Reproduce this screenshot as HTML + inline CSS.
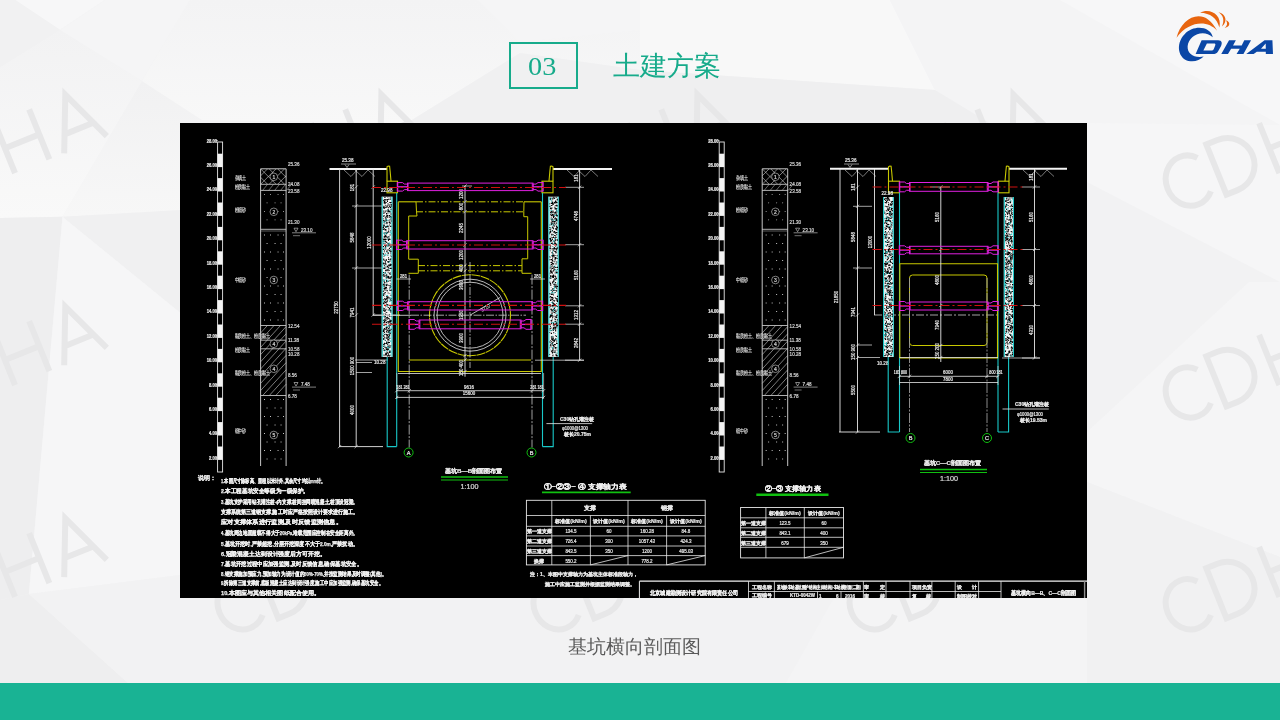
<!DOCTYPE html>
<html><head><meta charset="utf-8">
<style>
html,body{margin:0;padding:0;}
body{width:1280px;height:720px;position:relative;overflow:hidden;background:#f3f3f4;font-family:"Liberation Sans",sans-serif;}
#bg{position:absolute;left:0;top:0;}
.box{position:absolute;left:509px;top:42px;width:65px;height:43px;border:2px solid #17ab8b;}
.num{position:absolute;left:528px;top:54px;font-family:"Liberation Serif",serif;font-size:25px;line-height:25px;color:#17ab8b;transform-origin:0 0;transform:scaleX(1.13);white-space:nowrap;}
.title{position:absolute;left:613px;top:48px;font-size:27px;font-weight:300;color:#17ab8b;white-space:nowrap;}
.cap{position:absolute;left:568px;top:634px;font-size:19px;color:#5a5a5a;white-space:nowrap;}
.bar{position:absolute;left:0;top:683px;width:1280px;height:37px;background:#19b394;}
#cad{position:absolute;left:180px;top:123px;will-change:transform;}
.cap,.title,.num{will-change:transform;}
</style></head>
<body>
<svg id="bg" width="1280" height="720" viewBox="0 0 1280 720">
<defs><linearGradient id="g1" x1="0" y1="0" x2="0" y2="1"><stop offset="0" stop-color="#f2f2f3"/><stop offset="1" stop-color="#f9f9f9"/></linearGradient><linearGradient id="g2" x1="0" y1="0" x2="0" y2="1"><stop offset="0" stop-color="#f3f3f4"/><stop offset="1" stop-color="#f8f8f8"/></linearGradient><linearGradient id="g3" x1="0" y1="0" x2="0" y2="1"><stop offset="0" stop-color="#f1f1f2"/><stop offset="1" stop-color="#f7f7f7"/></linearGradient></defs>
<polygon points="0,0 1280,0 1280,720 0,720" fill="#f3f3f4"/>
<polygon points="15,0 105,0 60,30" fill="#f7f7f8"/>
<polygon points="0,0 15,0 60,30 0,67.5" fill="#f1f1f2"/>
<polygon points="105,0 190,0 142,81 60,30" fill="#f5f5f6"/>
<polygon points="0,67.5 60,30 142,81 62.5,216.7 0,218" fill="url(#g1)"/>
<polygon points="142,81 202,120 180,123 180,211 62.5,216.7" fill="url(#g3)"/>
<polygon points="190,0 478,0 520,42 640,30 640,70 520,53 407,123 202,120 142,81" fill="url(#g2)"/>
<polygon points="478,0 640,0 640,30 520,42" fill="#f5f5f6"/>
<polygon points="520,53 640,70 640,123 407,123" fill="#f0f0f1"/>
<polygon points="640,0 890,0 935,90 640,70" fill="#f8f8f8"/>
<polygon points="640,70 935,90 1087,123 640,123" fill="#efeff0"/>
<polygon points="890,0 1060,0 1280,125 1280,182 1087,182 935,90" fill="#f4f4f5"/>
<polygon points="1060,0 1280,0 1280,125" fill="#f7f7f8"/>
<polygon points="1087,182 1280,282 1249,282 1087,432" fill="#f2f2f3"/>
<polygon points="1087,123 1280,125 1280,282 1087,182" fill="#f6f6f7"/>
<polygon points="1280,282 1249,282 1087,432 1087,482 1280,557" fill="#f5f5f6"/>
<polygon points="1087,482 1280,557 1280,683 1087,683" fill="#f1f1f2"/>
<polygon points="0,218 62.5,216.7 28.9,594 0,600" fill="#eeeeef"/>
<polygon points="62.5,216.7 180,210 180,312.5" fill="#f0f0f1"/>
<polygon points="62.5,216.7 180,312.5 180,575 28.9,594" fill="#f6f6f7"/>
<polygon points="0,600 28.9,594 128,683 0,683" fill="#eeeeef"/>
<polygon points="28.9,594 180,575 180,598 834,598 786,683 128,683" fill="#f2f2f3"/>
<polygon points="834,598 1087,598 1087,683 786,683" fill="#f4f4f5"/>
<g id="wmg" fill="none" stroke="#e7e7e8" stroke-width="6" stroke-linecap="butt">
<path transform="translate(-353.9 194.6) rotate(-22)" d="M-13.2,-9 A23,25.5 0 1 1 -13.2,-45 M0,0 V-54 H12 A27,27 0 0 1 12,0 Z M57,0 V-54 M94,0 V-54 M57,-27 H94 M110,0 L133,-54 L156,0 M117.5,-17.5 H148.5"/>
<path transform="translate(-37.8 194.6) rotate(-22)" d="M-13.2,-9 A23,25.5 0 1 1 -13.2,-45 M0,0 V-54 H12 A27,27 0 0 1 12,0 Z M57,0 V-54 M94,0 V-54 M57,-27 H94 M110,0 L133,-54 L156,0 M117.5,-17.5 H148.5"/>
<path transform="translate(278.3 194.6) rotate(-22)" d="M-13.2,-9 A23,25.5 0 1 1 -13.2,-45 M0,0 V-54 H12 A27,27 0 0 1 12,0 Z M57,0 V-54 M94,0 V-54 M57,-27 H94 M110,0 L133,-54 L156,0 M117.5,-17.5 H148.5"/>
<path transform="translate(594.3 194.6) rotate(-22)" d="M-13.2,-9 A23,25.5 0 1 1 -13.2,-45 M0,0 V-54 H12 A27,27 0 0 1 12,0 Z M57,0 V-54 M94,0 V-54 M57,-27 H94 M110,0 L133,-54 L156,0 M117.5,-17.5 H148.5"/>
<path transform="translate(910.4 194.6) rotate(-22)" d="M-13.2,-9 A23,25.5 0 1 1 -13.2,-45 M0,0 V-54 H12 A27,27 0 0 1 12,0 Z M57,0 V-54 M94,0 V-54 M57,-27 H94 M110,0 L133,-54 L156,0 M117.5,-17.5 H148.5"/>
<path transform="translate(1226.5 194.6) rotate(-22)" d="M-13.2,-9 A23,25.5 0 1 1 -13.2,-45 M0,0 V-54 H12 A27,27 0 0 1 12,0 Z M57,0 V-54 M94,0 V-54 M57,-27 H94 M110,0 L133,-54 L156,0 M117.5,-17.5 H148.5"/>
<path transform="translate(-353.9 406.4) rotate(-22)" d="M-13.2,-9 A23,25.5 0 1 1 -13.2,-45 M0,0 V-54 H12 A27,27 0 0 1 12,0 Z M57,0 V-54 M94,0 V-54 M57,-27 H94 M110,0 L133,-54 L156,0 M117.5,-17.5 H148.5"/>
<path transform="translate(-37.8 406.4) rotate(-22)" d="M-13.2,-9 A23,25.5 0 1 1 -13.2,-45 M0,0 V-54 H12 A27,27 0 0 1 12,0 Z M57,0 V-54 M94,0 V-54 M57,-27 H94 M110,0 L133,-54 L156,0 M117.5,-17.5 H148.5"/>
<path transform="translate(278.3 406.4) rotate(-22)" d="M-13.2,-9 A23,25.5 0 1 1 -13.2,-45 M0,0 V-54 H12 A27,27 0 0 1 12,0 Z M57,0 V-54 M94,0 V-54 M57,-27 H94 M110,0 L133,-54 L156,0 M117.5,-17.5 H148.5"/>
<path transform="translate(594.3 406.4) rotate(-22)" d="M-13.2,-9 A23,25.5 0 1 1 -13.2,-45 M0,0 V-54 H12 A27,27 0 0 1 12,0 Z M57,0 V-54 M94,0 V-54 M57,-27 H94 M110,0 L133,-54 L156,0 M117.5,-17.5 H148.5"/>
<path transform="translate(910.4 406.4) rotate(-22)" d="M-13.2,-9 A23,25.5 0 1 1 -13.2,-45 M0,0 V-54 H12 A27,27 0 0 1 12,0 Z M57,0 V-54 M94,0 V-54 M57,-27 H94 M110,0 L133,-54 L156,0 M117.5,-17.5 H148.5"/>
<path transform="translate(1226.5 406.4) rotate(-22)" d="M-13.2,-9 A23,25.5 0 1 1 -13.2,-45 M0,0 V-54 H12 A27,27 0 0 1 12,0 Z M57,0 V-54 M94,0 V-54 M57,-27 H94 M110,0 L133,-54 L156,0 M117.5,-17.5 H148.5"/>
<path transform="translate(-353.9 618.3) rotate(-22)" d="M-13.2,-9 A23,25.5 0 1 1 -13.2,-45 M0,0 V-54 H12 A27,27 0 0 1 12,0 Z M57,0 V-54 M94,0 V-54 M57,-27 H94 M110,0 L133,-54 L156,0 M117.5,-17.5 H148.5"/>
<path transform="translate(-37.8 618.3) rotate(-22)" d="M-13.2,-9 A23,25.5 0 1 1 -13.2,-45 M0,0 V-54 H12 A27,27 0 0 1 12,0 Z M57,0 V-54 M94,0 V-54 M57,-27 H94 M110,0 L133,-54 L156,0 M117.5,-17.5 H148.5"/>
<path transform="translate(278.3 618.3) rotate(-22)" d="M-13.2,-9 A23,25.5 0 1 1 -13.2,-45 M0,0 V-54 H12 A27,27 0 0 1 12,0 Z M57,0 V-54 M94,0 V-54 M57,-27 H94 M110,0 L133,-54 L156,0 M117.5,-17.5 H148.5"/>
<path transform="translate(594.3 618.3) rotate(-22)" d="M-13.2,-9 A23,25.5 0 1 1 -13.2,-45 M0,0 V-54 H12 A27,27 0 0 1 12,0 Z M57,0 V-54 M94,0 V-54 M57,-27 H94 M110,0 L133,-54 L156,0 M117.5,-17.5 H148.5"/>
<path transform="translate(910.4 618.3) rotate(-22)" d="M-13.2,-9 A23,25.5 0 1 1 -13.2,-45 M0,0 V-54 H12 A27,27 0 0 1 12,0 Z M57,0 V-54 M94,0 V-54 M57,-27 H94 M110,0 L133,-54 L156,0 M117.5,-17.5 H148.5"/>
<path transform="translate(1226.5 618.3) rotate(-22)" d="M-13.2,-9 A23,25.5 0 1 1 -13.2,-45 M0,0 V-54 H12 A27,27 0 0 1 12,0 Z M57,0 V-54 M94,0 V-54 M57,-27 H94 M110,0 L133,-54 L156,0 M117.5,-17.5 H148.5"/>
</g>
</svg>
<div class="box"></div>
<div class="num">03</div>
<div class="title">土建方案</div>
<svg id="cad" width="907" height="475" viewBox="0 0 907 475">
<rect width="907" height="475" fill="#000"/>
<g transform="translate(-180,-123)" font-family="Liberation Sans, sans-serif">
<rect x="217.6" y="142.0" width="5.0" height="330.0" stroke="#e8e8e8" stroke-width="0.9" fill="none"/>
<rect x="217.6" y="153.7" width="5.0" height="13.4" fill="#f4f4f4"/>
<rect x="217.6" y="178.1" width="5.0" height="13.4" fill="#f4f4f4"/>
<rect x="217.6" y="202.5" width="5.0" height="13.4" fill="#f4f4f4"/>
<rect x="217.6" y="226.9" width="5.0" height="13.4" fill="#f4f4f4"/>
<rect x="217.6" y="251.3" width="5.0" height="13.4" fill="#f4f4f4"/>
<rect x="217.6" y="275.7" width="5.0" height="13.4" fill="#f4f4f4"/>
<rect x="217.6" y="300.1" width="5.0" height="13.4" fill="#f4f4f4"/>
<rect x="217.6" y="324.5" width="5.0" height="13.4" fill="#f4f4f4"/>
<rect x="217.6" y="348.9" width="5.0" height="13.4" fill="#f4f4f4"/>
<rect x="217.6" y="373.3" width="5.0" height="13.4" fill="#f4f4f4"/>
<rect x="217.6" y="397.7" width="5.0" height="13.4" fill="#f4f4f4"/>
<rect x="217.6" y="422.1" width="5.0" height="13.4" fill="#f4f4f4"/>
<rect x="217.6" y="446.5" width="5.0" height="13.4" fill="#f4f4f4"/>
<text transform="translate(217.0 142.5) scale(0.8 1)" x="0" y="0" font-size="5.2" fill="#e8e8e8" text-anchor="end" font-weight="bold" stroke="#e8e8e8" stroke-width="0.22">28.00</text>
<line x1="216.0" y1="140.5" x2="218.0" y2="140.5" stroke="#e8e8e8" stroke-width="0.6"/>
<text transform="translate(217.0 166.9) scale(0.8 1)" x="0" y="0" font-size="5.2" fill="#e8e8e8" text-anchor="end" font-weight="bold" stroke="#e8e8e8" stroke-width="0.22">26.00</text>
<line x1="216.0" y1="164.9" x2="218.0" y2="164.9" stroke="#e8e8e8" stroke-width="0.6"/>
<text transform="translate(217.0 191.3) scale(0.8 1)" x="0" y="0" font-size="5.2" fill="#e8e8e8" text-anchor="end" font-weight="bold" stroke="#e8e8e8" stroke-width="0.22">24.00</text>
<line x1="216.0" y1="189.3" x2="218.0" y2="189.3" stroke="#e8e8e8" stroke-width="0.6"/>
<text transform="translate(217.0 215.7) scale(0.8 1)" x="0" y="0" font-size="5.2" fill="#e8e8e8" text-anchor="end" font-weight="bold" stroke="#e8e8e8" stroke-width="0.22">22.00</text>
<line x1="216.0" y1="213.7" x2="218.0" y2="213.7" stroke="#e8e8e8" stroke-width="0.6"/>
<text transform="translate(217.0 240.1) scale(0.8 1)" x="0" y="0" font-size="5.2" fill="#e8e8e8" text-anchor="end" font-weight="bold" stroke="#e8e8e8" stroke-width="0.22">20.00</text>
<line x1="216.0" y1="238.1" x2="218.0" y2="238.1" stroke="#e8e8e8" stroke-width="0.6"/>
<text transform="translate(217.0 264.5) scale(0.8 1)" x="0" y="0" font-size="5.2" fill="#e8e8e8" text-anchor="end" font-weight="bold" stroke="#e8e8e8" stroke-width="0.22">18.00</text>
<line x1="216.0" y1="262.5" x2="218.0" y2="262.5" stroke="#e8e8e8" stroke-width="0.6"/>
<text transform="translate(217.0 288.9) scale(0.8 1)" x="0" y="0" font-size="5.2" fill="#e8e8e8" text-anchor="end" font-weight="bold" stroke="#e8e8e8" stroke-width="0.22">16.00</text>
<line x1="216.0" y1="286.9" x2="218.0" y2="286.9" stroke="#e8e8e8" stroke-width="0.6"/>
<text transform="translate(217.0 313.3) scale(0.8 1)" x="0" y="0" font-size="5.2" fill="#e8e8e8" text-anchor="end" font-weight="bold" stroke="#e8e8e8" stroke-width="0.22">14.00</text>
<line x1="216.0" y1="311.3" x2="218.0" y2="311.3" stroke="#e8e8e8" stroke-width="0.6"/>
<text transform="translate(217.0 337.7) scale(0.8 1)" x="0" y="0" font-size="5.2" fill="#e8e8e8" text-anchor="end" font-weight="bold" stroke="#e8e8e8" stroke-width="0.22">12.00</text>
<line x1="216.0" y1="335.7" x2="218.0" y2="335.7" stroke="#e8e8e8" stroke-width="0.6"/>
<text transform="translate(217.0 362.1) scale(0.8 1)" x="0" y="0" font-size="5.2" fill="#e8e8e8" text-anchor="end" font-weight="bold" stroke="#e8e8e8" stroke-width="0.22">10.00</text>
<line x1="216.0" y1="360.1" x2="218.0" y2="360.1" stroke="#e8e8e8" stroke-width="0.6"/>
<text transform="translate(217.0 386.5) scale(0.8 1)" x="0" y="0" font-size="5.2" fill="#e8e8e8" text-anchor="end" font-weight="bold" stroke="#e8e8e8" stroke-width="0.22">8.00</text>
<line x1="216.0" y1="384.5" x2="218.0" y2="384.5" stroke="#e8e8e8" stroke-width="0.6"/>
<text transform="translate(217.0 410.9) scale(0.8 1)" x="0" y="0" font-size="5.2" fill="#e8e8e8" text-anchor="end" font-weight="bold" stroke="#e8e8e8" stroke-width="0.22">6.00</text>
<line x1="216.0" y1="408.9" x2="218.0" y2="408.9" stroke="#e8e8e8" stroke-width="0.6"/>
<text transform="translate(217.0 435.3) scale(0.8 1)" x="0" y="0" font-size="5.2" fill="#e8e8e8" text-anchor="end" font-weight="bold" stroke="#e8e8e8" stroke-width="0.22">4.00</text>
<line x1="216.0" y1="433.3" x2="218.0" y2="433.3" stroke="#e8e8e8" stroke-width="0.6"/>
<text transform="translate(217.0 459.7) scale(0.8 1)" x="0" y="0" font-size="5.2" fill="#e8e8e8" text-anchor="end" font-weight="bold" stroke="#e8e8e8" stroke-width="0.22">2.00</text>
<line x1="216.0" y1="457.7" x2="218.0" y2="457.7" stroke="#e8e8e8" stroke-width="0.6"/>
<polyline points="260.6,466.0 260.6,168.8 286.1,168.8 286.1,466.0" stroke="#dcdcdc" stroke-width="0.9" fill="none"/>
<line x1="260.6" y1="184.3" x2="286.1" y2="184.3" stroke="#dcdcdc" stroke-width="0.8"/>
<line x1="260.6" y1="190.4" x2="286.1" y2="190.4" stroke="#dcdcdc" stroke-width="0.8"/>
<line x1="260.6" y1="229.3" x2="286.1" y2="229.3" stroke="#dcdcdc" stroke-width="0.8"/>
<line x1="260.6" y1="325.5" x2="286.1" y2="325.5" stroke="#dcdcdc" stroke-width="0.8"/>
<line x1="260.6" y1="340.2" x2="286.1" y2="340.2" stroke="#dcdcdc" stroke-width="0.8"/>
<line x1="260.6" y1="348.8" x2="286.1" y2="348.8" stroke="#dcdcdc" stroke-width="0.8"/>
<line x1="260.6" y1="395.5" x2="286.1" y2="395.5" stroke="#dcdcdc" stroke-width="0.8"/>
<line x1="260.6" y1="231.0" x2="286.1" y2="231.0" stroke="#bbbbbb" stroke-width="0.5"/>
<clipPath id="cl0"><rect x="260.6" y="168.8" width="25.5" height="15.5"/></clipPath>
<g stroke="#cfcfcf" stroke-width="0.6" clip-path="url(#cl0)">
<line x1="243.6" y1="168.8" x2="259.1" y2="184.3"/>
<line x1="259.1" y1="168.8" x2="243.6" y2="184.3"/>
<line x1="252.1" y1="168.8" x2="267.6" y2="184.3"/>
<line x1="267.6" y1="168.8" x2="252.1" y2="184.3"/>
<line x1="260.6" y1="168.8" x2="276.1" y2="184.3"/>
<line x1="276.1" y1="168.8" x2="260.6" y2="184.3"/>
<line x1="269.1" y1="168.8" x2="284.6" y2="184.3"/>
<line x1="284.6" y1="168.8" x2="269.1" y2="184.3"/>
<line x1="277.6" y1="168.8" x2="293.1" y2="184.3"/>
<line x1="293.1" y1="168.8" x2="277.6" y2="184.3"/>
<line x1="286.1" y1="168.8" x2="301.6" y2="184.3"/>
<line x1="301.6" y1="168.8" x2="286.1" y2="184.3"/>
<line x1="294.6" y1="168.8" x2="310.1" y2="184.3"/>
<line x1="310.1" y1="168.8" x2="294.6" y2="184.3"/>
<line x1="303.1" y1="168.8" x2="318.6" y2="184.3"/>
<line x1="318.6" y1="168.8" x2="303.1" y2="184.3"/>
</g>
<g stroke="#cfcfcf" stroke-width="0.5">
<line x1="262.6" y1="190.4" x2="267.6" y2="184.3"/>
<line x1="268.6" y1="190.4" x2="273.6" y2="184.3"/>
<line x1="274.6" y1="190.4" x2="279.6" y2="184.3"/>
<line x1="280.6" y1="190.4" x2="285.6" y2="184.3"/>
<line x1="286.6" y1="190.4" x2="291.6" y2="184.3"/>
</g>
<g stroke="#cfcfcf" stroke-width="0.6">
<line x1="260.6" y1="333.0" x2="267.4" y2="325.5"/>
<line x1="260.6" y1="340.2" x2="274.0" y2="325.5"/>
<line x1="260.6" y1="347.4" x2="280.5" y2="325.5"/>
<line x1="260.6" y1="354.6" x2="286.1" y2="326.6"/>
<line x1="260.6" y1="361.8" x2="286.1" y2="333.8"/>
<line x1="260.6" y1="369.0" x2="286.1" y2="341.0"/>
<line x1="260.6" y1="376.2" x2="286.1" y2="348.2"/>
<line x1="260.6" y1="383.4" x2="286.1" y2="355.4"/>
<line x1="260.6" y1="390.6" x2="286.1" y2="362.6"/>
<line x1="262.7" y1="395.5" x2="286.1" y2="369.8"/>
<line x1="269.3" y1="395.5" x2="286.1" y2="377.0"/>
<line x1="275.8" y1="395.5" x2="286.1" y2="384.2"/>
</g>
<path fill="#d8d8d8" d="M264.1 193.9h0.9v0.9h-0.9zM270.1 193.9h0.9v0.9h-0.9zM277.6 193.9h0.9v0.9h-0.9zM283.1 193.9h0.9v0.9h-0.9zM266.6 202.4h0.9v0.9h-0.9zM274.6 202.4h0.9v0.9h-0.9zM280.6 202.4h0.9v0.9h-0.9zM264.1 210.9h0.9v0.9h-0.9zM270.1 210.9h0.9v0.9h-0.9zM277.6 210.9h0.9v0.9h-0.9zM283.1 210.9h0.9v0.9h-0.9zM266.6 219.4h0.9v0.9h-0.9zM274.6 219.4h0.9v0.9h-0.9zM280.6 219.4h0.9v0.9h-0.9zM264.1 234.5h0.9v0.9h-0.9zM270.1 234.5h0.9v0.9h-0.9zM277.6 234.5h0.9v0.9h-0.9zM283.1 234.5h0.9v0.9h-0.9zM266.6 243.0h0.9v0.9h-0.9zM274.6 243.0h0.9v0.9h-0.9zM280.6 243.0h0.9v0.9h-0.9zM264.1 251.5h0.9v0.9h-0.9zM270.1 251.5h0.9v0.9h-0.9zM277.6 251.5h0.9v0.9h-0.9zM283.1 251.5h0.9v0.9h-0.9zM266.6 260.0h0.9v0.9h-0.9zM274.6 260.0h0.9v0.9h-0.9zM280.6 260.0h0.9v0.9h-0.9zM264.1 268.5h0.9v0.9h-0.9zM270.1 268.5h0.9v0.9h-0.9zM277.6 268.5h0.9v0.9h-0.9zM283.1 268.5h0.9v0.9h-0.9zM266.6 277.0h0.9v0.9h-0.9zM274.6 277.0h0.9v0.9h-0.9zM280.6 277.0h0.9v0.9h-0.9zM264.1 285.5h0.9v0.9h-0.9zM270.1 285.5h0.9v0.9h-0.9zM277.6 285.5h0.9v0.9h-0.9zM283.1 285.5h0.9v0.9h-0.9zM266.6 294.0h0.9v0.9h-0.9zM274.6 294.0h0.9v0.9h-0.9zM280.6 294.0h0.9v0.9h-0.9zM264.1 302.5h0.9v0.9h-0.9zM270.1 302.5h0.9v0.9h-0.9zM277.6 302.5h0.9v0.9h-0.9zM283.1 302.5h0.9v0.9h-0.9zM266.6 311.0h0.9v0.9h-0.9zM274.6 311.0h0.9v0.9h-0.9zM280.6 311.0h0.9v0.9h-0.9zM264.1 319.5h0.9v0.9h-0.9zM270.1 319.5h0.9v0.9h-0.9zM277.6 319.5h0.9v0.9h-0.9zM283.1 319.5h0.9v0.9h-0.9zM264.1 399.0h0.9v0.9h-0.9zM270.1 399.0h0.9v0.9h-0.9zM277.6 399.0h0.9v0.9h-0.9zM283.1 399.0h0.9v0.9h-0.9zM266.6 407.5h0.9v0.9h-0.9zM274.6 407.5h0.9v0.9h-0.9zM280.6 407.5h0.9v0.9h-0.9zM264.1 416.0h0.9v0.9h-0.9zM270.1 416.0h0.9v0.9h-0.9zM277.6 416.0h0.9v0.9h-0.9zM283.1 416.0h0.9v0.9h-0.9zM266.6 424.5h0.9v0.9h-0.9zM274.6 424.5h0.9v0.9h-0.9zM280.6 424.5h0.9v0.9h-0.9zM264.1 433.0h0.9v0.9h-0.9zM270.1 433.0h0.9v0.9h-0.9zM277.6 433.0h0.9v0.9h-0.9zM283.1 433.0h0.9v0.9h-0.9zM266.6 441.5h0.9v0.9h-0.9zM274.6 441.5h0.9v0.9h-0.9zM280.6 441.5h0.9v0.9h-0.9zM264.1 450.0h0.9v0.9h-0.9zM270.1 450.0h0.9v0.9h-0.9zM277.6 450.0h0.9v0.9h-0.9zM283.1 450.0h0.9v0.9h-0.9zM266.6 458.5h0.9v0.9h-0.9zM274.6 458.5h0.9v0.9h-0.9zM280.6 458.5h0.9v0.9h-0.9z"/>
<circle cx="273.8" cy="176.8" r="3.8" stroke="#d0d0d0" stroke-width="0.6" fill="#000"/>
<text x="273.8" y="178.6" font-size="5" fill="#d0d0d0" text-anchor="middle" stroke="#d0d0d0" stroke-width="0.22">1</text>
<circle cx="273.8" cy="211.8" r="3.8" stroke="#d0d0d0" stroke-width="0.6" fill="#000"/>
<text x="273.8" y="213.6" font-size="5" fill="#d0d0d0" text-anchor="middle" stroke="#d0d0d0" stroke-width="0.22">2</text>
<circle cx="273.8" cy="280.0" r="3.8" stroke="#d0d0d0" stroke-width="0.6" fill="#000"/>
<text x="273.8" y="281.8" font-size="5" fill="#d0d0d0" text-anchor="middle" stroke="#d0d0d0" stroke-width="0.22">3</text>
<circle cx="273.8" cy="343.8" r="3.8" stroke="#d0d0d0" stroke-width="0.6" fill="#000"/>
<text x="273.8" y="345.6" font-size="5" fill="#d0d0d0" text-anchor="middle" stroke="#d0d0d0" stroke-width="0.22">4</text>
<circle cx="273.8" cy="368.8" r="3.8" stroke="#d0d0d0" stroke-width="0.6" fill="#000"/>
<text x="273.8" y="370.6" font-size="5" fill="#d0d0d0" text-anchor="middle" stroke="#d0d0d0" stroke-width="0.22">4</text>
<circle cx="273.8" cy="435.0" r="3.8" stroke="#d0d0d0" stroke-width="0.6" fill="#000"/>
<text x="273.8" y="436.8" font-size="5" fill="#d0d0d0" text-anchor="middle" stroke="#d0d0d0" stroke-width="0.22">5</text>
<text transform="translate(234.5 179.7) scale(0.68 1)" x="0" y="0" font-size="6" fill="#c8c8c8" text-anchor="start" stroke="#c8c8c8" stroke-width="0.22">杂填土</text>
<text transform="translate(234.5 189.2) scale(0.68 1)" x="0" y="0" font-size="6" fill="#c8c8c8" text-anchor="start" stroke="#c8c8c8" stroke-width="0.22">粉质黏土</text>
<text transform="translate(234.5 212.2) scale(0.68 1)" x="0" y="0" font-size="6" fill="#c8c8c8" text-anchor="start" stroke="#c8c8c8" stroke-width="0.22">粉细砂</text>
<text transform="translate(234.5 282.2) scale(0.68 1)" x="0" y="0" font-size="6" fill="#c8c8c8" text-anchor="start" stroke="#c8c8c8" stroke-width="0.22">中细砂</text>
<text transform="translate(234.5 338.2) scale(0.68 1)" x="0" y="0" font-size="6" fill="#c8c8c8" text-anchor="start" stroke="#c8c8c8" stroke-width="0.22">黏质粉土、粉质黏土</text>
<text transform="translate(234.5 352.2) scale(0.68 1)" x="0" y="0" font-size="6" fill="#c8c8c8" text-anchor="start" stroke="#c8c8c8" stroke-width="0.22">粉质黏土</text>
<text transform="translate(234.5 374.7) scale(0.68 1)" x="0" y="0" font-size="6" fill="#c8c8c8" text-anchor="start" stroke="#c8c8c8" stroke-width="0.22">黏质粉土、粉质黏土</text>
<text transform="translate(234.5 433.2) scale(0.68 1)" x="0" y="0" font-size="6" fill="#c8c8c8" text-anchor="start" stroke="#c8c8c8" stroke-width="0.22">细中砂</text>
<text transform="translate(288.0 166.4) scale(0.85 1)" x="0" y="0" font-size="5.4" fill="#d8d8d8" text-anchor="start" stroke="#d8d8d8" stroke-width="0.22">25.36</text>
<text transform="translate(288.0 186.4) scale(0.85 1)" x="0" y="0" font-size="5.4" fill="#d8d8d8" text-anchor="start" stroke="#d8d8d8" stroke-width="0.22">24.08</text>
<text transform="translate(288.0 192.6) scale(0.85 1)" x="0" y="0" font-size="5.4" fill="#d8d8d8" text-anchor="start" stroke="#d8d8d8" stroke-width="0.22">23.58</text>
<text transform="translate(288.0 224.2) scale(0.85 1)" x="0" y="0" font-size="5.4" fill="#d8d8d8" text-anchor="start" stroke="#d8d8d8" stroke-width="0.22">21.30</text>
<text transform="translate(288.0 327.5) scale(0.85 1)" x="0" y="0" font-size="5.4" fill="#d8d8d8" text-anchor="start" stroke="#d8d8d8" stroke-width="0.22">12.54</text>
<text transform="translate(288.0 342.0) scale(0.85 1)" x="0" y="0" font-size="5.4" fill="#d8d8d8" text-anchor="start" stroke="#d8d8d8" stroke-width="0.22">11.38</text>
<text transform="translate(288.0 350.8) scale(0.85 1)" x="0" y="0" font-size="5.4" fill="#d8d8d8" text-anchor="start" stroke="#d8d8d8" stroke-width="0.22">10.58</text>
<text transform="translate(288.0 355.8) scale(0.85 1)" x="0" y="0" font-size="5.4" fill="#d8d8d8" text-anchor="start" stroke="#d8d8d8" stroke-width="0.22">10.28</text>
<text transform="translate(288.0 376.5) scale(0.85 1)" x="0" y="0" font-size="5.4" fill="#d8d8d8" text-anchor="start" stroke="#d8d8d8" stroke-width="0.22">8.56</text>
<text transform="translate(288.0 397.5) scale(0.85 1)" x="0" y="0" font-size="5.4" fill="#d8d8d8" text-anchor="start" stroke="#d8d8d8" stroke-width="0.22">6.78</text>
<path d="M294.0 228.2h4l-2 3.5z" fill="none" stroke="#d8d8d8" stroke-width="0.6"/>
<text transform="translate(301.0 232.0) scale(0.85 1)" x="0" y="0" font-size="5.4" fill="#d8d8d8" text-anchor="start" stroke="#d8d8d8" stroke-width="0.22">23.10</text>
<line x1="292.0" y1="232.8" x2="316.0" y2="232.8" stroke="#d8d8d8" stroke-width="0.6"/>
<line x1="293.0" y1="235.7" x2="300.0" y2="235.7" stroke="#bbbbbb" stroke-width="0.6"/>
<path d="M294.0 382.5h4l-2 3.5z" fill="none" stroke="#d8d8d8" stroke-width="0.6"/>
<text transform="translate(301.0 386.3) scale(0.85 1)" x="0" y="0" font-size="5.4" fill="#d8d8d8" text-anchor="start" stroke="#d8d8d8" stroke-width="0.22">7.48</text>
<line x1="292.0" y1="387.1" x2="316.0" y2="387.1" stroke="#d8d8d8" stroke-width="0.6"/>
<line x1="293.0" y1="390.0" x2="300.0" y2="390.0" stroke="#bbbbbb" stroke-width="0.6"/>
<line x1="329.5" y1="169.0" x2="387.0" y2="169.0" stroke="#f4f4f4" stroke-width="2.0"/>
<line x1="553.0" y1="169.0" x2="612.0" y2="169.0" stroke="#f4f4f4" stroke-width="2.0"/>
<polyline points="344.0,170.0 351.0,176.5 357.0,170.0" stroke="#c8c8c8" stroke-width="0.6" fill="none"/>
<polyline points="355.0,170.0 362.0,176.5 368.0,170.0 375.0,176.5" stroke="#c8c8c8" stroke-width="0.6" fill="none"/>
<polyline points="567.0,170.0 574.0,176.5 580.0,170.0" stroke="#c8c8c8" stroke-width="0.6" fill="none"/>
<polyline points="578.0,170.0 585.0,176.5 591.0,170.0 598.0,176.5" stroke="#c8c8c8" stroke-width="0.6" fill="none"/>
<text transform="translate(342.0 162.0) scale(0.85 1)" x="0" y="0" font-size="5.4" fill="#e8e8e8" text-anchor="start" stroke="#e8e8e8" stroke-width="0.22">25.38</text>
<line x1="341.0" y1="164.0" x2="356.0" y2="164.0" stroke="#e8e8e8" stroke-width="0.6"/>
<path d="M345 164.5l2 3l2 -3" stroke="#e8e8e8" stroke-width="0.6" fill="none"/>
<line x1="339.6" y1="169.0" x2="339.6" y2="446.6" stroke="#e8e8e8" stroke-width="0.9"/>
<line x1="356.2" y1="169.0" x2="356.2" y2="446.6" stroke="#e8e8e8" stroke-width="0.9"/>
<line x1="373.2" y1="169.0" x2="373.2" y2="315.0" stroke="#e8e8e8" stroke-width="0.9"/>
<line x1="339.0" y1="446.6" x2="383.0" y2="446.6" stroke="#e8e8e8" stroke-width="0.9"/>
<line x1="354.6" y1="188.6" x2="357.8" y2="185.4" stroke="#e8e8e8" stroke-width="0.7"/>
<line x1="352.0" y1="206.0" x2="383.0" y2="206.0" stroke="#e8e8e8" stroke-width="0.7"/>
<line x1="354.6" y1="207.6" x2="357.8" y2="204.4" stroke="#e8e8e8" stroke-width="0.7"/>
<line x1="352.0" y1="268.0" x2="383.0" y2="268.0" stroke="#e8e8e8" stroke-width="0.7"/>
<line x1="354.6" y1="269.6" x2="357.8" y2="266.4" stroke="#e8e8e8" stroke-width="0.7"/>
<line x1="354.6" y1="316.6" x2="357.8" y2="313.4" stroke="#e8e8e8" stroke-width="0.7"/>
<line x1="371.6" y1="188.6" x2="374.8" y2="185.4" stroke="#e8e8e8" stroke-width="0.7"/>
<line x1="371.6" y1="316.6" x2="374.8" y2="313.4" stroke="#e8e8e8" stroke-width="0.7"/>
<line x1="373.0" y1="315.0" x2="400.0" y2="315.0" stroke="#e8e8e8" stroke-width="0.7"/>
<line x1="356.0" y1="362.5" x2="372.0" y2="362.5" stroke="#e8e8e8" stroke-width="0.7"/>
<line x1="356.0" y1="372.5" x2="372.0" y2="372.5" stroke="#e8e8e8" stroke-width="0.7"/>
<line x1="338.0" y1="448.2" x2="341.2" y2="445.0" stroke="#e8e8e8" stroke-width="0.7"/>
<line x1="354.6" y1="448.2" x2="357.8" y2="445.0" stroke="#e8e8e8" stroke-width="0.7"/>
<text transform="translate(354.0 187.5) rotate(-90) scale(0.85 1)" x="0" y="0" font-size="5.2" fill="#e8e8e8" stroke="#e8e8e8" stroke-width="0.2" text-anchor="middle">181</text>
<text transform="translate(354.0 237.5) rotate(-90) scale(0.85 1)" x="0" y="0" font-size="5.2" fill="#e8e8e8" stroke="#e8e8e8" stroke-width="0.2" text-anchor="middle">5848</text>
<text transform="translate(371.0 242.5) rotate(-90) scale(0.85 1)" x="0" y="0" font-size="5.2" fill="#e8e8e8" stroke="#e8e8e8" stroke-width="0.2" text-anchor="middle">12000</text>
<text transform="translate(337.5 307.5) rotate(-90) scale(0.85 1)" x="0" y="0" font-size="5.2" fill="#e8e8e8" stroke="#e8e8e8" stroke-width="0.2" text-anchor="middle">22750</text>
<text transform="translate(354.0 312.5) rotate(-90) scale(0.85 1)" x="0" y="0" font-size="5.2" fill="#e8e8e8" stroke="#e8e8e8" stroke-width="0.2" text-anchor="middle">7941</text>
<text transform="translate(354.0 410.0) rotate(-90) scale(0.85 1)" x="0" y="0" font-size="5.2" fill="#e8e8e8" stroke="#e8e8e8" stroke-width="0.2" text-anchor="middle">4000</text>
<text transform="translate(354.0 366.0) rotate(-90) scale(0.85 1)" x="0" y="0" font-size="5.2" fill="#e8e8e8" stroke="#e8e8e8" stroke-width="0.2" text-anchor="middle">1500 900</text>
<rect x="387.0" y="181.2" width="10.5" height="11.6" stroke="#c8c800" stroke-width="1.1" fill="none"/>
<polyline points="387.0,181.2 387.0,166.8 388.2,166.0 389.6,166.3 390.2,172.0 391.0,181.2" stroke="#c8c800" stroke-width="1.1" fill="none"/>
<rect x="542.0" y="181.2" width="11.0" height="11.6" stroke="#c8c800" stroke-width="1.1" fill="none"/>
<polyline points="553.0,181.2 553.0,166.8 551.8,166.0 550.4,166.3 549.8,172.0 549.0,181.2" stroke="#c8c800" stroke-width="1.1" fill="none"/>
<text transform="translate(381.0 192.0) scale(0.85 1)" x="0" y="0" font-size="5.4" fill="#e8e8e8" text-anchor="start" stroke="#e8e8e8" stroke-width="0.22">22.98</text>
<text transform="translate(374.0 364.0) scale(0.85 1)" x="0" y="0" font-size="5.4" fill="#e8e8e8" text-anchor="start" stroke="#e8e8e8" stroke-width="0.22">10.28</text>
<line x1="355.0" y1="360.0" x2="388.0" y2="360.0" stroke="#e8e8e8" stroke-width="0.7"/>
<line x1="396.7" y1="193.0" x2="396.7" y2="446.6" stroke="#19c8c8" stroke-width="1.1"/>
<line x1="542.5" y1="193.0" x2="542.5" y2="446.6" stroke="#19c8c8" stroke-width="1.1"/>
<polyline points="387.2,357.0 387.2,446.6 396.7,446.6" stroke="#19c8c8" stroke-width="1.1" fill="none"/>
<polyline points="553.2,357.0 553.2,446.6 542.5,446.6" stroke="#19c8c8" stroke-width="1.1" fill="none"/>
<rect x="381.7" y="196.7" width="10.8" height="160.2" fill="#f4f4f4"/>
<rect x="381.7" y="196.7" width="1.1" height="160.2" fill="#20c8c8"/>
<rect x="391.4" y="196.7" width="1.1" height="160.2" fill="#20c8c8"/>
<path fill="#000" d="M387.0 254.8h0.7v0.7h-0.7zM386.1 328.2h0.8v0.8h-0.8zM387.7 347.4h1.0v1.0h-1.0zM390.5 204.1h1.2v1.2h-1.2zM383.9 215.4h0.9v0.9h-0.9zM384.1 289.2h1.1v1.1h-1.1zM387.1 206.7h0.7v0.7h-0.7zM388.1 264.7h0.9v0.9h-0.9zM386.3 244.4h1.2v1.2h-1.2zM384.7 288.0h1.0v1.0h-1.0zM386.0 317.1h0.8v0.8h-0.8zM383.0 302.9h1.2v1.2h-1.2zM389.7 246.6h1.1v1.1h-1.1zM387.3 269.2h1.2v1.2h-1.2zM386.5 302.3h0.7v0.7h-0.7zM387.9 354.6h1.2v1.2h-1.2zM385.8 303.0h0.7v0.7h-0.7zM384.0 215.3h0.7v0.7h-0.7zM383.7 236.1h0.9v0.9h-0.9zM383.3 268.1h1.0v1.0h-1.0zM389.3 334.1h0.9v0.9h-0.9zM385.6 337.3h1.3v1.3h-1.3zM384.1 233.6h0.8v0.8h-0.8zM387.4 238.5h0.7v0.7h-0.7zM385.7 286.7h1.3v1.3h-1.3zM389.9 320.7h1.2v1.2h-1.2zM385.8 260.1h0.8v0.8h-0.8zM383.2 207.4h0.8v0.8h-0.8zM385.4 205.1h0.7v0.7h-0.7zM383.5 254.5h0.7v0.7h-0.7zM387.6 220.3h0.9v0.9h-0.9zM385.6 216.2h1.2v1.2h-1.2zM385.4 238.8h1.2v1.2h-1.2zM382.9 347.9h1.0v1.0h-1.0zM387.0 201.0h1.0v1.0h-1.0zM389.6 307.4h0.9v0.9h-0.9zM384.0 319.4h1.0v1.0h-1.0zM385.3 232.2h1.2v1.2h-1.2zM389.5 324.9h1.2v1.2h-1.2zM382.9 241.1h0.9v0.9h-0.9zM390.4 267.8h1.3v1.3h-1.3zM390.3 254.7h0.8v0.8h-0.8zM384.3 229.2h1.1v1.1h-1.1zM389.4 272.9h1.1v1.1h-1.1zM383.4 301.7h1.2v1.2h-1.2zM388.7 272.7h0.8v0.8h-0.8zM385.4 324.0h1.3v1.3h-1.3zM385.9 347.2h1.1v1.1h-1.1zM383.7 220.7h1.2v1.2h-1.2zM383.9 328.1h1.3v1.3h-1.3zM390.5 300.0h1.0v1.0h-1.0zM386.2 335.3h1.2v1.2h-1.2zM384.7 243.3h0.8v0.8h-0.8zM384.8 263.3h0.8v0.8h-0.8zM385.5 269.5h1.1v1.1h-1.1zM386.1 342.6h1.0v1.0h-1.0zM386.9 199.7h1.0v1.0h-1.0zM382.7 323.8h0.8v0.8h-0.8zM388.5 285.2h0.9v0.9h-0.9zM387.1 321.4h0.8v0.8h-0.8zM384.7 240.7h1.2v1.2h-1.2zM387.2 317.5h1.2v1.2h-1.2zM387.6 277.1h1.0v1.0h-1.0zM386.3 281.5h1.0v1.0h-1.0zM388.3 336.1h1.3v1.3h-1.3zM383.7 267.0h0.7v0.7h-0.7zM383.3 303.1h1.2v1.2h-1.2zM383.9 310.6h1.1v1.1h-1.1zM389.8 350.5h0.8v0.8h-0.8zM385.9 274.2h1.3v1.3h-1.3zM384.0 265.3h1.0v1.0h-1.0zM387.1 266.7h0.7v0.7h-0.7zM387.7 278.1h0.7v0.7h-0.7zM389.0 351.2h0.8v0.8h-0.8zM386.1 341.6h1.2v1.2h-1.2zM383.9 342.8h1.0v1.0h-1.0zM383.4 205.8h1.1v1.1h-1.1zM383.3 345.9h1.1v1.1h-1.1zM383.4 332.8h0.7v0.7h-0.7zM386.3 250.6h1.0v1.0h-1.0zM384.8 217.2h1.0v1.0h-1.0zM383.6 222.4h0.7v0.7h-0.7zM385.2 245.2h1.2v1.2h-1.2zM384.7 199.1h1.1v1.1h-1.1zM389.3 265.4h1.0v1.0h-1.0zM385.8 277.3h1.1v1.1h-1.1zM385.4 329.0h1.1v1.1h-1.1zM383.3 314.5h0.9v0.9h-0.9zM383.4 330.5h1.2v1.2h-1.2zM385.0 235.2h0.9v0.9h-0.9zM384.0 267.6h0.9v0.9h-0.9zM390.5 283.7h0.8v0.8h-0.8zM385.2 253.4h0.7v0.7h-0.7zM386.5 276.6h0.8v0.8h-0.8zM382.7 238.7h0.8v0.8h-0.8zM383.0 200.3h0.9v0.9h-0.9zM387.4 280.8h1.2v1.2h-1.2zM388.4 336.5h0.9v0.9h-0.9zM390.6 220.5h1.1v1.1h-1.1zM383.1 329.5h1.2v1.2h-1.2zM388.6 325.8h0.8v0.8h-0.8zM386.7 329.5h1.2v1.2h-1.2zM387.4 338.7h1.1v1.1h-1.1zM384.5 201.7h0.8v0.8h-0.8zM383.5 329.6h1.0v1.0h-1.0zM389.1 315.7h1.0v1.0h-1.0zM388.0 207.2h1.1v1.1h-1.1zM383.3 238.9h1.1v1.1h-1.1zM388.6 351.8h1.0v1.0h-1.0zM386.5 305.4h1.2v1.2h-1.2zM387.8 209.0h0.8v0.8h-0.8zM383.2 239.4h1.1v1.1h-1.1zM388.1 242.9h1.0v1.0h-1.0zM386.4 215.5h1.2v1.2h-1.2zM390.5 345.6h0.7v0.7h-0.7zM389.3 350.6h1.0v1.0h-1.0zM384.4 347.0h0.8v0.8h-0.8zM389.3 277.6h1.2v1.2h-1.2zM382.7 274.9h1.0v1.0h-1.0zM383.8 251.4h0.9v0.9h-0.9zM390.1 310.1h1.2v1.2h-1.2zM385.7 259.2h1.3v1.3h-1.3zM383.5 329.4h0.9v0.9h-0.9zM384.7 239.0h1.0v1.0h-1.0zM385.7 348.7h1.2v1.2h-1.2zM387.7 341.9h1.3v1.3h-1.3zM388.5 204.6h1.1v1.1h-1.1zM390.1 216.9h1.0v1.0h-1.0zM385.1 314.2h1.3v1.3h-1.3zM387.9 244.5h1.0v1.0h-1.0zM384.0 222.4h0.8v0.8h-0.8zM386.7 231.7h1.2v1.2h-1.2zM385.4 211.2h0.8v0.8h-0.8zM387.3 337.8h1.1v1.1h-1.1zM386.0 280.0h0.9v0.9h-0.9zM386.7 296.8h1.2v1.2h-1.2zM384.9 236.2h0.9v0.9h-0.9zM383.0 309.5h1.2v1.2h-1.2zM387.4 196.7h0.9v0.9h-0.9zM389.3 332.7h1.3v1.3h-1.3zM383.6 221.2h1.0v1.0h-1.0zM390.2 311.5h1.1v1.1h-1.1zM386.4 284.4h0.7v0.7h-0.7zM384.6 343.0h1.1v1.1h-1.1zM383.7 236.7h1.1v1.1h-1.1zM383.6 207.9h1.0v1.0h-1.0zM385.1 269.9h1.3v1.3h-1.3zM389.8 272.3h0.8v0.8h-0.8zM386.7 303.9h1.0v1.0h-1.0zM385.4 263.6h1.1v1.1h-1.1zM389.1 314.2h1.0v1.0h-1.0zM390.5 246.3h1.2v1.2h-1.2zM384.5 317.6h0.9v0.9h-0.9zM386.7 226.5h0.8v0.8h-0.8zM388.0 347.6h0.8v0.8h-0.8zM383.2 259.2h1.2v1.2h-1.2zM388.6 355.3h1.3v1.3h-1.3zM388.0 256.9h0.9v0.9h-0.9zM384.1 197.2h0.9v0.9h-0.9zM390.3 216.4h1.3v1.3h-1.3zM385.6 327.3h1.2v1.2h-1.2zM383.1 272.0h0.9v0.9h-0.9zM383.0 206.7h1.3v1.3h-1.3zM388.7 339.6h0.9v0.9h-0.9zM390.4 294.8h0.9v0.9h-0.9zM385.2 240.5h0.7v0.7h-0.7zM384.6 272.3h1.3v1.3h-1.3zM385.8 236.6h1.0v1.0h-1.0zM390.1 225.8h1.2v1.2h-1.2zM389.3 319.6h1.1v1.1h-1.1zM383.0 284.6h0.9v0.9h-0.9zM383.5 276.0h1.1v1.1h-1.1zM384.6 263.0h1.1v1.1h-1.1zM389.4 243.4h1.0v1.0h-1.0zM388.6 228.4h0.8v0.8h-0.8zM383.9 337.3h1.0v1.0h-1.0zM385.9 354.5h1.0v1.0h-1.0zM386.5 326.9h1.2v1.2h-1.2zM383.0 243.4h0.8v0.8h-0.8zM390.5 289.4h1.3v1.3h-1.3zM389.6 268.1h0.9v0.9h-0.9zM390.3 213.5h1.1v1.1h-1.1zM384.4 255.3h0.8v0.8h-0.8zM384.7 292.0h1.1v1.1h-1.1zM382.8 248.7h1.1v1.1h-1.1zM385.2 229.0h1.2v1.2h-1.2zM383.2 212.8h0.9v0.9h-0.9zM387.8 211.2h0.8v0.8h-0.8zM386.0 241.7h0.9v0.9h-0.9zM385.2 286.8h0.9v0.9h-0.9zM389.6 355.2h0.9v0.9h-0.9zM388.5 229.1h0.7v0.7h-0.7zM386.1 327.1h0.9v0.9h-0.9zM386.4 222.5h0.7v0.7h-0.7zM387.8 341.4h0.8v0.8h-0.8zM385.7 276.9h0.8v0.8h-0.8zM386.9 343.9h0.8v0.8h-0.8zM390.1 258.4h1.2v1.2h-1.2zM389.3 222.2h1.2v1.2h-1.2zM385.9 331.3h1.2v1.2h-1.2zM384.4 260.3h1.0v1.0h-1.0zM383.7 236.0h1.1v1.1h-1.1zM389.4 215.4h1.1v1.1h-1.1zM387.7 245.4h1.0v1.0h-1.0zM386.1 301.5h1.0v1.0h-1.0zM382.9 295.1h1.0v1.0h-1.0zM388.8 320.7h1.0v1.0h-1.0zM386.5 213.7h0.8v0.8h-0.8zM387.8 209.8h1.1v1.1h-1.1zM386.8 205.3h1.0v1.0h-1.0zM390.3 218.4h1.2v1.2h-1.2zM388.6 326.3h0.8v0.8h-0.8zM386.6 348.8h1.2v1.2h-1.2zM389.0 344.7h0.7v0.7h-0.7zM388.7 221.9h1.2v1.2h-1.2zM389.2 219.5h1.0v1.0h-1.0zM384.4 238.5h1.0v1.0h-1.0zM383.0 225.7h0.8v0.8h-0.8zM388.1 339.1h0.8v0.8h-0.8zM383.6 281.1h1.1v1.1h-1.1zM389.7 285.0h1.0v1.0h-1.0zM383.5 354.6h1.1v1.1h-1.1zM389.1 238.8h1.3v1.3h-1.3zM385.6 318.3h1.0v1.0h-1.0zM388.6 204.4h1.2v1.2h-1.2zM387.8 353.2h1.1v1.1h-1.1zM385.2 197.0h0.7v0.7h-0.7zM387.6 265.4h1.0v1.0h-1.0zM382.7 253.1h0.8v0.8h-0.8zM384.5 289.5h1.1v1.1h-1.1zM387.7 272.2h0.8v0.8h-0.8zM384.6 220.4h0.8v0.8h-0.8zM389.7 321.1h0.9v0.9h-0.9zM382.8 299.2h1.0v1.0h-1.0zM387.9 267.3h1.3v1.3h-1.3zM384.7 340.4h0.7v0.7h-0.7zM385.9 234.5h0.7v0.7h-0.7zM382.8 284.3h1.3v1.3h-1.3zM384.3 293.4h1.0v1.0h-1.0zM389.2 224.5h0.9v0.9h-0.9zM383.1 338.1h1.2v1.2h-1.2zM382.8 331.0h1.1v1.1h-1.1zM384.6 202.9h0.9v0.9h-0.9zM388.3 331.1h1.1v1.1h-1.1zM387.1 266.0h1.2v1.2h-1.2zM384.8 298.8h1.3v1.3h-1.3zM389.7 199.1h0.9v0.9h-0.9zM388.7 346.9h1.1v1.1h-1.1zM389.7 248.9h0.8v0.8h-0.8zM387.7 306.9h1.1v1.1h-1.1zM386.5 330.2h1.1v1.1h-1.1zM386.2 311.9h1.0v1.0h-1.0zM384.4 295.7h0.7v0.7h-0.7zM383.9 201.0h0.8v0.8h-0.8zM388.2 297.5h1.1v1.1h-1.1zM383.2 290.6h0.9v0.9h-0.9zM389.3 338.4h0.7v0.7h-0.7zM390.0 346.8h0.8v0.8h-0.8zM383.6 202.2h1.2v1.2h-1.2zM387.8 327.9h1.1v1.1h-1.1zM383.5 212.3h1.2v1.2h-1.2zM385.3 264.1h0.7v0.7h-0.7zM385.0 310.5h0.9v0.9h-0.9zM390.4 276.8h1.2v1.2h-1.2zM382.9 262.4h1.0v1.0h-1.0zM385.5 308.7h1.0v1.0h-1.0zM389.6 211.2h1.2v1.2h-1.2zM382.7 228.8h1.2v1.2h-1.2zM382.7 274.7h1.0v1.0h-1.0zM384.2 275.3h0.9v0.9h-0.9zM384.8 346.8h0.9v0.9h-0.9zM388.3 275.9h0.8v0.8h-0.8zM383.3 322.0h1.1v1.1h-1.1zM387.7 253.2h0.9v0.9h-0.9zM384.3 238.5h1.2v1.2h-1.2zM385.7 337.3h0.8v0.8h-0.8zM387.0 316.7h1.2v1.2h-1.2zM385.5 248.6h0.8v0.8h-0.8zM388.0 314.7h0.8v0.8h-0.8zM388.9 288.8h0.8v0.8h-0.8zM389.8 234.5h0.8v0.8h-0.8zM388.3 330.8h0.8v0.8h-0.8zM384.7 248.6h1.0v1.0h-1.0zM385.3 226.8h1.3v1.3h-1.3zM383.5 349.7h0.8v0.8h-0.8zM390.6 323.1h1.1v1.1h-1.1zM384.3 298.1h0.8v0.8h-0.8zM385.8 202.1h0.9v0.9h-0.9zM388.2 276.3h1.1v1.1h-1.1zM383.8 292.7h0.9v0.9h-0.9zM390.0 265.1h1.0v1.0h-1.0zM386.1 233.0h1.1v1.1h-1.1zM388.9 308.0h1.2v1.2h-1.2zM387.8 268.9h0.9v0.9h-0.9zM383.5 263.4h1.2v1.2h-1.2zM387.7 236.5h1.0v1.0h-1.0zM387.7 261.8h1.1v1.1h-1.1zM384.2 300.8h1.2v1.2h-1.2zM386.6 351.7h0.7v0.7h-0.7zM384.0 321.0h1.3v1.3h-1.3zM383.5 288.1h1.0v1.0h-1.0zM386.8 298.3h1.2v1.2h-1.2zM386.0 347.4h0.8v0.8h-0.8zM385.8 318.0h0.8v0.8h-0.8zM385.5 205.7h0.9v0.9h-0.9zM382.8 263.3h1.0v1.0h-1.0zM385.5 238.9h0.8v0.8h-0.8zM390.2 280.5h0.8v0.8h-0.8zM385.8 230.4h0.8v0.8h-0.8zM389.2 297.6h1.0v1.0h-1.0zM384.5 350.0h0.9v0.9h-0.9zM389.2 326.5h1.0v1.0h-1.0zM387.1 216.6h1.2v1.2h-1.2zM389.5 239.2h0.9v0.9h-0.9zM386.1 226.3h0.7v0.7h-0.7zM384.9 235.6h0.9v0.9h-0.9zM386.1 298.0h1.1v1.1h-1.1zM390.1 332.6h0.7v0.7h-0.7zM389.9 321.4h0.8v0.8h-0.8zM387.8 199.1h0.7v0.7h-0.7zM387.9 236.5h0.8v0.8h-0.8zM384.6 320.1h0.9v0.9h-0.9zM389.9 322.6h0.8v0.8h-0.8zM387.6 320.9h1.1v1.1h-1.1zM389.0 330.1h0.8v0.8h-0.8zM386.9 314.7h1.0v1.0h-1.0zM386.6 206.0h1.0v1.0h-1.0zM386.6 275.9h1.0v1.0h-1.0zM382.8 330.4h1.0v1.0h-1.0zM388.0 330.3h0.9v0.9h-0.9zM390.4 208.7h1.1v1.1h-1.1zM382.9 293.6h1.1v1.1h-1.1zM385.3 352.8h1.0v1.0h-1.0zM389.9 202.1h1.1v1.1h-1.1zM385.4 333.7h0.9v0.9h-0.9zM386.9 319.2h0.8v0.8h-0.8zM386.1 284.8h1.2v1.2h-1.2zM389.3 260.9h1.0v1.0h-1.0zM386.8 351.7h1.1v1.1h-1.1zM385.3 247.1h0.9v0.9h-0.9zM387.8 321.4h0.7v0.7h-0.7zM389.8 283.4h0.7v0.7h-0.7zM382.7 226.9h1.3v1.3h-1.3zM388.0 322.2h1.2v1.2h-1.2zM387.6 296.4h1.1v1.1h-1.1zM388.1 230.5h1.1v1.1h-1.1zM388.9 342.0h1.1v1.1h-1.1zM389.3 321.8h1.0v1.0h-1.0zM385.1 263.8h0.9v0.9h-0.9zM387.8 345.2h0.7v0.7h-0.7zM383.0 215.6h1.2v1.2h-1.2zM390.0 267.7h0.7v0.7h-0.7zM387.4 345.8h1.3v1.3h-1.3zM386.0 212.9h1.1v1.1h-1.1zM383.9 199.2h0.7v0.7h-0.7zM383.7 350.3h0.8v0.8h-0.8zM383.7 199.5h1.1v1.1h-1.1zM388.6 226.5h0.7v0.7h-0.7zM387.7 309.5h1.0v1.0h-1.0zM385.2 312.7h0.8v0.8h-0.8zM386.6 206.2h0.9v0.9h-0.9zM386.2 304.3h0.8v0.8h-0.8zM385.6 299.2h1.1v1.1h-1.1zM385.8 321.7h1.3v1.3h-1.3zM387.2 243.2h0.7v0.7h-0.7zM388.3 328.3h0.9v0.9h-0.9zM390.5 328.9h1.1v1.1h-1.1zM386.1 337.9h0.9v0.9h-0.9zM387.5 339.2h1.2v1.2h-1.2zM382.7 238.5h1.0v1.0h-1.0zM389.2 337.8h0.7v0.7h-0.7zM389.2 334.6h1.0v1.0h-1.0zM389.5 325.0h1.1v1.1h-1.1zM385.5 210.2h1.0v1.0h-1.0zM384.3 316.0h1.3v1.3h-1.3zM387.6 304.4h1.0v1.0h-1.0zM384.7 316.1h1.2v1.2h-1.2zM383.4 324.9h1.2v1.2h-1.2zM387.3 339.3h1.2v1.2h-1.2zM386.5 290.4h0.8v0.8h-0.8zM384.1 308.2h0.9v0.9h-0.9zM390.7 256.2h0.8v0.8h-0.8zM389.0 221.5h1.1v1.1h-1.1zM386.9 200.0h0.7v0.7h-0.7zM389.6 274.0h1.0v1.0h-1.0zM388.9 264.4h1.3v1.3h-1.3zM387.2 335.1h1.0v1.0h-1.0zM390.0 206.9h1.1v1.1h-1.1zM383.7 349.2h0.9v0.9h-0.9zM387.8 348.8h1.1v1.1h-1.1zM386.3 222.1h1.3v1.3h-1.3zM384.5 202.8h0.9v0.9h-0.9zM389.0 309.5h1.1v1.1h-1.1zM383.1 219.7h1.2v1.2h-1.2zM388.1 244.2h1.1v1.1h-1.1zM386.6 223.5h0.8v0.8h-0.8zM388.1 198.7h1.1v1.1h-1.1zM383.0 344.2h0.8v0.8h-0.8zM389.6 338.0h0.8v0.8h-0.8zM383.5 344.4h1.2v1.2h-1.2zM386.3 250.7h1.2v1.2h-1.2zM388.4 284.7h0.8v0.8h-0.8zM384.8 262.2h0.8v0.8h-0.8zM389.4 249.9h0.8v0.8h-0.8zM385.2 340.3h0.8v0.8h-0.8zM383.2 339.0h1.1v1.1h-1.1zM386.5 242.2h0.9v0.9h-0.9zM385.6 354.3h1.3v1.3h-1.3zM389.4 280.4h0.8v0.8h-0.8zM384.1 319.2h1.1v1.1h-1.1zM383.3 210.6h1.1v1.1h-1.1zM384.9 229.5h1.1v1.1h-1.1zM389.2 250.0h1.2v1.2h-1.2zM386.6 199.2h1.2v1.2h-1.2zM389.7 239.0h0.8v0.8h-0.8zM385.6 222.7h0.9v0.9h-0.9zM382.7 279.4h1.0v1.0h-1.0zM383.7 310.3h1.2v1.2h-1.2zM385.3 309.8h0.9v0.9h-0.9zM383.2 335.5h1.3v1.3h-1.3zM388.3 227.7h0.7v0.7h-0.7zM385.9 218.5h1.1v1.1h-1.1zM383.9 287.8h1.1v1.1h-1.1zM389.3 345.8h0.9v0.9h-0.9zM389.4 280.3h0.9v0.9h-0.9zM388.9 250.5h0.8v0.8h-0.8zM386.2 352.7h1.2v1.2h-1.2zM389.2 331.5h0.7v0.7h-0.7zM390.4 345.3h0.8v0.8h-0.8zM390.5 320.2h1.3v1.3h-1.3zM387.8 239.0h1.1v1.1h-1.1zM387.0 343.7h1.1v1.1h-1.1zM386.9 265.7h1.3v1.3h-1.3zM385.1 299.7h0.8v0.8h-0.8zM390.3 278.4h0.9v0.9h-0.9zM385.0 261.3h0.9v0.9h-0.9zM383.4 283.6h1.2v1.2h-1.2zM387.3 300.1h0.8v0.8h-0.8zM386.4 283.8h1.1v1.1h-1.1zM385.2 235.2h0.8v0.8h-0.8zM385.8 289.8h0.7v0.7h-0.7zM389.6 234.6h1.0v1.0h-1.0zM385.0 353.7h0.9v0.9h-0.9zM384.0 207.3h1.2v1.2h-1.2zM383.2 258.4h1.0v1.0h-1.0zM383.6 232.5h1.3v1.3h-1.3zM383.9 250.3h0.9v0.9h-0.9zM387.6 331.8h1.2v1.2h-1.2zM388.6 314.9h1.2v1.2h-1.2zM389.7 197.4h1.2v1.2h-1.2zM386.7 349.8h1.0v1.0h-1.0zM389.0 335.5h1.1v1.1h-1.1zM386.3 269.5h1.1v1.1h-1.1zM385.8 285.0h0.9v0.9h-0.9zM389.0 331.8h1.0v1.0h-1.0zM384.2 245.0h0.8v0.8h-0.8zM387.4 210.7h1.3v1.3h-1.3zM389.4 330.0h1.3v1.3h-1.3zM387.2 275.8h1.3v1.3h-1.3zM387.0 355.4h1.0v1.0h-1.0zM388.2 258.6h0.9v0.9h-0.9zM385.5 347.4h1.1v1.1h-1.1zM383.5 256.2h0.9v0.9h-0.9zM387.3 336.6h1.3v1.3h-1.3zM386.2 296.0h1.3v1.3h-1.3zM386.9 326.4h0.8v0.8h-0.8zM389.9 306.4h1.2v1.2h-1.2zM389.8 263.6h0.8v0.8h-0.8zM386.8 277.0h0.8v0.8h-0.8zM387.7 292.6h0.9v0.9h-0.9zM387.8 203.4h0.9v0.9h-0.9zM385.2 306.5h0.7v0.7h-0.7zM389.4 289.9h1.1v1.1h-1.1zM386.7 284.7h0.9v0.9h-0.9zM387.0 355.2h1.0v1.0h-1.0zM383.5 223.8h1.0v1.0h-1.0zM388.9 248.0h1.1v1.1h-1.1zM384.1 239.1h0.8v0.8h-0.8zM387.4 252.2h1.0v1.0h-1.0zM383.1 338.3h1.0v1.0h-1.0zM390.1 332.6h0.9v0.9h-0.9zM389.2 245.0h1.1v1.1h-1.1zM386.7 347.7h0.8v0.8h-0.8zM388.4 231.9h0.9v0.9h-0.9zM386.6 322.7h0.8v0.8h-0.8zM385.6 226.4h1.3v1.3h-1.3zM387.2 215.0h1.0v1.0h-1.0zM385.9 207.1h0.8v0.8h-0.8zM385.5 235.6h0.8v0.8h-0.8zM384.6 202.3h1.1v1.1h-1.1zM383.9 308.9h0.8v0.8h-0.8zM389.4 217.0h1.0v1.0h-1.0zM389.1 222.0h0.9v0.9h-0.9zM385.7 349.1h0.8v0.8h-0.8zM388.4 238.2h1.2v1.2h-1.2zM385.6 235.9h1.1v1.1h-1.1zM389.7 216.2h1.0v1.0h-1.0zM384.9 319.4h0.9v0.9h-0.9zM384.1 332.0h0.9v0.9h-0.9zM383.6 286.1h0.9v0.9h-0.9zM385.1 207.2h0.9v0.9h-0.9zM383.7 310.7h0.9v0.9h-0.9zM390.0 319.9h1.2v1.2h-1.2zM383.8 240.7h0.7v0.7h-0.7zM388.0 252.6h0.9v0.9h-0.9zM388.3 236.2h1.2v1.2h-1.2zM387.7 225.6h0.8v0.8h-0.8zM384.0 228.2h0.9v0.9h-0.9zM383.0 246.1h1.1v1.1h-1.1zM389.4 287.4h1.1v1.1h-1.1zM389.5 293.3h0.7v0.7h-0.7zM383.6 322.5h0.8v0.8h-0.8zM388.7 210.4h1.1v1.1h-1.1zM390.3 264.1h1.3v1.3h-1.3zM388.6 328.7h1.1v1.1h-1.1zM383.1 307.7h1.0v1.0h-1.0zM388.3 324.8h0.9v0.9h-0.9zM390.5 298.1h1.0v1.0h-1.0zM383.2 253.6h0.9v0.9h-0.9zM385.2 218.4h1.1v1.1h-1.1zM384.6 235.1h1.0v1.0h-1.0zM390.2 252.6h0.9v0.9h-0.9zM383.8 286.3h0.9v0.9h-0.9zM387.1 317.6h0.8v0.8h-0.8zM387.5 270.0h1.2v1.2h-1.2zM383.6 242.7h0.9v0.9h-0.9zM383.2 241.4h0.8v0.8h-0.8zM386.3 214.7h0.9v0.9h-0.9zM390.6 316.0h0.8v0.8h-0.8zM390.5 286.3h0.8v0.8h-0.8zM390.1 299.2h1.1v1.1h-1.1zM382.9 319.8h1.2v1.2h-1.2zM384.2 298.2h1.2v1.2h-1.2zM384.0 321.5h1.2v1.2h-1.2zM385.3 226.0h1.2v1.2h-1.2zM385.6 284.3h0.9v0.9h-0.9zM384.6 203.3h1.0v1.0h-1.0zM389.3 308.9h1.2v1.2h-1.2zM386.7 276.1h0.8v0.8h-0.8zM387.3 209.5h1.1v1.1h-1.1zM389.4 332.7h1.2v1.2h-1.2zM385.0 301.9h1.0v1.0h-1.0zM385.4 266.5h1.1v1.1h-1.1zM389.9 222.8h0.9v0.9h-0.9zM385.3 269.9h1.3v1.3h-1.3zM389.6 351.6h1.3v1.3h-1.3zM389.2 206.2h1.1v1.1h-1.1zM385.1 287.5h1.3v1.3h-1.3zM387.9 244.3h0.9v0.9h-0.9zM382.9 226.7h1.1v1.1h-1.1zM383.4 301.7h0.9v0.9h-0.9zM386.0 281.0h1.0v1.0h-1.0zM383.6 225.4h1.2v1.2h-1.2zM386.9 236.7h1.0v1.0h-1.0zM384.5 287.8h0.8v0.8h-0.8zM386.2 334.0h1.0v1.0h-1.0zM388.8 214.9h1.3v1.3h-1.3zM383.5 328.7h0.9v0.9h-0.9zM388.9 205.9h0.8v0.8h-0.8zM382.8 291.2h0.8v0.8h-0.8zM388.4 264.4h1.2v1.2h-1.2zM389.7 286.2h1.3v1.3h-1.3zM384.0 315.2h0.9v0.9h-0.9zM388.1 328.0h0.8v0.8h-0.8zM387.5 212.5h1.0v1.0h-1.0zM383.6 343.8h1.1v1.1h-1.1zM384.2 267.7h1.2v1.2h-1.2zM383.6 200.0h0.8v0.8h-0.8zM384.2 284.8h0.9v0.9h-0.9zM385.7 219.6h1.2v1.2h-1.2zM385.4 220.7h1.0v1.0h-1.0zM389.1 202.3h0.8v0.8h-0.8zM388.1 259.1h1.0v1.0h-1.0zM389.5 259.3h1.2v1.2h-1.2zM383.3 249.1h0.8v0.8h-0.8zM387.4 203.6h0.8v0.8h-0.8zM386.4 288.4h0.9v0.9h-0.9zM386.4 353.5h0.7v0.7h-0.7zM388.1 240.1h0.9v0.9h-0.9zM384.8 287.2h1.0v1.0h-1.0zM390.6 202.1h1.0v1.0h-1.0zM389.7 319.8h1.1v1.1h-1.1zM385.6 241.5h1.2v1.2h-1.2zM390.2 305.0h0.9v0.9h-0.9zM388.6 277.6h1.1v1.1h-1.1zM387.1 261.2h0.7v0.7h-0.7zM385.3 353.9h1.0v1.0h-1.0zM382.8 335.2h1.0v1.0h-1.0zM385.1 245.8h1.1v1.1h-1.1zM390.2 250.8h1.3v1.3h-1.3zM383.3 225.1h1.0v1.0h-1.0zM385.6 319.8h1.0v1.0h-1.0zM383.2 273.7h1.2v1.2h-1.2zM384.8 200.4h0.8v0.8h-0.8zM388.3 231.4h0.9v0.9h-0.9zM387.5 334.1h1.1v1.1h-1.1zM384.2 282.1h1.2v1.2h-1.2zM390.1 230.4h0.9v0.9h-0.9zM387.9 261.1h1.1v1.1h-1.1zM383.2 262.6h0.7v0.7h-0.7zM385.4 275.3h1.1v1.1h-1.1zM386.4 198.9h1.3v1.3h-1.3zM390.6 205.6h1.1v1.1h-1.1zM385.3 211.6h0.8v0.8h-0.8zM388.8 211.0h1.2v1.2h-1.2zM387.0 290.3h1.0v1.0h-1.0zM387.5 249.3h1.1v1.1h-1.1zM388.4 318.1h1.2v1.2h-1.2zM388.9 352.1h1.0v1.0h-1.0zM386.5 300.9h1.2v1.2h-1.2zM382.9 218.0h0.7v0.7h-0.7zM387.1 225.6h1.3v1.3h-1.3zM383.9 224.9h1.1v1.1h-1.1zM384.0 201.3h1.2v1.2h-1.2zM390.6 276.0h1.1v1.1h-1.1zM389.1 269.9h0.9v0.9h-0.9zM383.6 313.3h0.7v0.7h-0.7zM385.9 334.1h0.7v0.7h-0.7zM386.0 342.8h1.3v1.3h-1.3zM384.5 236.8h0.9v0.9h-0.9zM384.6 229.0h1.2v1.2h-1.2zM385.1 354.8h0.8v0.8h-0.8zM384.0 333.9h1.2v1.2h-1.2zM388.7 327.5h0.9v0.9h-0.9z"/>
<path fill="#30c0c0" d="M385.3 220.7h1.1v1.1h-1.1zM383.0 265.6h0.7v0.7h-0.7zM388.5 242.5h1.3v1.3h-1.3zM386.8 294.9h1.1v1.1h-1.1zM386.4 273.6h0.8v0.8h-0.8zM384.5 279.0h0.9v0.9h-0.9zM385.5 283.9h0.8v0.8h-0.8zM387.2 346.7h1.2v1.2h-1.2zM384.3 247.3h1.1v1.1h-1.1zM383.0 320.6h0.9v0.9h-0.9zM386.7 225.0h0.9v0.9h-0.9zM384.2 272.2h1.3v1.3h-1.3zM385.9 252.0h0.7v0.7h-0.7zM387.7 304.9h1.0v1.0h-1.0zM388.6 245.1h1.0v1.0h-1.0zM383.8 280.0h1.3v1.3h-1.3zM384.6 339.4h1.0v1.0h-1.0zM382.7 316.1h1.2v1.2h-1.2zM385.6 264.8h0.9v0.9h-0.9zM388.7 299.2h0.9v0.9h-0.9zM386.3 218.9h0.8v0.8h-0.8zM383.2 240.8h1.3v1.3h-1.3zM390.3 331.6h1.2v1.2h-1.2zM385.8 232.2h1.1v1.1h-1.1zM390.4 308.7h0.9v0.9h-0.9zM388.0 343.8h0.8v0.8h-0.8zM384.4 351.6h0.8v0.8h-0.8zM384.2 345.5h1.1v1.1h-1.1zM384.2 254.6h1.2v1.2h-1.2zM386.0 325.8h1.2v1.2h-1.2zM390.0 297.5h1.3v1.3h-1.3zM385.3 254.2h1.2v1.2h-1.2zM384.3 316.4h0.8v0.8h-0.8zM389.8 353.8h0.9v0.9h-0.9zM388.7 331.4h1.1v1.1h-1.1zM389.2 300.6h1.3v1.3h-1.3zM389.1 350.4h0.8v0.8h-0.8zM390.2 351.8h1.0v1.0h-1.0zM383.0 286.1h1.2v1.2h-1.2zM383.4 267.0h1.0v1.0h-1.0zM383.8 232.8h1.1v1.1h-1.1zM388.6 268.6h0.8v0.8h-0.8zM385.5 219.3h0.7v0.7h-0.7zM389.8 210.4h1.2v1.2h-1.2zM387.1 238.8h0.8v0.8h-0.8zM388.8 212.8h0.8v0.8h-0.8zM388.4 332.7h1.1v1.1h-1.1zM384.7 350.0h1.1v1.1h-1.1zM382.8 300.2h1.2v1.2h-1.2zM385.9 278.9h0.8v0.8h-0.8zM389.3 349.9h0.9v0.9h-0.9zM384.3 225.4h0.8v0.8h-0.8zM389.9 340.5h1.2v1.2h-1.2zM383.5 248.2h0.9v0.9h-0.9zM387.7 219.4h0.8v0.8h-0.8zM383.5 242.7h1.2v1.2h-1.2zM388.5 243.4h1.3v1.3h-1.3zM389.2 250.9h0.8v0.8h-0.8zM390.0 231.4h1.0v1.0h-1.0zM389.2 289.4h0.8v0.8h-0.8zM388.6 261.6h1.1v1.1h-1.1zM386.8 281.1h1.0v1.0h-1.0zM390.4 232.3h0.8v0.8h-0.8zM384.7 326.6h0.7v0.7h-0.7zM387.3 279.8h1.1v1.1h-1.1zM389.7 310.7h0.7v0.7h-0.7zM386.6 276.3h0.9v0.9h-0.9zM387.8 254.6h1.0v1.0h-1.0zM386.2 277.0h0.7v0.7h-0.7zM389.2 337.3h1.2v1.2h-1.2zM387.0 220.3h0.8v0.8h-0.8zM389.0 309.4h1.2v1.2h-1.2zM386.1 341.5h0.7v0.7h-0.7zM390.5 328.0h1.0v1.0h-1.0zM383.7 221.6h1.2v1.2h-1.2zM387.6 324.9h0.7v0.7h-0.7zM386.2 295.3h0.8v0.8h-0.8zM386.7 232.8h1.0v1.0h-1.0zM387.2 246.1h0.9v0.9h-0.9zM388.6 310.0h0.7v0.7h-0.7zM386.2 305.5h0.9v0.9h-0.9zM389.4 320.2h0.9v0.9h-0.9zM388.7 328.5h0.9v0.9h-0.9zM390.1 217.0h1.2v1.2h-1.2zM385.6 223.4h0.7v0.7h-0.7zM386.2 226.9h1.0v1.0h-1.0zM387.9 236.7h0.8v0.8h-0.8zM386.2 350.9h0.8v0.8h-0.8zM386.2 227.0h1.1v1.1h-1.1zM387.2 252.0h0.8v0.8h-0.8zM383.6 333.8h0.9v0.9h-0.9zM387.4 209.5h0.9v0.9h-0.9zM390.4 286.2h1.2v1.2h-1.2zM388.6 347.4h1.1v1.1h-1.1zM388.2 325.2h1.3v1.3h-1.3zM382.7 288.8h0.9v0.9h-0.9zM384.6 234.0h0.9v0.9h-0.9zM387.2 244.8h0.8v0.8h-0.8zM388.6 349.8h1.1v1.1h-1.1zM389.2 335.9h0.9v0.9h-0.9zM386.9 346.3h0.8v0.8h-0.8zM390.6 233.0h1.2v1.2h-1.2z"/>
<rect x="548.3" y="196.7" width="10.4" height="160.2" fill="#f4f4f4"/>
<rect x="548.3" y="196.7" width="1.1" height="160.2" fill="#20c8c8"/>
<rect x="557.6" y="196.7" width="1.1" height="160.2" fill="#20c8c8"/>
<path fill="#000" d="M553.0 338.4h0.8v0.8h-0.8zM553.8 268.7h1.0v1.0h-1.0zM550.9 337.2h0.9v0.9h-0.9zM555.9 225.7h1.2v1.2h-1.2zM551.6 200.6h0.8v0.8h-0.8zM549.4 341.6h0.8v0.8h-0.8zM551.9 342.7h1.1v1.1h-1.1zM556.7 201.9h0.8v0.8h-0.8zM554.5 202.7h1.0v1.0h-1.0zM552.6 213.4h0.7v0.7h-0.7zM551.7 336.4h0.8v0.8h-0.8zM550.3 264.8h0.8v0.8h-0.8zM552.0 275.6h1.3v1.3h-1.3zM550.9 350.5h1.2v1.2h-1.2zM549.6 277.6h0.9v0.9h-0.9zM552.1 198.4h1.1v1.1h-1.1zM553.4 284.0h1.1v1.1h-1.1zM555.9 310.8h0.9v0.9h-0.9zM552.5 351.4h0.9v0.9h-0.9zM553.9 344.0h0.9v0.9h-0.9zM554.6 248.3h1.1v1.1h-1.1zM551.7 351.2h0.7v0.7h-0.7zM555.8 277.8h1.1v1.1h-1.1zM551.1 296.8h1.1v1.1h-1.1zM554.7 259.3h1.0v1.0h-1.0zM554.4 247.9h1.1v1.1h-1.1zM551.0 294.1h0.9v0.9h-0.9zM552.9 311.4h1.0v1.0h-1.0zM551.0 219.3h1.3v1.3h-1.3zM553.3 280.6h1.2v1.2h-1.2zM550.6 327.4h1.0v1.0h-1.0zM550.5 236.7h0.8v0.8h-0.8zM552.3 355.2h1.1v1.1h-1.1zM552.9 323.6h1.2v1.2h-1.2zM554.5 255.0h1.0v1.0h-1.0zM550.8 287.4h0.7v0.7h-0.7zM554.8 240.4h0.9v0.9h-0.9zM555.6 211.2h1.1v1.1h-1.1zM550.8 264.0h1.2v1.2h-1.2zM552.1 203.7h1.0v1.0h-1.0zM554.7 243.6h0.9v0.9h-0.9zM555.5 252.7h0.9v0.9h-0.9zM556.3 227.2h1.3v1.3h-1.3zM555.0 257.0h1.0v1.0h-1.0zM556.1 317.1h0.7v0.7h-0.7zM552.8 270.2h1.2v1.2h-1.2zM552.9 338.3h1.0v1.0h-1.0zM553.2 327.8h1.1v1.1h-1.1zM552.4 203.2h1.1v1.1h-1.1zM555.1 319.1h0.8v0.8h-0.8zM555.0 286.4h0.7v0.7h-0.7zM554.7 273.5h0.7v0.7h-0.7zM552.5 289.5h1.3v1.3h-1.3zM555.9 219.8h0.9v0.9h-0.9zM549.3 353.9h0.9v0.9h-0.9zM551.7 237.2h1.2v1.2h-1.2zM553.2 263.5h0.7v0.7h-0.7zM555.9 324.2h1.2v1.2h-1.2zM550.8 205.0h1.0v1.0h-1.0zM552.8 274.4h1.1v1.1h-1.1zM555.4 228.5h1.3v1.3h-1.3zM549.7 246.7h1.0v1.0h-1.0zM553.6 248.1h0.9v0.9h-0.9zM551.5 309.7h1.2v1.2h-1.2zM552.8 345.3h1.0v1.0h-1.0zM555.9 208.1h1.1v1.1h-1.1zM556.3 285.9h1.2v1.2h-1.2zM554.4 304.0h0.9v0.9h-0.9zM555.7 219.9h1.3v1.3h-1.3zM550.1 211.8h1.2v1.2h-1.2zM552.5 301.5h0.9v0.9h-0.9zM554.5 221.3h0.7v0.7h-0.7zM549.6 329.6h0.9v0.9h-0.9zM553.7 247.4h1.0v1.0h-1.0zM556.2 248.3h1.2v1.2h-1.2zM552.2 298.6h0.8v0.8h-0.8zM550.0 270.5h1.1v1.1h-1.1zM556.3 355.1h1.3v1.3h-1.3zM551.5 252.0h1.2v1.2h-1.2zM556.4 211.5h1.0v1.0h-1.0zM551.4 338.7h1.2v1.2h-1.2zM556.3 201.9h1.1v1.1h-1.1zM551.8 268.2h0.8v0.8h-0.8zM553.5 211.9h1.0v1.0h-1.0zM553.8 270.1h0.7v0.7h-0.7zM550.0 299.5h0.8v0.8h-0.8zM552.0 256.3h1.1v1.1h-1.1zM550.6 346.4h0.9v0.9h-0.9zM556.0 215.3h1.0v1.0h-1.0zM550.2 271.1h0.8v0.8h-0.8zM553.2 255.0h0.8v0.8h-0.8zM550.8 216.9h0.8v0.8h-0.8zM553.1 338.3h0.7v0.7h-0.7zM553.0 322.5h1.0v1.0h-1.0zM551.0 316.0h0.8v0.8h-0.8zM549.5 259.2h1.0v1.0h-1.0zM556.1 210.1h1.0v1.0h-1.0zM554.0 306.7h1.2v1.2h-1.2zM551.2 313.4h1.1v1.1h-1.1zM551.9 219.0h0.8v0.8h-0.8zM551.8 351.9h1.3v1.3h-1.3zM552.9 275.8h1.2v1.2h-1.2zM555.0 297.9h0.8v0.8h-0.8zM555.7 321.8h0.8v0.8h-0.8zM552.0 222.5h1.3v1.3h-1.3zM555.0 218.2h1.2v1.2h-1.2zM556.2 315.1h1.2v1.2h-1.2zM553.8 265.9h1.2v1.2h-1.2zM555.9 244.2h1.3v1.3h-1.3zM556.5 215.1h1.3v1.3h-1.3zM551.2 330.0h0.8v0.8h-0.8zM552.8 234.3h1.0v1.0h-1.0zM554.5 309.7h0.9v0.9h-0.9zM555.3 305.3h1.3v1.3h-1.3zM552.4 210.5h1.1v1.1h-1.1zM551.9 291.3h1.2v1.2h-1.2zM555.5 263.3h1.1v1.1h-1.1zM551.8 230.7h0.9v0.9h-0.9zM554.0 243.1h0.8v0.8h-0.8zM554.6 267.0h1.1v1.1h-1.1zM550.2 305.3h0.7v0.7h-0.7zM550.7 239.9h1.3v1.3h-1.3zM551.0 338.2h1.1v1.1h-1.1zM552.3 276.1h1.3v1.3h-1.3zM556.8 226.8h1.2v1.2h-1.2zM553.3 196.8h0.8v0.8h-0.8zM552.8 325.4h0.9v0.9h-0.9zM550.1 284.6h1.2v1.2h-1.2zM552.2 344.3h1.2v1.2h-1.2zM549.9 295.9h1.0v1.0h-1.0zM552.0 301.8h1.1v1.1h-1.1zM553.3 304.3h1.2v1.2h-1.2zM552.1 351.9h0.7v0.7h-0.7zM554.5 285.3h1.0v1.0h-1.0zM551.8 218.5h1.3v1.3h-1.3zM552.3 315.5h1.1v1.1h-1.1zM555.1 243.0h1.0v1.0h-1.0zM556.7 299.9h1.2v1.2h-1.2zM552.2 349.8h1.1v1.1h-1.1zM551.4 222.4h1.0v1.0h-1.0zM555.3 251.9h0.8v0.8h-0.8zM556.0 222.5h1.1v1.1h-1.1zM551.7 205.2h0.9v0.9h-0.9zM556.6 349.7h0.8v0.8h-0.8zM556.5 228.1h0.9v0.9h-0.9zM550.1 238.1h0.9v0.9h-0.9zM556.6 239.1h0.8v0.8h-0.8zM552.7 329.8h1.1v1.1h-1.1zM551.7 220.9h1.2v1.2h-1.2zM553.5 303.3h1.2v1.2h-1.2zM552.1 342.6h1.0v1.0h-1.0zM555.6 286.8h0.9v0.9h-0.9zM551.3 235.4h0.7v0.7h-0.7zM555.0 304.5h0.9v0.9h-0.9zM550.1 245.5h1.1v1.1h-1.1zM554.1 306.7h1.2v1.2h-1.2zM556.4 314.7h0.9v0.9h-0.9zM555.4 252.3h0.8v0.8h-0.8zM553.3 279.6h1.1v1.1h-1.1zM550.3 250.6h0.7v0.7h-0.7zM553.1 332.2h1.1v1.1h-1.1zM552.4 287.9h0.9v0.9h-0.9zM555.3 330.0h0.8v0.8h-0.8zM555.0 276.3h1.2v1.2h-1.2zM554.9 327.2h1.1v1.1h-1.1zM550.3 308.7h1.1v1.1h-1.1zM551.4 207.4h1.1v1.1h-1.1zM554.4 351.7h1.2v1.2h-1.2zM554.6 208.2h1.2v1.2h-1.2zM549.3 296.7h0.8v0.8h-0.8zM549.7 267.6h1.0v1.0h-1.0zM549.6 328.3h0.8v0.8h-0.8zM554.1 250.8h0.9v0.9h-0.9zM551.0 322.9h0.8v0.8h-0.8zM555.4 282.1h0.7v0.7h-0.7zM554.1 311.9h1.1v1.1h-1.1zM553.2 290.3h0.8v0.8h-0.8zM556.9 324.6h1.3v1.3h-1.3zM552.8 305.2h1.1v1.1h-1.1zM551.9 226.9h0.9v0.9h-0.9zM550.8 313.7h1.0v1.0h-1.0zM550.8 308.6h0.8v0.8h-0.8zM553.6 308.2h1.3v1.3h-1.3zM556.5 343.0h1.1v1.1h-1.1zM549.8 229.4h0.7v0.7h-0.7zM554.8 296.9h0.9v0.9h-0.9zM550.5 297.2h1.3v1.3h-1.3zM549.6 224.6h0.9v0.9h-0.9zM550.5 320.3h1.0v1.0h-1.0zM556.2 323.1h1.0v1.0h-1.0zM550.3 214.0h1.0v1.0h-1.0zM550.9 236.8h0.7v0.7h-0.7zM554.7 347.0h1.3v1.3h-1.3zM554.9 257.8h1.2v1.2h-1.2zM550.3 198.7h0.8v0.8h-0.8zM552.2 198.2h1.2v1.2h-1.2zM552.8 203.6h1.2v1.2h-1.2zM549.8 248.1h1.1v1.1h-1.1zM553.0 298.4h0.8v0.8h-0.8zM556.2 257.5h0.8v0.8h-0.8zM550.3 228.5h1.0v1.0h-1.0zM554.8 205.2h1.0v1.0h-1.0zM554.4 310.2h0.8v0.8h-0.8zM554.6 271.7h0.8v0.8h-0.8zM553.9 206.7h0.8v0.8h-0.8zM551.0 259.1h1.2v1.2h-1.2zM551.1 344.7h0.8v0.8h-0.8zM556.4 298.2h1.3v1.3h-1.3zM556.7 309.6h0.8v0.8h-0.8zM550.5 278.1h0.8v0.8h-0.8zM556.1 342.4h0.7v0.7h-0.7zM553.5 327.3h1.0v1.0h-1.0zM555.0 200.5h1.2v1.2h-1.2zM552.8 216.1h1.1v1.1h-1.1zM552.6 214.3h1.3v1.3h-1.3zM552.0 211.7h1.1v1.1h-1.1zM555.7 212.8h0.9v0.9h-0.9zM555.1 220.2h1.1v1.1h-1.1zM554.6 291.9h1.0v1.0h-1.0zM552.4 293.9h1.1v1.1h-1.1zM554.9 323.4h1.2v1.2h-1.2zM554.7 201.6h1.1v1.1h-1.1zM552.6 336.3h0.8v0.8h-0.8zM552.7 309.0h0.9v0.9h-0.9zM551.9 248.3h0.8v0.8h-0.8zM556.8 300.7h1.3v1.3h-1.3zM555.7 354.8h1.2v1.2h-1.2zM551.2 262.3h0.7v0.7h-0.7zM556.0 343.1h0.9v0.9h-0.9zM555.2 338.2h1.2v1.2h-1.2zM550.1 327.9h0.9v0.9h-0.9zM552.1 282.1h1.3v1.3h-1.3zM553.3 300.0h1.0v1.0h-1.0zM552.4 342.0h1.1v1.1h-1.1zM550.0 230.5h0.9v0.9h-0.9zM549.4 238.1h1.1v1.1h-1.1zM550.6 266.3h1.1v1.1h-1.1zM555.0 316.4h0.8v0.8h-0.8zM549.5 306.6h0.8v0.8h-0.8zM556.6 299.0h1.1v1.1h-1.1zM549.8 199.0h0.9v0.9h-0.9zM550.2 275.2h1.3v1.3h-1.3zM551.6 261.7h1.1v1.1h-1.1zM554.8 211.8h1.3v1.3h-1.3zM555.6 201.6h1.2v1.2h-1.2zM555.8 324.4h1.1v1.1h-1.1zM549.4 226.9h1.2v1.2h-1.2zM554.3 290.0h1.1v1.1h-1.1zM550.4 212.1h1.3v1.3h-1.3zM549.4 332.3h0.8v0.8h-0.8zM552.1 311.6h0.8v0.8h-0.8zM551.2 323.3h0.9v0.9h-0.9zM555.1 232.3h0.8v0.8h-0.8zM552.2 254.8h1.1v1.1h-1.1zM555.9 204.7h1.1v1.1h-1.1zM552.9 224.3h0.8v0.8h-0.8zM550.2 207.5h0.9v0.9h-0.9zM556.4 284.9h0.7v0.7h-0.7zM555.0 286.2h1.2v1.2h-1.2zM555.8 214.2h1.3v1.3h-1.3zM551.1 223.8h1.2v1.2h-1.2zM549.9 238.9h1.3v1.3h-1.3zM554.9 208.5h1.0v1.0h-1.0zM554.3 278.5h0.7v0.7h-0.7zM554.9 282.1h0.8v0.8h-0.8zM553.9 300.2h0.8v0.8h-0.8zM556.5 314.4h1.2v1.2h-1.2zM556.2 225.6h0.8v0.8h-0.8zM552.6 219.0h0.8v0.8h-0.8zM553.7 346.1h0.9v0.9h-0.9zM549.4 347.5h0.8v0.8h-0.8zM553.2 347.5h1.0v1.0h-1.0zM554.0 231.1h1.2v1.2h-1.2zM556.9 269.3h0.8v0.8h-0.8zM551.7 261.4h0.9v0.9h-0.9zM549.5 256.2h0.8v0.8h-0.8zM549.3 293.3h0.9v0.9h-0.9zM553.6 309.9h0.8v0.8h-0.8zM551.1 223.3h1.1v1.1h-1.1zM552.4 338.0h1.1v1.1h-1.1zM556.6 239.5h1.3v1.3h-1.3zM551.5 242.6h1.3v1.3h-1.3zM552.5 280.9h1.2v1.2h-1.2zM554.3 278.2h0.8v0.8h-0.8zM554.3 289.9h1.2v1.2h-1.2zM556.6 227.3h0.7v0.7h-0.7zM553.6 225.6h1.1v1.1h-1.1zM551.1 254.9h1.0v1.0h-1.0zM549.9 314.6h1.1v1.1h-1.1zM554.4 323.8h0.7v0.7h-0.7zM554.5 309.5h1.1v1.1h-1.1zM556.6 321.6h0.8v0.8h-0.8zM556.6 229.6h0.9v0.9h-0.9zM556.1 233.7h1.1v1.1h-1.1zM554.3 318.6h0.8v0.8h-0.8zM552.4 263.6h0.7v0.7h-0.7zM556.5 288.4h0.9v0.9h-0.9zM554.4 222.3h0.9v0.9h-0.9zM555.1 329.6h1.1v1.1h-1.1zM554.7 350.3h0.8v0.8h-0.8zM551.6 237.4h1.2v1.2h-1.2zM555.8 335.8h1.1v1.1h-1.1zM549.4 281.7h1.1v1.1h-1.1zM549.8 197.5h0.8v0.8h-0.8zM549.3 233.3h0.9v0.9h-0.9zM556.8 199.8h0.8v0.8h-0.8zM556.7 220.3h0.9v0.9h-0.9zM551.7 263.1h1.0v1.0h-1.0zM554.0 307.5h0.9v0.9h-0.9zM554.8 251.0h1.0v1.0h-1.0zM556.4 285.8h0.7v0.7h-0.7zM554.6 258.0h1.1v1.1h-1.1zM555.4 324.2h0.8v0.8h-0.8zM550.8 309.2h1.2v1.2h-1.2zM551.1 211.5h1.1v1.1h-1.1zM554.1 235.0h0.9v0.9h-0.9zM553.4 311.9h0.7v0.7h-0.7zM551.0 242.9h1.1v1.1h-1.1zM554.0 340.1h0.8v0.8h-0.8zM554.3 238.2h0.8v0.8h-0.8zM555.2 328.2h1.1v1.1h-1.1zM555.3 245.9h0.9v0.9h-0.9zM553.2 220.7h1.3v1.3h-1.3zM552.8 228.1h0.8v0.8h-0.8zM553.3 254.4h1.1v1.1h-1.1zM555.2 213.6h0.7v0.7h-0.7zM553.0 236.9h1.1v1.1h-1.1zM551.7 272.5h1.1v1.1h-1.1zM552.1 267.7h1.3v1.3h-1.3zM554.0 213.4h1.0v1.0h-1.0zM551.4 202.6h1.3v1.3h-1.3zM550.3 270.8h1.1v1.1h-1.1zM549.8 316.1h1.2v1.2h-1.2zM550.0 259.3h0.8v0.8h-0.8zM550.1 207.9h0.8v0.8h-0.8zM555.6 223.6h0.8v0.8h-0.8zM552.5 250.4h0.8v0.8h-0.8zM556.7 215.3h0.9v0.9h-0.9zM556.1 340.5h1.0v1.0h-1.0zM553.9 242.6h1.0v1.0h-1.0zM554.9 217.3h0.8v0.8h-0.8zM550.1 326.0h0.9v0.9h-0.9zM551.2 271.3h1.3v1.3h-1.3zM555.8 247.8h0.8v0.8h-0.8zM551.9 226.5h1.0v1.0h-1.0zM555.9 288.1h0.7v0.7h-0.7zM553.9 339.7h1.3v1.3h-1.3zM555.7 326.9h0.9v0.9h-0.9zM551.0 341.3h0.9v0.9h-0.9zM556.0 316.8h0.8v0.8h-0.8zM555.4 354.2h1.1v1.1h-1.1zM555.5 237.0h1.1v1.1h-1.1zM555.7 217.9h1.0v1.0h-1.0zM555.5 251.6h1.2v1.2h-1.2zM556.0 218.8h1.3v1.3h-1.3zM554.4 300.4h0.7v0.7h-0.7zM553.5 269.2h0.9v0.9h-0.9zM555.2 335.0h0.8v0.8h-0.8zM554.9 228.3h1.0v1.0h-1.0zM555.4 348.4h0.9v0.9h-0.9zM556.1 271.5h1.2v1.2h-1.2zM553.8 328.5h1.0v1.0h-1.0zM552.5 336.7h1.1v1.1h-1.1zM552.1 254.5h1.3v1.3h-1.3zM550.2 342.1h0.7v0.7h-0.7zM553.3 327.1h1.2v1.2h-1.2zM551.0 315.1h1.2v1.2h-1.2zM556.0 354.5h1.0v1.0h-1.0zM554.7 344.5h0.8v0.8h-0.8zM551.8 313.1h0.8v0.8h-0.8zM553.1 303.0h0.8v0.8h-0.8zM556.9 285.9h1.2v1.2h-1.2zM556.2 284.4h1.2v1.2h-1.2zM553.1 339.6h1.2v1.2h-1.2zM553.2 345.0h1.0v1.0h-1.0zM554.1 324.4h1.0v1.0h-1.0zM551.3 240.6h1.0v1.0h-1.0zM552.9 211.4h0.7v0.7h-0.7zM554.7 315.7h0.8v0.8h-0.8zM553.2 224.6h1.1v1.1h-1.1zM550.8 289.8h1.1v1.1h-1.1zM554.7 309.7h0.9v0.9h-0.9zM556.3 205.1h1.3v1.3h-1.3zM550.0 207.8h1.2v1.2h-1.2zM550.4 269.8h1.1v1.1h-1.1zM551.9 318.6h0.8v0.8h-0.8zM550.5 261.9h1.1v1.1h-1.1zM550.5 231.4h0.8v0.8h-0.8zM551.7 276.9h0.8v0.8h-0.8zM552.6 351.4h1.0v1.0h-1.0zM552.9 228.2h1.1v1.1h-1.1zM550.6 208.4h1.1v1.1h-1.1zM552.4 253.0h1.0v1.0h-1.0zM554.5 259.0h0.8v0.8h-0.8zM553.7 197.7h1.2v1.2h-1.2zM552.0 296.9h1.3v1.3h-1.3zM552.6 244.1h1.0v1.0h-1.0zM554.9 347.6h0.8v0.8h-0.8zM555.8 322.5h1.1v1.1h-1.1zM551.9 346.9h1.0v1.0h-1.0zM550.7 215.1h1.2v1.2h-1.2zM549.5 248.1h1.0v1.0h-1.0zM552.1 339.0h0.9v0.9h-0.9zM556.4 298.3h1.0v1.0h-1.0zM552.2 293.6h1.2v1.2h-1.2zM552.1 258.3h0.9v0.9h-0.9zM553.4 240.6h0.9v0.9h-0.9zM550.5 306.4h0.7v0.7h-0.7zM549.8 324.8h0.8v0.8h-0.8zM549.7 238.6h1.1v1.1h-1.1zM556.2 347.3h1.0v1.0h-1.0zM550.0 343.8h1.0v1.0h-1.0zM555.9 316.5h1.1v1.1h-1.1zM554.7 296.9h0.8v0.8h-0.8zM550.7 293.6h1.1v1.1h-1.1zM552.0 352.4h1.0v1.0h-1.0zM551.2 233.7h1.3v1.3h-1.3zM554.7 224.5h0.8v0.8h-0.8zM552.0 313.9h0.7v0.7h-0.7zM554.5 202.0h1.0v1.0h-1.0zM553.7 268.5h1.2v1.2h-1.2zM551.9 259.7h1.3v1.3h-1.3zM556.3 285.9h0.8v0.8h-0.8zM552.2 306.5h0.7v0.7h-0.7zM555.3 278.6h0.7v0.7h-0.7zM552.4 303.1h1.0v1.0h-1.0zM552.4 349.3h1.3v1.3h-1.3zM554.0 247.0h0.9v0.9h-0.9zM556.2 322.7h1.2v1.2h-1.2zM556.8 306.1h0.9v0.9h-0.9zM551.3 293.8h0.8v0.8h-0.8zM556.4 317.1h0.8v0.8h-0.8zM553.7 340.9h1.1v1.1h-1.1zM551.4 214.8h1.2v1.2h-1.2zM554.8 237.5h1.1v1.1h-1.1zM550.0 275.2h1.1v1.1h-1.1zM554.3 240.9h0.9v0.9h-0.9zM556.5 355.4h1.0v1.0h-1.0zM555.4 317.3h1.0v1.0h-1.0zM554.1 256.6h0.8v0.8h-0.8zM549.6 272.7h0.8v0.8h-0.8zM556.1 202.2h1.0v1.0h-1.0zM554.8 312.6h0.9v0.9h-0.9zM550.7 276.2h0.9v0.9h-0.9zM556.4 272.0h1.2v1.2h-1.2zM556.2 231.9h1.2v1.2h-1.2zM556.7 319.3h1.1v1.1h-1.1zM555.8 267.2h0.8v0.8h-0.8zM555.4 305.1h1.1v1.1h-1.1zM552.8 327.5h1.3v1.3h-1.3zM550.5 305.4h1.0v1.0h-1.0zM550.6 218.5h1.0v1.0h-1.0zM551.3 255.2h1.0v1.0h-1.0zM553.8 222.5h1.2v1.2h-1.2zM556.6 352.8h0.8v0.8h-0.8zM556.6 257.9h1.0v1.0h-1.0zM549.5 229.2h0.8v0.8h-0.8zM554.1 286.2h1.3v1.3h-1.3zM552.1 347.7h1.1v1.1h-1.1zM555.9 303.2h0.9v0.9h-0.9zM551.6 350.8h0.8v0.8h-0.8zM549.8 198.3h1.0v1.0h-1.0zM553.2 215.5h1.2v1.2h-1.2zM554.5 344.0h1.3v1.3h-1.3zM554.7 197.0h0.7v0.7h-0.7zM552.5 340.2h1.1v1.1h-1.1zM549.4 228.9h0.8v0.8h-0.8zM550.1 344.9h0.9v0.9h-0.9zM553.2 248.1h1.3v1.3h-1.3zM554.6 207.4h1.2v1.2h-1.2zM550.1 315.4h0.9v0.9h-0.9zM552.1 301.9h1.3v1.3h-1.3zM556.9 295.8h1.1v1.1h-1.1zM554.8 284.4h0.9v0.9h-0.9zM551.2 219.2h0.8v0.8h-0.8zM553.8 324.0h0.8v0.8h-0.8zM553.7 285.8h0.9v0.9h-0.9zM549.4 205.9h1.0v1.0h-1.0zM555.1 235.2h1.2v1.2h-1.2zM550.0 272.6h0.9v0.9h-0.9zM555.1 232.0h1.1v1.1h-1.1zM552.7 276.7h1.3v1.3h-1.3zM550.7 207.8h0.7v0.7h-0.7zM550.0 299.9h1.0v1.0h-1.0zM553.2 345.6h0.8v0.8h-0.8zM551.6 248.3h1.2v1.2h-1.2zM555.7 299.7h0.8v0.8h-0.8zM554.9 310.7h1.0v1.0h-1.0zM556.2 197.3h0.8v0.8h-0.8zM550.8 210.7h1.1v1.1h-1.1zM551.8 239.0h1.1v1.1h-1.1zM552.3 306.2h1.0v1.0h-1.0zM549.8 283.0h1.3v1.3h-1.3zM550.1 276.6h1.0v1.0h-1.0zM554.4 275.5h1.2v1.2h-1.2zM556.4 326.2h1.0v1.0h-1.0zM553.0 216.9h1.1v1.1h-1.1zM553.7 351.9h0.7v0.7h-0.7zM553.7 311.7h0.9v0.9h-0.9zM552.1 309.9h0.9v0.9h-0.9zM552.6 197.3h0.8v0.8h-0.8zM555.9 297.9h0.8v0.8h-0.8zM554.7 215.0h0.9v0.9h-0.9zM549.3 203.4h0.9v0.9h-0.9zM556.9 247.3h1.2v1.2h-1.2zM555.9 290.2h1.3v1.3h-1.3zM556.5 286.7h0.8v0.8h-0.8zM553.0 250.3h0.9v0.9h-0.9zM553.8 232.1h0.9v0.9h-0.9zM553.1 263.3h1.1v1.1h-1.1zM553.3 240.6h1.2v1.2h-1.2zM555.2 279.0h0.8v0.8h-0.8zM553.2 256.4h0.9v0.9h-0.9zM554.7 326.9h1.0v1.0h-1.0zM550.9 268.6h0.9v0.9h-0.9zM552.0 316.7h1.1v1.1h-1.1zM551.1 321.4h1.1v1.1h-1.1zM552.0 201.8h1.3v1.3h-1.3zM554.4 350.4h1.2v1.2h-1.2zM551.9 214.0h1.2v1.2h-1.2zM553.0 255.4h0.9v0.9h-0.9zM554.7 339.1h1.2v1.2h-1.2zM552.6 263.7h0.9v0.9h-0.9zM550.7 221.8h0.9v0.9h-0.9zM555.8 249.4h1.2v1.2h-1.2zM552.5 227.3h1.2v1.2h-1.2zM550.2 340.2h1.0v1.0h-1.0zM553.8 237.3h0.7v0.7h-0.7zM552.2 198.5h0.9v0.9h-0.9zM551.8 304.8h1.1v1.1h-1.1zM549.5 303.9h1.1v1.1h-1.1zM550.8 332.7h1.2v1.2h-1.2zM551.8 299.2h1.1v1.1h-1.1zM550.2 230.5h0.9v0.9h-0.9zM552.1 340.2h0.8v0.8h-0.8zM551.1 332.9h0.8v0.8h-0.8zM552.2 202.7h1.2v1.2h-1.2zM551.3 320.1h1.0v1.0h-1.0zM549.7 257.2h0.8v0.8h-0.8zM555.2 330.6h1.0v1.0h-1.0zM555.4 213.3h0.9v0.9h-0.9zM552.6 354.6h0.8v0.8h-0.8zM552.1 265.5h1.0v1.0h-1.0zM554.6 278.8h1.3v1.3h-1.3zM553.2 275.2h0.9v0.9h-0.9zM550.9 336.2h0.9v0.9h-0.9zM556.6 255.4h0.8v0.8h-0.8zM553.3 248.8h0.9v0.9h-0.9zM551.9 263.1h1.3v1.3h-1.3zM552.4 222.5h1.1v1.1h-1.1zM552.7 261.2h0.8v0.8h-0.8zM552.8 329.0h0.9v0.9h-0.9zM549.5 231.6h1.3v1.3h-1.3zM554.4 275.7h1.0v1.0h-1.0zM550.6 299.3h1.1v1.1h-1.1zM554.2 218.3h1.1v1.1h-1.1zM553.0 294.7h0.8v0.8h-0.8zM554.5 283.5h1.1v1.1h-1.1zM553.6 232.0h1.0v1.0h-1.0zM553.6 316.4h0.9v0.9h-0.9zM554.0 202.0h1.3v1.3h-1.3zM554.8 239.2h1.2v1.2h-1.2zM555.6 279.5h0.7v0.7h-0.7zM552.6 328.7h1.1v1.1h-1.1zM555.9 229.0h1.2v1.2h-1.2zM554.0 215.9h0.8v0.8h-0.8zM551.4 343.0h1.2v1.2h-1.2zM556.8 266.7h1.2v1.2h-1.2zM556.3 325.6h1.1v1.1h-1.1zM550.0 343.8h1.0v1.0h-1.0zM555.9 219.5h1.1v1.1h-1.1zM555.3 269.2h0.8v0.8h-0.8zM551.4 315.1h1.2v1.2h-1.2zM554.6 259.7h0.8v0.8h-0.8zM556.6 255.2h1.0v1.0h-1.0zM549.5 316.5h1.1v1.1h-1.1zM552.0 230.0h0.9v0.9h-0.9zM554.3 261.3h1.0v1.0h-1.0zM556.3 271.7h1.0v1.0h-1.0zM550.8 311.6h0.9v0.9h-0.9zM550.0 240.6h1.1v1.1h-1.1zM552.2 288.7h0.8v0.8h-0.8zM549.3 323.7h0.9v0.9h-0.9zM555.2 243.1h1.2v1.2h-1.2zM554.5 326.3h1.0v1.0h-1.0zM556.5 226.8h0.8v0.8h-0.8zM553.2 220.4h0.8v0.8h-0.8zM552.2 220.4h0.8v0.8h-0.8zM550.7 272.2h1.0v1.0h-1.0zM553.1 329.8h0.7v0.7h-0.7zM550.8 202.8h1.2v1.2h-1.2zM553.4 231.3h1.2v1.2h-1.2zM554.8 233.0h1.0v1.0h-1.0zM552.1 273.0h0.7v0.7h-0.7zM554.6 221.1h1.0v1.0h-1.0zM553.0 236.5h0.9v0.9h-0.9zM554.6 320.8h1.3v1.3h-1.3zM549.6 317.0h0.9v0.9h-0.9zM552.3 246.4h0.7v0.7h-0.7zM553.2 266.8h1.0v1.0h-1.0zM555.6 272.4h0.8v0.8h-0.8zM556.1 261.5h1.1v1.1h-1.1zM552.8 288.1h0.8v0.8h-0.8zM555.9 209.4h0.9v0.9h-0.9zM556.7 198.8h1.1v1.1h-1.1zM555.7 271.4h0.8v0.8h-0.8zM554.7 312.5h0.8v0.8h-0.8zM554.3 301.3h0.7v0.7h-0.7zM554.4 242.3h1.2v1.2h-1.2zM553.4 325.2h0.8v0.8h-0.8zM549.8 345.6h0.7v0.7h-0.7z"/>
<path fill="#30c0c0" d="M550.0 223.5h1.1v1.1h-1.1zM550.4 314.1h1.0v1.0h-1.0zM551.4 224.9h0.9v0.9h-0.9zM552.4 219.4h1.3v1.3h-1.3zM552.2 235.0h0.8v0.8h-0.8zM555.7 321.4h1.2v1.2h-1.2zM555.6 338.8h1.2v1.2h-1.2zM552.2 329.0h1.2v1.2h-1.2zM555.4 279.6h1.0v1.0h-1.0zM552.1 250.8h0.9v0.9h-0.9zM552.1 302.5h0.9v0.9h-0.9zM549.9 326.7h0.8v0.8h-0.8zM549.7 265.7h1.1v1.1h-1.1zM555.4 352.5h0.9v0.9h-0.9zM554.5 214.9h1.2v1.2h-1.2zM553.8 282.7h0.8v0.8h-0.8zM551.9 346.9h1.1v1.1h-1.1zM550.7 321.9h0.9v0.9h-0.9zM555.9 273.1h0.8v0.8h-0.8zM553.8 321.4h1.1v1.1h-1.1zM551.2 292.0h1.3v1.3h-1.3zM555.5 270.1h1.3v1.3h-1.3zM556.4 262.2h0.9v0.9h-0.9zM549.3 274.5h0.7v0.7h-0.7zM556.1 312.6h1.1v1.1h-1.1zM550.4 290.1h1.0v1.0h-1.0zM554.1 238.0h1.2v1.2h-1.2zM551.4 230.6h0.8v0.8h-0.8zM549.5 276.9h1.0v1.0h-1.0zM556.8 208.0h1.0v1.0h-1.0zM555.4 269.1h0.8v0.8h-0.8zM554.1 309.1h1.0v1.0h-1.0zM554.1 314.6h0.7v0.7h-0.7zM556.7 324.3h0.7v0.7h-0.7zM550.5 199.6h1.2v1.2h-1.2zM553.8 323.8h0.7v0.7h-0.7zM553.4 243.0h0.9v0.9h-0.9zM555.1 197.8h0.7v0.7h-0.7zM553.8 307.2h0.9v0.9h-0.9zM551.4 319.0h0.8v0.8h-0.8zM554.3 287.3h0.8v0.8h-0.8zM551.2 254.9h1.0v1.0h-1.0zM551.1 201.4h1.0v1.0h-1.0zM552.8 309.8h0.8v0.8h-0.8zM550.9 302.1h0.9v0.9h-0.9zM556.8 273.3h0.8v0.8h-0.8zM556.2 209.7h0.8v0.8h-0.8zM550.2 349.4h0.8v0.8h-0.8zM553.3 289.1h1.2v1.2h-1.2zM549.7 342.1h0.8v0.8h-0.8zM550.9 239.0h0.7v0.7h-0.7zM552.6 224.6h1.0v1.0h-1.0zM549.7 210.0h0.8v0.8h-0.8zM550.4 227.3h1.0v1.0h-1.0zM549.7 293.6h0.8v0.8h-0.8zM549.7 242.5h1.2v1.2h-1.2zM552.1 252.8h0.9v0.9h-0.9zM551.2 212.7h0.9v0.9h-0.9zM555.4 232.8h0.7v0.7h-0.7zM551.7 335.7h1.0v1.0h-1.0zM552.6 310.8h1.0v1.0h-1.0zM552.0 343.6h0.8v0.8h-0.8zM555.0 333.2h0.9v0.9h-0.9zM549.6 205.6h0.8v0.8h-0.8zM553.0 240.4h1.3v1.3h-1.3zM556.4 210.6h1.2v1.2h-1.2zM552.3 347.8h1.0v1.0h-1.0zM555.0 219.7h1.1v1.1h-1.1zM556.8 282.7h1.1v1.1h-1.1zM550.7 218.4h1.2v1.2h-1.2zM556.7 246.5h1.0v1.0h-1.0zM552.6 223.1h0.7v0.7h-0.7zM549.7 277.3h0.9v0.9h-0.9zM554.4 265.6h1.1v1.1h-1.1zM555.4 214.6h0.9v0.9h-0.9zM554.1 307.0h0.9v0.9h-0.9zM553.8 288.1h0.9v0.9h-0.9zM550.9 197.0h0.8v0.8h-0.8zM554.0 286.3h0.9v0.9h-0.9zM553.2 246.6h1.0v1.0h-1.0zM556.7 327.4h1.1v1.1h-1.1zM549.5 250.2h0.7v0.7h-0.7zM553.5 292.3h1.1v1.1h-1.1zM550.1 330.1h1.2v1.2h-1.2zM551.2 210.1h0.9v0.9h-0.9zM552.1 322.1h1.1v1.1h-1.1zM551.0 198.0h0.9v0.9h-0.9zM551.8 291.7h0.9v0.9h-0.9z"/>
<polyline points="398.3,201.8 398.3,371.5 541.3,371.5 541.3,201.8" stroke="#c8c800" stroke-width="1.1" fill="none"/>
<line x1="398.3" y1="201.8" x2="416.0" y2="201.8" stroke="#c8c800" stroke-width="1.1"/>
<line x1="524.0" y1="201.8" x2="541.3" y2="201.8" stroke="#c8c800" stroke-width="1.1"/>
<line x1="416.0" y1="201.8" x2="524.0" y2="201.8" stroke="#c8c800" stroke-width="1.0" stroke-dasharray="7 2 1.5 2"/>
<line x1="416.0" y1="211.8" x2="524.0" y2="211.8" stroke="#c8c800" stroke-width="1.0" stroke-dasharray="7 2 1.5 2"/>
<line x1="418.0" y1="265.6" x2="522.0" y2="265.6" stroke="#c8c800" stroke-width="1.0" stroke-dasharray="7 2 1.5 2"/>
<line x1="418.0" y1="270.8" x2="522.0" y2="270.8" stroke="#c8c800" stroke-width="1.0" stroke-dasharray="7 2 1.5 2"/>
<polyline points="416.0,201.8 416.5,211.8 417.0,216.0 408.7,216.0 408.7,259.2 418.3,259.2 418.3,273.3 408.5,273.3" stroke="#c8c800" stroke-width="1.0" fill="none"/>
<polyline points="524.0,201.8 523.8,211.8 523.8,216.7 527.7,216.7 527.7,258.8 522.0,258.8 522.0,273.3 531.5,273.3" stroke="#c8c800" stroke-width="1.0" fill="none"/>
<line x1="409.0" y1="360.0" x2="531.0" y2="360.0" stroke="#c8c800" stroke-width="1.1"/>
<circle cx="470" cy="315.2" r="40.5" stroke="#c8c800" stroke-width="1.1" fill="none" stroke-dasharray="9 0.6"/>
<circle cx="470.0" cy="315.2" r="36.0" stroke="#e8e8e8" stroke-width="0.8" fill="none"/>
<circle cx="470.0" cy="315.2" r="33.0" stroke="#e8e8e8" stroke-width="0.8" fill="none"/>
<line x1="470.0" y1="262.0" x2="470.0" y2="368.0" stroke="#e8e8e8" stroke-width="0.7" stroke-dasharray="8 1.5 1.5 1.5"/>
<line x1="411.0" y1="315.2" x2="526.0" y2="315.2" stroke="#e8e8e8" stroke-width="0.7" stroke-dasharray="8 1.5 1.5 1.5"/>
<line x1="373.0" y1="315.3" x2="411.0" y2="315.3" stroke="#e8e8e8" stroke-width="0.8"/>
<line x1="470.0" y1="315.2" x2="500.0" y2="297.5" stroke="#e8e8e8" stroke-width="0.8"/>
<text transform="translate(482 312) rotate(-30) scale(0.85 1)" font-size="5.4" fill="#e8e8e8">3720</text>
<line x1="465.0" y1="186.0" x2="465.0" y2="376.7" stroke="#e8e8e8" stroke-width="0.9"/>
<line x1="463.4" y1="187.6" x2="466.6" y2="184.4" stroke="#e8e8e8" stroke-width="0.7"/>
<line x1="463.4" y1="203.3" x2="466.6" y2="200.1" stroke="#e8e8e8" stroke-width="0.7"/>
<line x1="463.4" y1="213.3" x2="466.6" y2="210.1" stroke="#e8e8e8" stroke-width="0.7"/>
<line x1="463.4" y1="246.6" x2="466.6" y2="243.4" stroke="#e8e8e8" stroke-width="0.7"/>
<line x1="463.4" y1="267.2" x2="466.6" y2="264.0" stroke="#e8e8e8" stroke-width="0.7"/>
<line x1="463.4" y1="272.4" x2="466.6" y2="269.2" stroke="#e8e8e8" stroke-width="0.7"/>
<line x1="463.4" y1="357.1" x2="466.6" y2="353.9" stroke="#e8e8e8" stroke-width="0.7"/>
<line x1="463.4" y1="361.6" x2="466.6" y2="358.4" stroke="#e8e8e8" stroke-width="0.7"/>
<line x1="463.4" y1="373.1" x2="466.6" y2="369.9" stroke="#e8e8e8" stroke-width="0.7"/>
<line x1="462.0" y1="186.0" x2="472.0" y2="186.0" stroke="#e8e8e8" stroke-width="0.7"/>
<text transform="translate(463.0 194.0) rotate(-90) scale(0.85 1)" x="0" y="0" font-size="5.2" fill="#e8e8e8" stroke="#e8e8e8" stroke-width="0.2" text-anchor="middle">1200</text>
<text transform="translate(463.0 206.5) rotate(-90) scale(0.85 1)" x="0" y="0" font-size="5.2" fill="#e8e8e8" stroke="#e8e8e8" stroke-width="0.2" text-anchor="middle">800</text>
<text transform="translate(463.0 228.0) rotate(-90) scale(0.85 1)" x="0" y="0" font-size="5.2" fill="#e8e8e8" stroke="#e8e8e8" stroke-width="0.2" text-anchor="middle">2245</text>
<text transform="translate(463.0 255.0) rotate(-90) scale(0.85 1)" x="0" y="0" font-size="5.2" fill="#e8e8e8" stroke="#e8e8e8" stroke-width="0.2" text-anchor="middle">1200</text>
<text transform="translate(463.0 268.0) rotate(-90) scale(0.85 1)" x="0" y="0" font-size="5.2" fill="#e8e8e8" stroke="#e8e8e8" stroke-width="0.2" text-anchor="middle">400</text>
<text transform="translate(463.0 285.0) rotate(-90) scale(0.85 1)" x="0" y="0" font-size="5.2" fill="#e8e8e8" stroke="#e8e8e8" stroke-width="0.2" text-anchor="middle">3600</text>
<text transform="translate(463.0 315.0) rotate(-90) scale(0.85 1)" x="0" y="0" font-size="5.2" fill="#e8e8e8" stroke="#e8e8e8" stroke-width="0.2" text-anchor="middle">1950</text>
<text transform="translate(463.0 338.0) rotate(-90) scale(0.85 1)" x="0" y="0" font-size="5.2" fill="#e8e8e8" stroke="#e8e8e8" stroke-width="0.2" text-anchor="middle">3900</text>
<text transform="translate(463.0 368.0) rotate(-90) scale(0.85 1)" x="0" y="0" font-size="5.2" fill="#e8e8e8" stroke="#e8e8e8" stroke-width="0.2" text-anchor="middle">150 400</text>
<line x1="409.2" y1="274.6" x2="409.2" y2="447.5" stroke="#c8c8c8" stroke-width="0.8" stroke-dasharray="10 1.5 2 1.5"/>
<line x1="532.0" y1="274.6" x2="532.0" y2="447.5" stroke="#c8c8c8" stroke-width="0.8" stroke-dasharray="10 1.5 2 1.5"/>
<line x1="396.5" y1="279.0" x2="411.0" y2="279.0" stroke="#e8e8e8" stroke-width="0.7"/>
<line x1="530.0" y1="279.0" x2="545.0" y2="279.0" stroke="#e8e8e8" stroke-width="0.7"/>
<text transform="translate(403.5 277.5) scale(0.85 1)" x="0" y="0" font-size="5" fill="#e8e8e8" text-anchor="middle" stroke="#e8e8e8" stroke-width="0.22">281</text>
<text transform="translate(537.5 277.5) scale(0.85 1)" x="0" y="0" font-size="5" fill="#e8e8e8" text-anchor="middle" stroke="#e8e8e8" stroke-width="0.22">281</text>
<line x1="398.0" y1="373.5" x2="541.0" y2="373.5" stroke="#e8e8e8" stroke-width="0.8"/>
<line x1="396.8" y1="390.7" x2="543.6" y2="390.7" stroke="#e8e8e8" stroke-width="0.8"/>
<line x1="396.8" y1="397.4" x2="543.6" y2="397.4" stroke="#e8e8e8" stroke-width="0.8"/>
<line x1="395.2" y1="392.3" x2="398.4" y2="389.1" stroke="#e8e8e8" stroke-width="0.7"/>
<line x1="407.6" y1="392.3" x2="410.8" y2="389.1" stroke="#e8e8e8" stroke-width="0.7"/>
<line x1="530.4" y1="392.3" x2="533.6" y2="389.1" stroke="#e8e8e8" stroke-width="0.7"/>
<line x1="542.0" y1="392.3" x2="545.2" y2="389.1" stroke="#e8e8e8" stroke-width="0.7"/>
<line x1="395.2" y1="399.0" x2="398.4" y2="395.8" stroke="#e8e8e8" stroke-width="0.7"/>
<line x1="542.0" y1="399.0" x2="545.2" y2="395.8" stroke="#e8e8e8" stroke-width="0.7"/>
<line x1="396.8" y1="373.0" x2="396.8" y2="399.0" stroke="#e8e8e8" stroke-width="0.6"/>
<line x1="543.6" y1="373.0" x2="543.6" y2="399.0" stroke="#e8e8e8" stroke-width="0.6"/>
<text transform="translate(469.0 388.5) scale(0.85 1)" x="0" y="0" font-size="5.2" fill="#e8e8e8" text-anchor="middle" stroke="#e8e8e8" stroke-width="0.22">9616</text>
<text transform="translate(469.0 395.3) scale(0.85 1)" x="0" y="0" font-size="5.2" fill="#e8e8e8" text-anchor="middle" stroke="#e8e8e8" stroke-width="0.22">15600</text>
<text transform="translate(403.0 388.5) scale(0.8 1)" x="0" y="0" font-size="4.6" fill="#e8e8e8" text-anchor="middle" stroke="#e8e8e8" stroke-width="0.22">181 281</text>
<text transform="translate(537.0 388.5) scale(0.8 1)" x="0" y="0" font-size="4.6" fill="#e8e8e8" text-anchor="middle" stroke="#e8e8e8" stroke-width="0.22">281 181</text>
<line x1="579.6" y1="169.0" x2="579.6" y2="360.2" stroke="#e8e8e8" stroke-width="0.9"/>
<line x1="565.0" y1="187.3" x2="584.0" y2="187.3" stroke="#e8e8e8" stroke-width="0.7"/>
<line x1="578.0" y1="188.9" x2="581.2" y2="185.7" stroke="#e8e8e8" stroke-width="0.7"/>
<line x1="565.0" y1="244.7" x2="584.0" y2="244.7" stroke="#e8e8e8" stroke-width="0.7"/>
<line x1="578.0" y1="246.3" x2="581.2" y2="243.1" stroke="#e8e8e8" stroke-width="0.7"/>
<line x1="565.0" y1="305.8" x2="584.0" y2="305.8" stroke="#e8e8e8" stroke-width="0.7"/>
<line x1="578.0" y1="307.4" x2="581.2" y2="304.2" stroke="#e8e8e8" stroke-width="0.7"/>
<line x1="565.0" y1="324.2" x2="584.0" y2="324.2" stroke="#e8e8e8" stroke-width="0.7"/>
<line x1="578.0" y1="325.8" x2="581.2" y2="322.6" stroke="#e8e8e8" stroke-width="0.7"/>
<line x1="565.0" y1="360.2" x2="584.0" y2="360.2" stroke="#e8e8e8" stroke-width="0.7"/>
<line x1="578.0" y1="361.8" x2="581.2" y2="358.6" stroke="#e8e8e8" stroke-width="0.7"/>
<line x1="535.0" y1="360.2" x2="584.0" y2="360.2" stroke="#e8e8e8" stroke-width="0.7"/>
<text transform="translate(578.0 178.0) rotate(-90) scale(0.85 1)" x="0" y="0" font-size="5.2" fill="#e8e8e8" stroke="#e8e8e8" stroke-width="0.2" text-anchor="middle">181</text>
<text transform="translate(578.0 216.0) rotate(-90) scale(0.85 1)" x="0" y="0" font-size="5.2" fill="#e8e8e8" stroke="#e8e8e8" stroke-width="0.2" text-anchor="middle">4748</text>
<text transform="translate(578.0 275.0) rotate(-90) scale(0.85 1)" x="0" y="0" font-size="5.2" fill="#e8e8e8" stroke="#e8e8e8" stroke-width="0.2" text-anchor="middle">5160</text>
<text transform="translate(578.0 315.0) rotate(-90) scale(0.85 1)" x="0" y="0" font-size="5.2" fill="#e8e8e8" stroke="#e8e8e8" stroke-width="0.2" text-anchor="middle">1312</text>
<text transform="translate(578.0 343.0) rotate(-90) scale(0.85 1)" x="0" y="0" font-size="5.2" fill="#e8e8e8" stroke="#e8e8e8" stroke-width="0.2" text-anchor="middle">2842</text>
<rect x="407.5" y="183.1" width="125.5" height="7.5" stroke="#e020e0" stroke-width="1.0" fill="none"/>
<line x1="408.3" y1="183.1" x2="408.3" y2="190.6" stroke="#e020e0" stroke-width="0.7"/>
<line x1="532.2" y1="183.1" x2="532.2" y2="190.6" stroke="#e020e0" stroke-width="0.7"/>
<line x1="397.5" y1="182.1" x2="397.5" y2="191.6" stroke="#e020e0" stroke-width="1.4"/>
<line x1="397.5" y1="186.8" x2="407.5" y2="186.8" stroke="#e020e0" stroke-width="1.3"/>
<path d="M397.5 182.6 H402.5 L404.5 184.1 H407.5 V189.6 H404.5 L402.5 191.1 H397.5" stroke="#e020e0" stroke-width="1.0" fill="none"/>
<line x1="543.0" y1="182.1" x2="543.0" y2="191.6" stroke="#e020e0" stroke-width="1.4"/>
<line x1="543.0" y1="186.8" x2="533.0" y2="186.8" stroke="#e020e0" stroke-width="1.3"/>
<path d="M543.0 182.6 H538.0 L536.0 184.1 H533.0 V189.6 H536.0 L538.0 191.1 H543.0" stroke="#e020e0" stroke-width="1.0" fill="none"/>
<rect x="406.7" y="240.7" width="126.3" height="8.3" stroke="#e020e0" stroke-width="1.0" fill="none"/>
<line x1="407.5" y1="240.7" x2="407.5" y2="249.0" stroke="#e020e0" stroke-width="0.7"/>
<line x1="532.2" y1="240.7" x2="532.2" y2="249.0" stroke="#e020e0" stroke-width="0.7"/>
<line x1="396.7" y1="239.7" x2="396.7" y2="250.0" stroke="#e020e0" stroke-width="1.4"/>
<line x1="396.7" y1="244.8" x2="406.7" y2="244.8" stroke="#e020e0" stroke-width="1.3"/>
<path d="M396.7 240.2 H401.7 L403.7 241.7 H406.7 V248.0 H403.7 L401.7 249.5 H396.7" stroke="#e020e0" stroke-width="1.0" fill="none"/>
<line x1="543.0" y1="239.7" x2="543.0" y2="250.0" stroke="#e020e0" stroke-width="1.4"/>
<line x1="543.0" y1="244.8" x2="533.0" y2="244.8" stroke="#e020e0" stroke-width="1.3"/>
<path d="M543.0 240.2 H538.0 L536.0 241.7 H533.0 V248.0 H536.0 L538.0 249.5 H543.0" stroke="#e020e0" stroke-width="1.0" fill="none"/>
<rect x="407.7" y="301.7" width="124.8" height="8.3" stroke="#e020e0" stroke-width="1.0" fill="none"/>
<line x1="408.5" y1="301.7" x2="408.5" y2="310.0" stroke="#e020e0" stroke-width="0.7"/>
<line x1="531.7" y1="301.7" x2="531.7" y2="310.0" stroke="#e020e0" stroke-width="0.7"/>
<line x1="397.7" y1="300.7" x2="397.7" y2="311.0" stroke="#e020e0" stroke-width="1.4"/>
<line x1="397.7" y1="305.9" x2="407.7" y2="305.9" stroke="#e020e0" stroke-width="1.3"/>
<path d="M397.7 301.2 H402.7 L404.7 302.7 H407.7 V309.0 H404.7 L402.7 310.5 H397.7" stroke="#e020e0" stroke-width="1.0" fill="none"/>
<line x1="542.5" y1="300.7" x2="542.5" y2="311.0" stroke="#e020e0" stroke-width="1.4"/>
<line x1="542.5" y1="305.9" x2="532.5" y2="305.9" stroke="#e020e0" stroke-width="1.3"/>
<path d="M542.5 301.2 H537.5 L535.5 302.7 H532.5 V309.0 H535.5 L537.5 310.5 H542.5" stroke="#e020e0" stroke-width="1.0" fill="none"/>
<rect x="419.2" y="320.0" width="101.8" height="8.8" stroke="#e020e0" stroke-width="1.0" fill="none"/>
<line x1="420.0" y1="320.0" x2="420.0" y2="328.8" stroke="#e020e0" stroke-width="0.7"/>
<line x1="520.2" y1="320.0" x2="520.2" y2="328.8" stroke="#e020e0" stroke-width="0.7"/>
<line x1="409.2" y1="319.0" x2="409.2" y2="329.8" stroke="#e020e0" stroke-width="1.4"/>
<line x1="409.2" y1="324.4" x2="419.2" y2="324.4" stroke="#e020e0" stroke-width="1.3"/>
<path d="M409.2 319.5 H414.2 L416.2 321.0 H419.2 V327.8 H416.2 L414.2 329.3 H409.2" stroke="#e020e0" stroke-width="1.0" fill="none"/>
<line x1="531.0" y1="319.0" x2="531.0" y2="329.8" stroke="#e020e0" stroke-width="1.4"/>
<line x1="531.0" y1="324.4" x2="521.0" y2="324.4" stroke="#e020e0" stroke-width="1.3"/>
<path d="M531.0 319.5 H526.0 L524.0 321.0 H521.0 V327.8 H524.0 L526.0 329.3 H531.0" stroke="#e020e0" stroke-width="1.0" fill="none"/>
<line x1="372.0" y1="187.5" x2="566.0" y2="187.5" stroke="#d01010" stroke-width="1.1" stroke-dasharray="9 3 2 3"/>
<line x1="372.0" y1="245.0" x2="566.0" y2="245.0" stroke="#d01010" stroke-width="1.1" stroke-dasharray="9 3 2 3"/>
<line x1="372.0" y1="305.4" x2="566.0" y2="305.4" stroke="#d01010" stroke-width="1.1" stroke-dasharray="9 3 2 3"/>
<line x1="372.0" y1="324.2" x2="566.0" y2="324.2" stroke="#d01010" stroke-width="1.1" stroke-dasharray="9 3 2 3"/>
<circle cx="408.6" cy="452.5" r="4.5" stroke="#10c010" stroke-width="1.0" fill="none"/>
<text x="408.6" y="454.6" font-size="5.6" fill="#e8e8e8" text-anchor="middle" stroke="#e8e8e8" stroke-width="0.22">A</text>
<circle cx="531.5" cy="452.5" r="4.5" stroke="#10c010" stroke-width="1.0" fill="none"/>
<text x="531.5" y="454.6" font-size="5.6" fill="#e8e8e8" text-anchor="middle" stroke="#e8e8e8" stroke-width="0.22">B</text>
<line x1="546.4" y1="423.6" x2="592.2" y2="423.6" stroke="#e8e8e8" stroke-width="0.8"/>
<text x="560.0" y="421.0" font-size="5" fill="#e8e8e8" text-anchor="start" font-weight="bold" stroke="#e8e8e8" stroke-width="0.22">C30钻孔灌注桩</text>
<text transform="translate(562.0 430.0) scale(0.85 1)" x="0" y="0" font-size="5" fill="#e8e8e8" text-anchor="start" stroke="#e8e8e8" stroke-width="0.22">φ1000@1300</text>
<text x="564.0" y="436.0" font-size="5" fill="#e8e8e8" text-anchor="start" font-weight="bold" stroke="#e8e8e8" stroke-width="0.22">桩长20.75m</text>
<text x="445.0" y="472.5" font-size="6.2" fill="#e8e8e8" text-anchor="start" font-weight="bold" stroke="#e8e8e8" stroke-width="0.22">基坑B—B剖面图布置</text>
<line x1="441.0" y1="477.0" x2="508.0" y2="477.0" stroke="#10c010" stroke-width="1.4"/>
<line x1="441.0" y1="480.0" x2="508.0" y2="480.0" stroke="#10c010" stroke-width="1.0"/>
<text x="460.5" y="489.0" font-size="7.2" fill="#d8d8d8" text-anchor="start" stroke="#d8d8d8" stroke-width="0.22">1:100</text>
<text x="543.5" y="488.5" font-size="7" fill="#f0f0f0" stroke="#f0f0f0" stroke-width="0.22" font-weight="bold" textLength="83" lengthAdjust="spacingAndGlyphs">①~②③~ ④ 支撑轴力表</text>
<line x1="542.0" y1="492.3" x2="630.7" y2="492.3" stroke="#10c010" stroke-width="1.8"/>
<rect x="526.4" y="500.3" width="178.8" height="64.6" stroke="#e8e8e8" stroke-width="0.9" fill="none"/>
<line x1="526.4" y1="515.5" x2="705.2" y2="515.5" stroke="#e8e8e8" stroke-width="0.8"/>
<line x1="526.4" y1="526.3" x2="705.2" y2="526.3" stroke="#e8e8e8" stroke-width="0.8"/>
<line x1="526.4" y1="535.9" x2="705.2" y2="535.9" stroke="#e8e8e8" stroke-width="0.8"/>
<line x1="526.4" y1="546.0" x2="705.2" y2="546.0" stroke="#e8e8e8" stroke-width="0.8"/>
<line x1="526.4" y1="555.6" x2="705.2" y2="555.6" stroke="#e8e8e8" stroke-width="0.8"/>
<line x1="551.8" y1="500.3" x2="551.8" y2="564.9" stroke="#e8e8e8" stroke-width="0.8"/>
<line x1="628.0" y1="500.3" x2="628.0" y2="564.9" stroke="#e8e8e8" stroke-width="0.8"/>
<line x1="590.4" y1="515.5" x2="590.4" y2="564.9" stroke="#e8e8e8" stroke-width="0.8"/>
<line x1="666.6" y1="515.5" x2="666.6" y2="564.9" stroke="#e8e8e8" stroke-width="0.8"/>
<line x1="590.4" y1="564.9" x2="628.0" y2="555.6" stroke="#e8e8e8" stroke-width="0.8"/>
<line x1="666.6" y1="564.9" x2="705.2" y2="555.6" stroke="#e8e8e8" stroke-width="0.8"/>
<text x="590.0" y="510.0" font-size="5.5" fill="#e8e8e8" text-anchor="middle" font-weight="bold" stroke="#e8e8e8" stroke-width="0.22">支撑</text>
<text x="666.6" y="510.0" font-size="5.5" fill="#e8e8e8" text-anchor="middle" font-weight="bold" stroke="#e8e8e8" stroke-width="0.22">钢撑</text>
<text x="571.0" y="523.0" font-size="5.3" fill="#e8e8e8" text-anchor="middle" font-weight="bold" stroke="#e8e8e8" stroke-width="0.22">标准值(kN/m)</text>
<text x="609.0" y="523.0" font-size="5.3" fill="#e8e8e8" text-anchor="middle" font-weight="bold" stroke="#e8e8e8" stroke-width="0.22">设计值(kN/m)</text>
<text x="647.0" y="523.0" font-size="5.3" fill="#e8e8e8" text-anchor="middle" font-weight="bold" stroke="#e8e8e8" stroke-width="0.22">标准值(kN/m)</text>
<text x="686.0" y="523.0" font-size="5.3" fill="#e8e8e8" text-anchor="middle" font-weight="bold" stroke="#e8e8e8" stroke-width="0.22">设计值(kN/m)</text>
<text x="539.0" y="533.0" font-size="5.2" fill="#e8e8e8" text-anchor="middle" font-weight="bold" stroke="#e8e8e8" stroke-width="0.22">第一道支撑</text>
<text transform="translate(571.0 533.0) scale(0.85 1)" x="0" y="0" font-size="5.3" fill="#e8e8e8" text-anchor="middle" stroke="#e8e8e8" stroke-width="0.22">134.5</text>
<text transform="translate(609.0 533.0) scale(0.85 1)" x="0" y="0" font-size="5.3" fill="#e8e8e8" text-anchor="middle" stroke="#e8e8e8" stroke-width="0.22">60</text>
<text transform="translate(647.0 533.0) scale(0.85 1)" x="0" y="0" font-size="5.3" fill="#e8e8e8" text-anchor="middle" stroke="#e8e8e8" stroke-width="0.22">160.28</text>
<text transform="translate(686.0 533.0) scale(0.85 1)" x="0" y="0" font-size="5.3" fill="#e8e8e8" text-anchor="middle" stroke="#e8e8e8" stroke-width="0.22">84.8</text>
<text x="539.0" y="543.0" font-size="5.2" fill="#e8e8e8" text-anchor="middle" font-weight="bold" stroke="#e8e8e8" stroke-width="0.22">第二道支撑</text>
<text transform="translate(571.0 543.0) scale(0.85 1)" x="0" y="0" font-size="5.3" fill="#e8e8e8" text-anchor="middle" stroke="#e8e8e8" stroke-width="0.22">726.4</text>
<text transform="translate(609.0 543.0) scale(0.85 1)" x="0" y="0" font-size="5.3" fill="#e8e8e8" text-anchor="middle" stroke="#e8e8e8" stroke-width="0.22">300</text>
<text transform="translate(647.0 543.0) scale(0.85 1)" x="0" y="0" font-size="5.3" fill="#e8e8e8" text-anchor="middle" stroke="#e8e8e8" stroke-width="0.22">1057.43</text>
<text transform="translate(686.0 543.0) scale(0.85 1)" x="0" y="0" font-size="5.3" fill="#e8e8e8" text-anchor="middle" stroke="#e8e8e8" stroke-width="0.22">424.3</text>
<text x="539.0" y="553.0" font-size="5.2" fill="#e8e8e8" text-anchor="middle" font-weight="bold" stroke="#e8e8e8" stroke-width="0.22">第三道支撑</text>
<text transform="translate(571.0 553.0) scale(0.85 1)" x="0" y="0" font-size="5.3" fill="#e8e8e8" text-anchor="middle" stroke="#e8e8e8" stroke-width="0.22">843.5</text>
<text transform="translate(609.0 553.0) scale(0.85 1)" x="0" y="0" font-size="5.3" fill="#e8e8e8" text-anchor="middle" stroke="#e8e8e8" stroke-width="0.22">350</text>
<text transform="translate(647.0 553.0) scale(0.85 1)" x="0" y="0" font-size="5.3" fill="#e8e8e8" text-anchor="middle" stroke="#e8e8e8" stroke-width="0.22">1200</text>
<text transform="translate(686.0 553.0) scale(0.85 1)" x="0" y="0" font-size="5.3" fill="#e8e8e8" text-anchor="middle" stroke="#e8e8e8" stroke-width="0.22">495.03</text>
<text x="539.0" y="562.5" font-size="5.2" fill="#e8e8e8" text-anchor="middle" font-weight="bold" stroke="#e8e8e8" stroke-width="0.22">换撑</text>
<text transform="translate(571.0 562.5) scale(0.85 1)" x="0" y="0" font-size="5.3" fill="#e8e8e8" text-anchor="middle" stroke="#e8e8e8" stroke-width="0.22">550.2</text>
<text transform="translate(647.0 562.5) scale(0.85 1)" x="0" y="0" font-size="5.3" fill="#e8e8e8" text-anchor="middle" stroke="#e8e8e8" stroke-width="0.22">778.2</text>
<text x="530.0" y="576.0" font-size="5.2" fill="#e8e8e8" text-anchor="start" font-weight="bold" stroke="#e8e8e8" stroke-width="0.22">注：1、本图中支撑轴力为基坑主体标准段轴力，</text>
<text x="545.0" y="585.5" font-size="5.2" fill="#e8e8e8" text-anchor="start" font-weight="bold" stroke="#e8e8e8" stroke-width="0.22">施工中应施工监测并根据监测结果调整。</text>
<text x="198.0" y="480.0" font-size="5.8" fill="#e8e8e8" text-anchor="start" font-weight="bold" stroke="#e8e8e8" stroke-width="0.22">说明：</text>
<text x="221" y="483.0" font-size="5.6" fill="#f0f0f0" stroke="#f0f0f0" stroke-width="0.25" font-weight="bold" textLength="104.5" lengthAdjust="spacingAndGlyphs">1.本图尺寸除标高、里程以米计外,其余尺寸均以mm计。</text>
<text x="221" y="492.7" font-size="5.6" fill="#f0f0f0" stroke="#f0f0f0" stroke-width="0.25" font-weight="bold" textLength="88.0" lengthAdjust="spacingAndGlyphs">2.本工程基坑安全等级为一级保护。</text>
<text x="221" y="503.8" font-size="5.6" fill="#f0f0f0" stroke="#f0f0f0" stroke-width="0.25" font-weight="bold" textLength="136.8" lengthAdjust="spacingAndGlyphs">3.基坑支护采用钻孔灌注桩+内支撑,桩间挂网喷混凝土,桩顶设冠梁。</text>
<text x="221" y="513.6" font-size="5.6" fill="#f0f0f0" stroke="#f0f0f0" stroke-width="0.25" font-weight="bold" textLength="136.8" lengthAdjust="spacingAndGlyphs">支撑系统第三道钢支撑,施工时应严格按照设计要求进行施工。</text>
<text x="221" y="523.8" font-size="5.6" fill="#f0f0f0" stroke="#f0f0f0" stroke-width="0.25" font-weight="bold" textLength="121.0" lengthAdjust="spacingAndGlyphs">应对支撑体系进行监测,及时反馈监测信息。</text>
<text x="221" y="535.3" font-size="5.6" fill="#f0f0f0" stroke="#f0f0f0" stroke-width="0.25" font-weight="bold" textLength="136.8" lengthAdjust="spacingAndGlyphs">4.基坑周边地面超载不得大于20kPa,堆载范围应控制在安全距离外。</text>
<text x="221" y="546.0" font-size="5.6" fill="#f0f0f0" stroke="#f0f0f0" stroke-width="0.25" font-weight="bold" textLength="136.8" lengthAdjust="spacingAndGlyphs">5.基坑开挖时,严禁超挖,分层开挖深度不大于2.0m,严禁扰动。</text>
<text x="221" y="556.4" font-size="5.6" fill="#f0f0f0" stroke="#f0f0f0" stroke-width="0.25" font-weight="bold" textLength="104.5" lengthAdjust="spacingAndGlyphs">6.冠梁混凝土达到设计强度后方可开挖。</text>
<text x="221" y="566.0" font-size="5.6" fill="#f0f0f0" stroke="#f0f0f0" stroke-width="0.25" font-weight="bold" textLength="141.0" lengthAdjust="spacingAndGlyphs">7.基坑开挖过程中应加强监测,及时反馈信息,确保基坑安全。</text>
<text x="221" y="575.8" font-size="5.6" fill="#f0f0f0" stroke="#f0f0f0" stroke-width="0.25" font-weight="bold" textLength="165.7" lengthAdjust="spacingAndGlyphs">8.钢支撑施加预应力,预加轴力为设计值的50%-70%,并按监测结果及时调整(其他)。</text>
<text x="221" y="585.3" font-size="5.6" fill="#f0f0f0" stroke="#f0f0f0" stroke-width="0.25" font-weight="bold" textLength="162.0" lengthAdjust="spacingAndGlyphs">9.拆除第三道支撑前,底板混凝土应达到设计强度,施工中应加强监测,确保基坑安全。</text>
<text x="221" y="594.9" font-size="5.6" fill="#f0f0f0" stroke="#f0f0f0" stroke-width="0.25" font-weight="bold" textLength="99.0" lengthAdjust="spacingAndGlyphs">10.本图应与其他相关图纸配合使用。</text>
<rect x="719.2" y="142.0" width="5.0" height="330.0" stroke="#e8e8e8" stroke-width="0.9" fill="none"/>
<rect x="719.2" y="153.7" width="5.0" height="13.4" fill="#f4f4f4"/>
<rect x="719.2" y="178.1" width="5.0" height="13.4" fill="#f4f4f4"/>
<rect x="719.2" y="202.5" width="5.0" height="13.4" fill="#f4f4f4"/>
<rect x="719.2" y="226.9" width="5.0" height="13.4" fill="#f4f4f4"/>
<rect x="719.2" y="251.3" width="5.0" height="13.4" fill="#f4f4f4"/>
<rect x="719.2" y="275.7" width="5.0" height="13.4" fill="#f4f4f4"/>
<rect x="719.2" y="300.1" width="5.0" height="13.4" fill="#f4f4f4"/>
<rect x="719.2" y="324.5" width="5.0" height="13.4" fill="#f4f4f4"/>
<rect x="719.2" y="348.9" width="5.0" height="13.4" fill="#f4f4f4"/>
<rect x="719.2" y="373.3" width="5.0" height="13.4" fill="#f4f4f4"/>
<rect x="719.2" y="397.7" width="5.0" height="13.4" fill="#f4f4f4"/>
<rect x="719.2" y="422.1" width="5.0" height="13.4" fill="#f4f4f4"/>
<rect x="719.2" y="446.5" width="5.0" height="13.4" fill="#f4f4f4"/>
<text transform="translate(718.6 142.5) scale(0.8 1)" x="0" y="0" font-size="5.2" fill="#e8e8e8" text-anchor="end" font-weight="bold" stroke="#e8e8e8" stroke-width="0.22">28.00</text>
<line x1="717.6" y1="140.5" x2="719.6" y2="140.5" stroke="#e8e8e8" stroke-width="0.6"/>
<text transform="translate(718.6 166.9) scale(0.8 1)" x="0" y="0" font-size="5.2" fill="#e8e8e8" text-anchor="end" font-weight="bold" stroke="#e8e8e8" stroke-width="0.22">26.00</text>
<line x1="717.6" y1="164.9" x2="719.6" y2="164.9" stroke="#e8e8e8" stroke-width="0.6"/>
<text transform="translate(718.6 191.3) scale(0.8 1)" x="0" y="0" font-size="5.2" fill="#e8e8e8" text-anchor="end" font-weight="bold" stroke="#e8e8e8" stroke-width="0.22">24.00</text>
<line x1="717.6" y1="189.3" x2="719.6" y2="189.3" stroke="#e8e8e8" stroke-width="0.6"/>
<text transform="translate(718.6 215.7) scale(0.8 1)" x="0" y="0" font-size="5.2" fill="#e8e8e8" text-anchor="end" font-weight="bold" stroke="#e8e8e8" stroke-width="0.22">22.00</text>
<line x1="717.6" y1="213.7" x2="719.6" y2="213.7" stroke="#e8e8e8" stroke-width="0.6"/>
<text transform="translate(718.6 240.1) scale(0.8 1)" x="0" y="0" font-size="5.2" fill="#e8e8e8" text-anchor="end" font-weight="bold" stroke="#e8e8e8" stroke-width="0.22">20.00</text>
<line x1="717.6" y1="238.1" x2="719.6" y2="238.1" stroke="#e8e8e8" stroke-width="0.6"/>
<text transform="translate(718.6 264.5) scale(0.8 1)" x="0" y="0" font-size="5.2" fill="#e8e8e8" text-anchor="end" font-weight="bold" stroke="#e8e8e8" stroke-width="0.22">18.00</text>
<line x1="717.6" y1="262.5" x2="719.6" y2="262.5" stroke="#e8e8e8" stroke-width="0.6"/>
<text transform="translate(718.6 288.9) scale(0.8 1)" x="0" y="0" font-size="5.2" fill="#e8e8e8" text-anchor="end" font-weight="bold" stroke="#e8e8e8" stroke-width="0.22">16.00</text>
<line x1="717.6" y1="286.9" x2="719.6" y2="286.9" stroke="#e8e8e8" stroke-width="0.6"/>
<text transform="translate(718.6 313.3) scale(0.8 1)" x="0" y="0" font-size="5.2" fill="#e8e8e8" text-anchor="end" font-weight="bold" stroke="#e8e8e8" stroke-width="0.22">14.00</text>
<line x1="717.6" y1="311.3" x2="719.6" y2="311.3" stroke="#e8e8e8" stroke-width="0.6"/>
<text transform="translate(718.6 337.7) scale(0.8 1)" x="0" y="0" font-size="5.2" fill="#e8e8e8" text-anchor="end" font-weight="bold" stroke="#e8e8e8" stroke-width="0.22">12.00</text>
<line x1="717.6" y1="335.7" x2="719.6" y2="335.7" stroke="#e8e8e8" stroke-width="0.6"/>
<text transform="translate(718.6 362.1) scale(0.8 1)" x="0" y="0" font-size="5.2" fill="#e8e8e8" text-anchor="end" font-weight="bold" stroke="#e8e8e8" stroke-width="0.22">10.00</text>
<line x1="717.6" y1="360.1" x2="719.6" y2="360.1" stroke="#e8e8e8" stroke-width="0.6"/>
<text transform="translate(718.6 386.5) scale(0.8 1)" x="0" y="0" font-size="5.2" fill="#e8e8e8" text-anchor="end" font-weight="bold" stroke="#e8e8e8" stroke-width="0.22">8.00</text>
<line x1="717.6" y1="384.5" x2="719.6" y2="384.5" stroke="#e8e8e8" stroke-width="0.6"/>
<text transform="translate(718.6 410.9) scale(0.8 1)" x="0" y="0" font-size="5.2" fill="#e8e8e8" text-anchor="end" font-weight="bold" stroke="#e8e8e8" stroke-width="0.22">6.00</text>
<line x1="717.6" y1="408.9" x2="719.6" y2="408.9" stroke="#e8e8e8" stroke-width="0.6"/>
<text transform="translate(718.6 435.3) scale(0.8 1)" x="0" y="0" font-size="5.2" fill="#e8e8e8" text-anchor="end" font-weight="bold" stroke="#e8e8e8" stroke-width="0.22">4.00</text>
<line x1="717.6" y1="433.3" x2="719.6" y2="433.3" stroke="#e8e8e8" stroke-width="0.6"/>
<text transform="translate(718.6 459.7) scale(0.8 1)" x="0" y="0" font-size="5.2" fill="#e8e8e8" text-anchor="end" font-weight="bold" stroke="#e8e8e8" stroke-width="0.22">2.00</text>
<line x1="717.6" y1="457.7" x2="719.6" y2="457.7" stroke="#e8e8e8" stroke-width="0.6"/>
<polyline points="762.2,466.0 762.2,168.8 787.7,168.8 787.7,466.0" stroke="#dcdcdc" stroke-width="0.9" fill="none"/>
<line x1="762.2" y1="184.3" x2="787.7" y2="184.3" stroke="#dcdcdc" stroke-width="0.8"/>
<line x1="762.2" y1="190.4" x2="787.7" y2="190.4" stroke="#dcdcdc" stroke-width="0.8"/>
<line x1="762.2" y1="229.3" x2="787.7" y2="229.3" stroke="#dcdcdc" stroke-width="0.8"/>
<line x1="762.2" y1="325.5" x2="787.7" y2="325.5" stroke="#dcdcdc" stroke-width="0.8"/>
<line x1="762.2" y1="340.2" x2="787.7" y2="340.2" stroke="#dcdcdc" stroke-width="0.8"/>
<line x1="762.2" y1="348.8" x2="787.7" y2="348.8" stroke="#dcdcdc" stroke-width="0.8"/>
<line x1="762.2" y1="395.5" x2="787.7" y2="395.5" stroke="#dcdcdc" stroke-width="0.8"/>
<line x1="762.2" y1="231.0" x2="787.7" y2="231.0" stroke="#bbbbbb" stroke-width="0.5"/>
<clipPath id="cl501"><rect x="762.2" y="168.8" width="25.5" height="15.5"/></clipPath>
<g stroke="#cfcfcf" stroke-width="0.6" clip-path="url(#cl501)">
<line x1="745.2" y1="168.8" x2="760.7" y2="184.3"/>
<line x1="760.7" y1="168.8" x2="745.2" y2="184.3"/>
<line x1="753.7" y1="168.8" x2="769.2" y2="184.3"/>
<line x1="769.2" y1="168.8" x2="753.7" y2="184.3"/>
<line x1="762.2" y1="168.8" x2="777.7" y2="184.3"/>
<line x1="777.7" y1="168.8" x2="762.2" y2="184.3"/>
<line x1="770.7" y1="168.8" x2="786.2" y2="184.3"/>
<line x1="786.2" y1="168.8" x2="770.7" y2="184.3"/>
<line x1="779.2" y1="168.8" x2="794.7" y2="184.3"/>
<line x1="794.7" y1="168.8" x2="779.2" y2="184.3"/>
<line x1="787.7" y1="168.8" x2="803.2" y2="184.3"/>
<line x1="803.2" y1="168.8" x2="787.7" y2="184.3"/>
<line x1="796.2" y1="168.8" x2="811.7" y2="184.3"/>
<line x1="811.7" y1="168.8" x2="796.2" y2="184.3"/>
<line x1="804.7" y1="168.8" x2="820.2" y2="184.3"/>
<line x1="820.2" y1="168.8" x2="804.7" y2="184.3"/>
</g>
<g stroke="#cfcfcf" stroke-width="0.5">
<line x1="764.2" y1="190.4" x2="769.2" y2="184.3"/>
<line x1="770.2" y1="190.4" x2="775.2" y2="184.3"/>
<line x1="776.2" y1="190.4" x2="781.2" y2="184.3"/>
<line x1="782.2" y1="190.4" x2="787.2" y2="184.3"/>
<line x1="788.2" y1="190.4" x2="793.2" y2="184.3"/>
</g>
<g stroke="#cfcfcf" stroke-width="0.6">
<line x1="762.2" y1="333.0" x2="769.0" y2="325.5"/>
<line x1="762.2" y1="340.2" x2="775.6" y2="325.5"/>
<line x1="762.2" y1="347.4" x2="782.1" y2="325.5"/>
<line x1="762.2" y1="354.6" x2="787.7" y2="326.6"/>
<line x1="762.2" y1="361.8" x2="787.7" y2="333.8"/>
<line x1="762.2" y1="369.0" x2="787.7" y2="341.0"/>
<line x1="762.2" y1="376.2" x2="787.7" y2="348.2"/>
<line x1="762.2" y1="383.4" x2="787.7" y2="355.4"/>
<line x1="762.2" y1="390.6" x2="787.7" y2="362.6"/>
<line x1="764.3" y1="395.5" x2="787.7" y2="369.8"/>
<line x1="770.9" y1="395.5" x2="787.7" y2="377.0"/>
<line x1="777.4" y1="395.5" x2="787.7" y2="384.2"/>
</g>
<path fill="#d8d8d8" d="M765.7 193.9h0.9v0.9h-0.9zM771.7 193.9h0.9v0.9h-0.9zM779.2 193.9h0.9v0.9h-0.9zM784.7 193.9h0.9v0.9h-0.9zM768.2 202.4h0.9v0.9h-0.9zM776.2 202.4h0.9v0.9h-0.9zM782.2 202.4h0.9v0.9h-0.9zM765.7 210.9h0.9v0.9h-0.9zM771.7 210.9h0.9v0.9h-0.9zM779.2 210.9h0.9v0.9h-0.9zM784.7 210.9h0.9v0.9h-0.9zM768.2 219.4h0.9v0.9h-0.9zM776.2 219.4h0.9v0.9h-0.9zM782.2 219.4h0.9v0.9h-0.9zM765.7 234.5h0.9v0.9h-0.9zM771.7 234.5h0.9v0.9h-0.9zM779.2 234.5h0.9v0.9h-0.9zM784.7 234.5h0.9v0.9h-0.9zM768.2 243.0h0.9v0.9h-0.9zM776.2 243.0h0.9v0.9h-0.9zM782.2 243.0h0.9v0.9h-0.9zM765.7 251.5h0.9v0.9h-0.9zM771.7 251.5h0.9v0.9h-0.9zM779.2 251.5h0.9v0.9h-0.9zM784.7 251.5h0.9v0.9h-0.9zM768.2 260.0h0.9v0.9h-0.9zM776.2 260.0h0.9v0.9h-0.9zM782.2 260.0h0.9v0.9h-0.9zM765.7 268.5h0.9v0.9h-0.9zM771.7 268.5h0.9v0.9h-0.9zM779.2 268.5h0.9v0.9h-0.9zM784.7 268.5h0.9v0.9h-0.9zM768.2 277.0h0.9v0.9h-0.9zM776.2 277.0h0.9v0.9h-0.9zM782.2 277.0h0.9v0.9h-0.9zM765.7 285.5h0.9v0.9h-0.9zM771.7 285.5h0.9v0.9h-0.9zM779.2 285.5h0.9v0.9h-0.9zM784.7 285.5h0.9v0.9h-0.9zM768.2 294.0h0.9v0.9h-0.9zM776.2 294.0h0.9v0.9h-0.9zM782.2 294.0h0.9v0.9h-0.9zM765.7 302.5h0.9v0.9h-0.9zM771.7 302.5h0.9v0.9h-0.9zM779.2 302.5h0.9v0.9h-0.9zM784.7 302.5h0.9v0.9h-0.9zM768.2 311.0h0.9v0.9h-0.9zM776.2 311.0h0.9v0.9h-0.9zM782.2 311.0h0.9v0.9h-0.9zM765.7 319.5h0.9v0.9h-0.9zM771.7 319.5h0.9v0.9h-0.9zM779.2 319.5h0.9v0.9h-0.9zM784.7 319.5h0.9v0.9h-0.9zM765.7 399.0h0.9v0.9h-0.9zM771.7 399.0h0.9v0.9h-0.9zM779.2 399.0h0.9v0.9h-0.9zM784.7 399.0h0.9v0.9h-0.9zM768.2 407.5h0.9v0.9h-0.9zM776.2 407.5h0.9v0.9h-0.9zM782.2 407.5h0.9v0.9h-0.9zM765.7 416.0h0.9v0.9h-0.9zM771.7 416.0h0.9v0.9h-0.9zM779.2 416.0h0.9v0.9h-0.9zM784.7 416.0h0.9v0.9h-0.9zM768.2 424.5h0.9v0.9h-0.9zM776.2 424.5h0.9v0.9h-0.9zM782.2 424.5h0.9v0.9h-0.9zM765.7 433.0h0.9v0.9h-0.9zM771.7 433.0h0.9v0.9h-0.9zM779.2 433.0h0.9v0.9h-0.9zM784.7 433.0h0.9v0.9h-0.9zM768.2 441.5h0.9v0.9h-0.9zM776.2 441.5h0.9v0.9h-0.9zM782.2 441.5h0.9v0.9h-0.9zM765.7 450.0h0.9v0.9h-0.9zM771.7 450.0h0.9v0.9h-0.9zM779.2 450.0h0.9v0.9h-0.9zM784.7 450.0h0.9v0.9h-0.9zM768.2 458.5h0.9v0.9h-0.9zM776.2 458.5h0.9v0.9h-0.9zM782.2 458.5h0.9v0.9h-0.9z"/>
<circle cx="775.4" cy="176.8" r="3.8" stroke="#d0d0d0" stroke-width="0.6" fill="#000"/>
<text x="775.4" y="178.6" font-size="5" fill="#d0d0d0" text-anchor="middle" stroke="#d0d0d0" stroke-width="0.22">1</text>
<circle cx="775.4" cy="211.8" r="3.8" stroke="#d0d0d0" stroke-width="0.6" fill="#000"/>
<text x="775.4" y="213.6" font-size="5" fill="#d0d0d0" text-anchor="middle" stroke="#d0d0d0" stroke-width="0.22">2</text>
<circle cx="775.4" cy="280.0" r="3.8" stroke="#d0d0d0" stroke-width="0.6" fill="#000"/>
<text x="775.4" y="281.8" font-size="5" fill="#d0d0d0" text-anchor="middle" stroke="#d0d0d0" stroke-width="0.22">3</text>
<circle cx="775.4" cy="343.8" r="3.8" stroke="#d0d0d0" stroke-width="0.6" fill="#000"/>
<text x="775.4" y="345.6" font-size="5" fill="#d0d0d0" text-anchor="middle" stroke="#d0d0d0" stroke-width="0.22">4</text>
<circle cx="775.4" cy="368.8" r="3.8" stroke="#d0d0d0" stroke-width="0.6" fill="#000"/>
<text x="775.4" y="370.6" font-size="5" fill="#d0d0d0" text-anchor="middle" stroke="#d0d0d0" stroke-width="0.22">4</text>
<circle cx="775.4" cy="435.0" r="3.8" stroke="#d0d0d0" stroke-width="0.6" fill="#000"/>
<text x="775.4" y="436.8" font-size="5" fill="#d0d0d0" text-anchor="middle" stroke="#d0d0d0" stroke-width="0.22">5</text>
<text transform="translate(736.1 179.7) scale(0.68 1)" x="0" y="0" font-size="6" fill="#c8c8c8" text-anchor="start" stroke="#c8c8c8" stroke-width="0.22">杂填土</text>
<text transform="translate(736.1 189.2) scale(0.68 1)" x="0" y="0" font-size="6" fill="#c8c8c8" text-anchor="start" stroke="#c8c8c8" stroke-width="0.22">粉质黏土</text>
<text transform="translate(736.1 212.2) scale(0.68 1)" x="0" y="0" font-size="6" fill="#c8c8c8" text-anchor="start" stroke="#c8c8c8" stroke-width="0.22">粉细砂</text>
<text transform="translate(736.1 282.2) scale(0.68 1)" x="0" y="0" font-size="6" fill="#c8c8c8" text-anchor="start" stroke="#c8c8c8" stroke-width="0.22">中细砂</text>
<text transform="translate(736.1 338.2) scale(0.68 1)" x="0" y="0" font-size="6" fill="#c8c8c8" text-anchor="start" stroke="#c8c8c8" stroke-width="0.22">黏质粉土、粉质黏土</text>
<text transform="translate(736.1 352.2) scale(0.68 1)" x="0" y="0" font-size="6" fill="#c8c8c8" text-anchor="start" stroke="#c8c8c8" stroke-width="0.22">粉质黏土</text>
<text transform="translate(736.1 374.7) scale(0.68 1)" x="0" y="0" font-size="6" fill="#c8c8c8" text-anchor="start" stroke="#c8c8c8" stroke-width="0.22">黏质粉土、粉质黏土</text>
<text transform="translate(736.1 433.2) scale(0.68 1)" x="0" y="0" font-size="6" fill="#c8c8c8" text-anchor="start" stroke="#c8c8c8" stroke-width="0.22">细中砂</text>
<text transform="translate(789.6 166.4) scale(0.85 1)" x="0" y="0" font-size="5.4" fill="#d8d8d8" text-anchor="start" stroke="#d8d8d8" stroke-width="0.22">25.36</text>
<text transform="translate(789.6 186.4) scale(0.85 1)" x="0" y="0" font-size="5.4" fill="#d8d8d8" text-anchor="start" stroke="#d8d8d8" stroke-width="0.22">24.08</text>
<text transform="translate(789.6 192.6) scale(0.85 1)" x="0" y="0" font-size="5.4" fill="#d8d8d8" text-anchor="start" stroke="#d8d8d8" stroke-width="0.22">23.58</text>
<text transform="translate(789.6 224.2) scale(0.85 1)" x="0" y="0" font-size="5.4" fill="#d8d8d8" text-anchor="start" stroke="#d8d8d8" stroke-width="0.22">21.30</text>
<text transform="translate(789.6 327.5) scale(0.85 1)" x="0" y="0" font-size="5.4" fill="#d8d8d8" text-anchor="start" stroke="#d8d8d8" stroke-width="0.22">12.54</text>
<text transform="translate(789.6 342.0) scale(0.85 1)" x="0" y="0" font-size="5.4" fill="#d8d8d8" text-anchor="start" stroke="#d8d8d8" stroke-width="0.22">11.38</text>
<text transform="translate(789.6 350.8) scale(0.85 1)" x="0" y="0" font-size="5.4" fill="#d8d8d8" text-anchor="start" stroke="#d8d8d8" stroke-width="0.22">10.58</text>
<text transform="translate(789.6 355.8) scale(0.85 1)" x="0" y="0" font-size="5.4" fill="#d8d8d8" text-anchor="start" stroke="#d8d8d8" stroke-width="0.22">10.28</text>
<text transform="translate(789.6 376.5) scale(0.85 1)" x="0" y="0" font-size="5.4" fill="#d8d8d8" text-anchor="start" stroke="#d8d8d8" stroke-width="0.22">8.56</text>
<text transform="translate(789.6 397.5) scale(0.85 1)" x="0" y="0" font-size="5.4" fill="#d8d8d8" text-anchor="start" stroke="#d8d8d8" stroke-width="0.22">6.78</text>
<path d="M795.6 228.2h4l-2 3.5z" fill="none" stroke="#d8d8d8" stroke-width="0.6"/>
<text transform="translate(802.6 232.0) scale(0.85 1)" x="0" y="0" font-size="5.4" fill="#d8d8d8" text-anchor="start" stroke="#d8d8d8" stroke-width="0.22">23.10</text>
<line x1="793.6" y1="232.8" x2="817.6" y2="232.8" stroke="#d8d8d8" stroke-width="0.6"/>
<line x1="794.6" y1="235.7" x2="801.6" y2="235.7" stroke="#bbbbbb" stroke-width="0.6"/>
<path d="M795.6 382.5h4l-2 3.5z" fill="none" stroke="#d8d8d8" stroke-width="0.6"/>
<text transform="translate(802.6 386.3) scale(0.85 1)" x="0" y="0" font-size="5.4" fill="#d8d8d8" text-anchor="start" stroke="#d8d8d8" stroke-width="0.22">7.48</text>
<line x1="793.6" y1="387.1" x2="817.6" y2="387.1" stroke="#d8d8d8" stroke-width="0.6"/>
<line x1="794.6" y1="390.0" x2="801.6" y2="390.0" stroke="#bbbbbb" stroke-width="0.6"/>
<line x1="830.0" y1="168.8" x2="888.5" y2="168.8" stroke="#f4f4f4" stroke-width="2.0"/>
<line x1="1009.0" y1="168.8" x2="1067.0" y2="168.8" stroke="#f4f4f4" stroke-width="2.0"/>
<polyline points="845.0,170.0 852.0,176.5 858.0,170.0" stroke="#c8c8c8" stroke-width="0.6" fill="none"/>
<polyline points="856.0,170.0 863.0,176.5 869.0,170.0 876.0,176.5" stroke="#c8c8c8" stroke-width="0.6" fill="none"/>
<polyline points="1023.0,170.0 1030.0,176.5 1036.0,170.0" stroke="#c8c8c8" stroke-width="0.6" fill="none"/>
<polyline points="1034.0,170.0 1041.0,176.5 1047.0,170.0 1054.0,176.5" stroke="#c8c8c8" stroke-width="0.6" fill="none"/>
<text transform="translate(845.0 162.0) scale(0.85 1)" x="0" y="0" font-size="5.4" fill="#e8e8e8" text-anchor="start" stroke="#e8e8e8" stroke-width="0.22">25.36</text>
<line x1="844.0" y1="164.0" x2="859.0" y2="164.0" stroke="#e8e8e8" stroke-width="0.6"/>
<path d="M848 164.5l2 3l2 -3" stroke="#e8e8e8" stroke-width="0.6" fill="none"/>
<line x1="840.0" y1="169.0" x2="840.0" y2="432.0" stroke="#e8e8e8" stroke-width="0.9"/>
<line x1="857.5" y1="169.0" x2="857.5" y2="432.0" stroke="#e8e8e8" stroke-width="0.9"/>
<line x1="874.5" y1="169.0" x2="874.5" y2="315.0" stroke="#e8e8e8" stroke-width="0.9"/>
<line x1="839.0" y1="432.0" x2="880.0" y2="432.0" stroke="#e8e8e8" stroke-width="0.9"/>
<line x1="853.0" y1="206.3" x2="872.0" y2="206.3" stroke="#e8e8e8" stroke-width="0.7"/>
<line x1="853.0" y1="268.0" x2="872.0" y2="268.0" stroke="#e8e8e8" stroke-width="0.7"/>
<line x1="855.9" y1="188.6" x2="859.1" y2="185.4" stroke="#e8e8e8" stroke-width="0.7"/>
<line x1="855.9" y1="207.9" x2="859.1" y2="204.7" stroke="#e8e8e8" stroke-width="0.7"/>
<line x1="855.9" y1="269.6" x2="859.1" y2="266.4" stroke="#e8e8e8" stroke-width="0.7"/>
<line x1="855.9" y1="316.6" x2="859.1" y2="313.4" stroke="#e8e8e8" stroke-width="0.7"/>
<line x1="855.9" y1="346.6" x2="859.1" y2="343.4" stroke="#e8e8e8" stroke-width="0.7"/>
<line x1="855.9" y1="359.1" x2="859.1" y2="355.9" stroke="#e8e8e8" stroke-width="0.7"/>
<line x1="855.9" y1="433.6" x2="859.1" y2="430.4" stroke="#e8e8e8" stroke-width="0.7"/>
<line x1="874.0" y1="315.0" x2="998.0" y2="315.0" stroke="#e8e8e8" stroke-width="0.7" stroke-dasharray="8 2 2 2"/>
<line x1="857.0" y1="345.0" x2="872.0" y2="345.0" stroke="#e8e8e8" stroke-width="0.7"/>
<line x1="857.0" y1="357.5" x2="880.0" y2="357.5" stroke="#e8e8e8" stroke-width="0.7"/>
<text transform="translate(877.0 365.0) scale(0.85 1)" x="0" y="0" font-size="5.4" fill="#e8e8e8" text-anchor="start" stroke="#e8e8e8" stroke-width="0.22">10.28</text>
<text transform="translate(855.0 187.0) rotate(-90) scale(0.85 1)" x="0" y="0" font-size="5.2" fill="#e8e8e8" stroke="#e8e8e8" stroke-width="0.2" text-anchor="middle">181</text>
<text transform="translate(855.0 237.0) rotate(-90) scale(0.85 1)" x="0" y="0" font-size="5.2" fill="#e8e8e8" stroke="#e8e8e8" stroke-width="0.2" text-anchor="middle">5848</text>
<text transform="translate(872.0 242.0) rotate(-90) scale(0.85 1)" x="0" y="0" font-size="5.2" fill="#e8e8e8" stroke="#e8e8e8" stroke-width="0.2" text-anchor="middle">12000</text>
<text transform="translate(838.0 297.0) rotate(-90) scale(0.85 1)" x="0" y="0" font-size="5.2" fill="#e8e8e8" stroke="#e8e8e8" stroke-width="0.2" text-anchor="middle">21850</text>
<text transform="translate(855.0 312.0) rotate(-90) scale(0.85 1)" x="0" y="0" font-size="5.2" fill="#e8e8e8" stroke="#e8e8e8" stroke-width="0.2" text-anchor="middle">7941</text>
<text transform="translate(855.0 390.0) rotate(-90) scale(0.85 1)" x="0" y="0" font-size="5.2" fill="#e8e8e8" stroke="#e8e8e8" stroke-width="0.2" text-anchor="middle">5500</text>
<text transform="translate(855.0 352.0) rotate(-90) scale(0.85 1)" x="0" y="0" font-size="5.2" fill="#e8e8e8" stroke="#e8e8e8" stroke-width="0.2" text-anchor="middle">150 900</text>
<rect x="888.5" y="181.2" width="11.0" height="11.6" stroke="#c8c800" stroke-width="1.1" fill="none"/>
<polyline points="888.5,181.2 888.5,166.8 889.7,166.0 891.1,166.3 891.7,172.0 892.5,181.2" stroke="#c8c800" stroke-width="1.1" fill="none"/>
<rect x="998.5" y="181.2" width="10.5" height="11.6" stroke="#c8c800" stroke-width="1.1" fill="none"/>
<polyline points="1009.0,181.2 1009.0,166.8 1007.8,166.0 1006.4,166.3 1005.8,172.0 1005.0,181.2" stroke="#c8c800" stroke-width="1.1" fill="none"/>
<text transform="translate(881.5 194.5) scale(0.85 1)" x="0" y="0" font-size="5.4" fill="#e8e8e8" text-anchor="start" stroke="#e8e8e8" stroke-width="0.22">22.98</text>
<line x1="899.5" y1="192.5" x2="899.5" y2="432.0" stroke="#19c8c8" stroke-width="1.1"/>
<line x1="998.0" y1="192.5" x2="998.0" y2="432.0" stroke="#19c8c8" stroke-width="1.1"/>
<polyline points="888.2,357.0 888.2,432.0 899.5,432.0" stroke="#19c8c8" stroke-width="1.1" fill="none"/>
<polyline points="1008.6,357.0 1008.6,432.0 998.0,432.0" stroke="#19c8c8" stroke-width="1.1" fill="none"/>
<rect x="883.0" y="197.0" width="10.8" height="160.0" fill="#f4f4f4"/>
<rect x="883.0" y="197.0" width="1.1" height="160.0" fill="#20c8c8"/>
<rect x="892.7" y="197.0" width="1.1" height="160.0" fill="#20c8c8"/>
<path fill="#000" d="M886.9 225.5h0.9v0.9h-0.9zM887.3 216.4h1.0v1.0h-1.0zM891.7 257.8h1.0v1.0h-1.0zM891.8 248.1h1.1v1.1h-1.1zM884.3 268.3h1.2v1.2h-1.2zM887.5 318.1h0.9v0.9h-0.9zM888.2 264.6h1.3v1.3h-1.3zM887.6 342.4h0.9v0.9h-0.9zM886.4 310.7h0.7v0.7h-0.7zM885.0 272.2h0.7v0.7h-0.7zM885.8 209.9h0.8v0.8h-0.8zM888.1 218.7h1.2v1.2h-1.2zM889.9 212.5h1.3v1.3h-1.3zM889.5 290.3h1.1v1.1h-1.1zM888.0 226.6h1.0v1.0h-1.0zM888.7 244.5h0.9v0.9h-0.9zM884.7 324.2h1.0v1.0h-1.0zM884.9 277.8h1.0v1.0h-1.0zM887.0 262.5h1.2v1.2h-1.2zM891.8 338.7h1.3v1.3h-1.3zM886.1 326.3h1.1v1.1h-1.1zM892.0 299.9h1.2v1.2h-1.2zM884.6 334.1h0.8v0.8h-0.8zM888.9 227.8h1.0v1.0h-1.0zM884.8 301.9h0.8v0.8h-0.8zM889.2 306.1h0.7v0.7h-0.7zM891.7 259.1h1.0v1.0h-1.0zM889.6 314.6h1.1v1.1h-1.1zM888.6 278.8h0.8v0.8h-0.8zM891.7 320.5h1.3v1.3h-1.3zM890.7 235.2h1.1v1.1h-1.1zM891.5 329.3h1.2v1.2h-1.2zM890.3 272.5h0.9v0.9h-0.9zM890.4 330.8h1.2v1.2h-1.2zM885.4 221.7h1.0v1.0h-1.0zM886.7 213.3h0.8v0.8h-0.8zM885.8 331.6h0.9v0.9h-0.9zM887.5 257.3h0.7v0.7h-0.7zM887.0 197.1h1.3v1.3h-1.3zM886.0 200.9h0.8v0.8h-0.8zM888.7 277.0h0.8v0.8h-0.8zM891.8 256.1h1.3v1.3h-1.3zM885.0 331.7h0.7v0.7h-0.7zM890.5 307.4h1.0v1.0h-1.0zM885.2 282.7h0.9v0.9h-0.9zM885.5 309.5h1.0v1.0h-1.0zM889.0 292.2h1.3v1.3h-1.3zM888.5 248.8h1.3v1.3h-1.3zM884.8 249.9h1.1v1.1h-1.1zM889.2 302.2h1.3v1.3h-1.3zM887.6 270.3h1.2v1.2h-1.2zM884.9 295.4h1.2v1.2h-1.2zM887.9 250.1h1.3v1.3h-1.3zM887.6 322.9h1.1v1.1h-1.1zM891.8 224.7h0.7v0.7h-0.7zM884.1 273.3h0.9v0.9h-0.9zM887.3 331.9h1.2v1.2h-1.2zM885.9 245.4h1.0v1.0h-1.0zM889.2 277.3h0.9v0.9h-0.9zM884.8 205.8h1.0v1.0h-1.0zM889.6 350.4h1.2v1.2h-1.2zM888.6 199.0h0.9v0.9h-0.9zM889.0 207.4h1.0v1.0h-1.0zM887.9 261.2h0.8v0.8h-0.8zM890.4 292.0h0.8v0.8h-0.8zM891.0 302.6h0.9v0.9h-0.9zM890.6 339.1h0.8v0.8h-0.8zM887.0 244.0h1.2v1.2h-1.2zM886.7 283.2h1.3v1.3h-1.3zM887.7 284.7h1.1v1.1h-1.1zM889.0 272.9h1.1v1.1h-1.1zM889.6 347.4h0.7v0.7h-0.7zM889.2 324.1h0.8v0.8h-0.8zM885.8 308.9h1.0v1.0h-1.0zM886.6 290.2h1.3v1.3h-1.3zM891.6 236.3h1.0v1.0h-1.0zM886.8 324.6h0.8v0.8h-0.8zM890.2 345.6h0.7v0.7h-0.7zM887.9 345.7h0.8v0.8h-0.8zM886.6 221.7h0.8v0.8h-0.8zM889.6 289.2h0.8v0.8h-0.8zM888.1 219.7h1.2v1.2h-1.2zM885.7 346.2h1.2v1.2h-1.2zM890.1 319.8h1.1v1.1h-1.1zM891.9 249.1h1.2v1.2h-1.2zM886.5 305.5h1.1v1.1h-1.1zM888.5 240.8h0.9v0.9h-0.9zM885.1 333.5h1.2v1.2h-1.2zM889.6 303.9h0.8v0.8h-0.8zM890.1 245.6h0.8v0.8h-0.8zM890.2 271.1h1.2v1.2h-1.2zM884.9 252.4h1.2v1.2h-1.2zM884.6 316.6h0.8v0.8h-0.8zM884.7 236.2h1.1v1.1h-1.1zM887.3 268.4h0.7v0.7h-0.7zM885.9 322.2h1.1v1.1h-1.1zM888.3 308.1h0.8v0.8h-0.8zM886.3 241.8h1.1v1.1h-1.1zM886.6 241.8h1.2v1.2h-1.2zM887.8 257.3h1.3v1.3h-1.3zM887.6 287.0h1.2v1.2h-1.2zM886.1 213.4h1.0v1.0h-1.0zM885.3 265.7h1.3v1.3h-1.3zM887.1 330.3h1.2v1.2h-1.2zM885.0 298.1h1.1v1.1h-1.1zM889.3 245.9h1.0v1.0h-1.0zM887.6 271.3h1.2v1.2h-1.2zM891.4 298.7h1.2v1.2h-1.2zM891.9 201.0h1.2v1.2h-1.2zM887.0 328.6h0.8v0.8h-0.8zM887.7 262.3h0.8v0.8h-0.8zM889.8 211.1h1.3v1.3h-1.3zM887.0 262.9h1.0v1.0h-1.0zM884.6 279.4h1.0v1.0h-1.0zM891.9 262.7h0.9v0.9h-0.9zM885.4 346.1h1.1v1.1h-1.1zM887.4 236.7h0.9v0.9h-0.9zM887.6 352.5h1.0v1.0h-1.0zM884.4 222.3h0.9v0.9h-0.9zM891.1 234.5h1.2v1.2h-1.2zM889.3 306.4h0.9v0.9h-0.9zM890.6 244.9h0.7v0.7h-0.7zM889.2 232.6h0.7v0.7h-0.7zM884.3 314.0h1.1v1.1h-1.1zM887.6 234.0h0.8v0.8h-0.8zM890.5 269.0h1.1v1.1h-1.1zM890.5 291.6h1.1v1.1h-1.1zM888.5 227.3h1.3v1.3h-1.3zM888.3 298.4h0.8v0.8h-0.8zM885.8 330.9h0.7v0.7h-0.7zM890.9 321.3h1.1v1.1h-1.1zM885.9 308.8h0.9v0.9h-0.9zM886.8 317.8h1.0v1.0h-1.0zM891.0 201.7h1.0v1.0h-1.0zM890.2 247.0h0.8v0.8h-0.8zM886.1 302.7h1.2v1.2h-1.2zM887.5 313.4h1.1v1.1h-1.1zM888.3 291.9h1.1v1.1h-1.1zM886.5 251.5h0.8v0.8h-0.8zM889.8 288.7h0.8v0.8h-0.8zM886.0 278.8h0.9v0.9h-0.9zM891.5 242.0h1.1v1.1h-1.1zM888.5 237.5h1.3v1.3h-1.3zM884.1 249.4h0.9v0.9h-0.9zM887.4 339.6h0.7v0.7h-0.7zM886.5 199.2h1.2v1.2h-1.2zM885.4 236.7h1.0v1.0h-1.0zM886.4 280.5h1.2v1.2h-1.2zM886.7 342.8h1.2v1.2h-1.2zM887.8 249.3h0.8v0.8h-0.8zM888.9 212.7h1.3v1.3h-1.3zM884.3 308.3h0.8v0.8h-0.8zM890.7 252.7h1.0v1.0h-1.0zM885.5 296.5h1.0v1.0h-1.0zM885.5 309.9h0.7v0.7h-0.7zM884.9 220.6h1.0v1.0h-1.0zM890.4 212.3h1.1v1.1h-1.1zM885.0 231.5h1.2v1.2h-1.2zM891.5 250.7h0.9v0.9h-0.9zM886.8 350.5h1.2v1.2h-1.2zM888.4 346.5h0.8v0.8h-0.8zM891.7 213.3h1.2v1.2h-1.2zM886.5 305.7h0.9v0.9h-0.9zM884.3 345.2h0.9v0.9h-0.9zM887.8 326.0h0.9v0.9h-0.9zM884.2 274.7h0.7v0.7h-0.7zM889.4 264.5h1.3v1.3h-1.3zM891.7 210.1h1.1v1.1h-1.1zM888.8 199.5h1.3v1.3h-1.3zM892.0 314.5h0.8v0.8h-0.8zM887.3 347.3h0.7v0.7h-0.7zM884.5 355.4h0.8v0.8h-0.8zM890.7 313.2h0.7v0.7h-0.7zM887.9 275.0h0.8v0.8h-0.8zM890.4 217.9h1.2v1.2h-1.2zM886.1 235.0h1.0v1.0h-1.0zM888.6 338.3h1.0v1.0h-1.0zM891.9 231.2h0.7v0.7h-0.7zM891.4 273.9h1.2v1.2h-1.2zM889.8 317.5h0.9v0.9h-0.9zM885.6 285.1h1.1v1.1h-1.1zM885.3 251.6h1.2v1.2h-1.2zM889.8 315.4h1.1v1.1h-1.1zM888.1 286.3h1.3v1.3h-1.3zM889.2 290.5h1.0v1.0h-1.0zM888.6 217.5h1.0v1.0h-1.0zM887.5 286.1h0.9v0.9h-0.9zM884.1 311.6h0.9v0.9h-0.9zM891.0 346.1h0.9v0.9h-0.9zM886.6 206.3h1.2v1.2h-1.2zM885.9 237.5h1.1v1.1h-1.1zM887.8 258.5h0.8v0.8h-0.8zM890.9 333.2h0.8v0.8h-0.8zM891.9 310.6h1.0v1.0h-1.0zM884.5 313.2h0.7v0.7h-0.7zM889.3 272.2h1.2v1.2h-1.2zM888.9 212.8h1.1v1.1h-1.1zM885.8 251.4h1.0v1.0h-1.0zM887.5 326.2h0.8v0.8h-0.8zM886.6 347.0h1.3v1.3h-1.3zM888.8 214.6h0.9v0.9h-0.9zM888.5 224.2h0.9v0.9h-0.9zM891.2 278.8h0.9v0.9h-0.9zM886.2 321.2h0.8v0.8h-0.8zM887.5 341.2h0.8v0.8h-0.8zM885.1 230.9h0.9v0.9h-0.9zM890.1 261.1h1.0v1.0h-1.0zM890.2 340.4h1.0v1.0h-1.0zM886.0 352.3h1.0v1.0h-1.0zM887.1 240.1h0.8v0.8h-0.8zM886.9 307.9h1.0v1.0h-1.0zM885.7 225.1h0.9v0.9h-0.9zM888.3 197.4h1.1v1.1h-1.1zM884.6 238.3h0.8v0.8h-0.8zM888.4 248.9h0.8v0.8h-0.8zM886.2 252.0h1.2v1.2h-1.2zM884.4 223.1h0.9v0.9h-0.9zM890.6 290.0h1.0v1.0h-1.0zM889.2 253.6h1.2v1.2h-1.2zM884.8 228.6h1.2v1.2h-1.2zM889.1 305.3h0.9v0.9h-0.9zM884.7 353.4h0.7v0.7h-0.7zM886.8 226.6h1.0v1.0h-1.0zM886.0 223.1h1.1v1.1h-1.1zM885.4 235.4h1.0v1.0h-1.0zM888.4 312.4h1.2v1.2h-1.2zM884.3 328.9h0.7v0.7h-0.7zM889.5 323.1h0.9v0.9h-0.9zM889.3 247.7h0.8v0.8h-0.8zM887.2 217.2h0.9v0.9h-0.9zM886.6 345.2h1.2v1.2h-1.2zM890.1 282.1h1.2v1.2h-1.2zM884.9 237.6h0.8v0.8h-0.8zM889.6 323.3h1.2v1.2h-1.2zM886.5 220.1h1.2v1.2h-1.2zM887.0 251.5h0.8v0.8h-0.8zM887.7 326.0h0.9v0.9h-0.9zM888.1 315.4h1.2v1.2h-1.2zM889.5 261.1h1.2v1.2h-1.2zM888.4 254.6h0.9v0.9h-0.9zM890.4 245.5h0.8v0.8h-0.8zM891.7 203.2h1.2v1.2h-1.2zM888.4 282.7h0.9v0.9h-0.9zM889.4 298.8h1.2v1.2h-1.2zM891.4 205.2h0.7v0.7h-0.7zM890.2 221.2h1.0v1.0h-1.0zM885.3 280.8h1.2v1.2h-1.2zM887.2 273.1h0.9v0.9h-0.9zM890.3 305.0h0.9v0.9h-0.9zM887.9 323.8h0.9v0.9h-0.9zM889.5 268.6h1.0v1.0h-1.0zM888.2 349.5h0.7v0.7h-0.7zM889.7 274.7h1.2v1.2h-1.2zM886.7 310.4h1.2v1.2h-1.2zM884.6 287.5h0.9v0.9h-0.9zM887.6 209.4h1.2v1.2h-1.2zM888.5 267.6h0.9v0.9h-0.9zM886.8 351.9h1.3v1.3h-1.3zM890.6 209.0h0.8v0.8h-0.8zM885.0 264.1h1.3v1.3h-1.3zM886.2 206.0h1.0v1.0h-1.0zM889.4 286.1h1.1v1.1h-1.1zM889.9 306.4h1.1v1.1h-1.1zM887.7 242.4h0.7v0.7h-0.7zM888.9 226.6h1.2v1.2h-1.2zM890.8 326.6h1.0v1.0h-1.0zM884.1 253.1h0.9v0.9h-0.9zM884.9 331.0h0.9v0.9h-0.9zM886.6 245.5h0.8v0.8h-0.8zM888.7 328.1h0.7v0.7h-0.7zM887.0 355.6h1.0v1.0h-1.0zM886.0 201.1h1.3v1.3h-1.3zM888.5 254.3h1.0v1.0h-1.0zM891.6 336.3h0.9v0.9h-0.9zM884.1 263.1h1.3v1.3h-1.3zM886.9 289.4h0.8v0.8h-0.8zM892.0 324.0h1.0v1.0h-1.0zM891.8 344.1h1.0v1.0h-1.0zM888.1 352.8h1.1v1.1h-1.1zM890.7 261.9h1.0v1.0h-1.0zM885.6 333.4h0.7v0.7h-0.7zM888.6 220.2h1.3v1.3h-1.3zM885.5 262.4h1.1v1.1h-1.1zM886.0 325.2h1.2v1.2h-1.2zM885.4 197.8h1.2v1.2h-1.2zM886.9 199.9h1.0v1.0h-1.0zM889.6 214.1h0.8v0.8h-0.8zM891.9 248.5h0.9v0.9h-0.9zM885.3 260.9h1.1v1.1h-1.1zM890.4 226.3h0.8v0.8h-0.8zM887.6 342.8h0.8v0.8h-0.8zM889.4 255.8h0.8v0.8h-0.8zM890.1 272.1h1.0v1.0h-1.0zM888.9 264.2h0.8v0.8h-0.8zM888.4 339.4h1.3v1.3h-1.3zM886.6 232.4h1.1v1.1h-1.1zM886.0 306.6h1.3v1.3h-1.3zM891.5 266.3h1.1v1.1h-1.1zM886.4 272.7h1.1v1.1h-1.1zM884.3 265.5h0.7v0.7h-0.7zM889.1 229.1h1.2v1.2h-1.2zM891.7 253.8h1.1v1.1h-1.1zM886.1 320.8h0.7v0.7h-0.7zM890.2 259.0h1.0v1.0h-1.0zM887.5 354.3h1.3v1.3h-1.3zM890.6 303.9h1.1v1.1h-1.1zM886.7 252.4h0.7v0.7h-0.7zM891.2 326.4h0.7v0.7h-0.7zM884.9 312.3h1.2v1.2h-1.2zM890.7 328.7h1.0v1.0h-1.0zM891.9 262.9h1.2v1.2h-1.2zM888.6 353.7h1.2v1.2h-1.2zM891.7 210.0h1.2v1.2h-1.2zM887.5 217.3h1.3v1.3h-1.3zM889.6 279.6h1.2v1.2h-1.2zM887.3 315.2h1.1v1.1h-1.1zM886.5 331.7h1.1v1.1h-1.1zM886.5 216.6h0.7v0.7h-0.7zM889.9 294.8h0.8v0.8h-0.8zM890.6 295.3h0.8v0.8h-0.8zM887.2 239.7h0.8v0.8h-0.8zM889.1 345.1h0.8v0.8h-0.8zM888.1 206.4h0.9v0.9h-0.9zM887.9 341.4h1.0v1.0h-1.0zM888.0 198.0h0.9v0.9h-0.9zM885.6 197.4h0.9v0.9h-0.9zM886.6 262.8h0.9v0.9h-0.9zM884.2 330.0h1.1v1.1h-1.1zM884.0 234.0h1.2v1.2h-1.2zM888.0 286.1h0.8v0.8h-0.8zM888.9 304.0h1.1v1.1h-1.1zM887.0 207.9h0.7v0.7h-0.7zM890.9 340.7h0.7v0.7h-0.7zM885.4 252.0h0.8v0.8h-0.8zM890.6 329.2h0.9v0.9h-0.9zM886.1 288.2h1.1v1.1h-1.1zM887.1 212.9h1.2v1.2h-1.2zM885.1 241.1h1.1v1.1h-1.1zM888.2 332.5h1.2v1.2h-1.2zM888.3 223.9h0.8v0.8h-0.8zM884.6 252.6h1.2v1.2h-1.2zM884.7 231.8h1.1v1.1h-1.1zM884.2 211.9h1.0v1.0h-1.0zM884.6 319.7h0.8v0.8h-0.8zM888.2 251.0h1.3v1.3h-1.3zM887.4 282.8h1.2v1.2h-1.2zM890.2 282.5h1.1v1.1h-1.1zM891.7 351.1h1.2v1.2h-1.2zM888.5 266.8h0.8v0.8h-0.8zM885.8 309.7h1.0v1.0h-1.0zM889.7 312.1h1.3v1.3h-1.3zM890.4 238.9h1.1v1.1h-1.1zM887.9 208.2h0.8v0.8h-0.8zM886.8 276.4h1.0v1.0h-1.0zM885.1 199.9h1.0v1.0h-1.0zM886.3 252.9h0.9v0.9h-0.9zM885.6 255.6h0.9v0.9h-0.9zM891.7 266.7h1.0v1.0h-1.0zM889.1 291.4h1.2v1.2h-1.2zM884.3 349.1h1.0v1.0h-1.0zM884.5 315.3h0.9v0.9h-0.9zM886.3 342.8h0.9v0.9h-0.9zM891.2 232.4h0.9v0.9h-0.9zM891.8 215.4h0.8v0.8h-0.8zM884.6 262.8h1.2v1.2h-1.2zM890.3 215.6h1.2v1.2h-1.2zM890.5 271.9h1.2v1.2h-1.2zM885.3 335.9h1.0v1.0h-1.0zM886.1 343.4h1.1v1.1h-1.1zM888.9 333.7h1.3v1.3h-1.3zM884.4 335.4h0.8v0.8h-0.8zM885.1 278.3h1.0v1.0h-1.0zM887.8 219.4h1.1v1.1h-1.1zM886.5 329.4h1.3v1.3h-1.3zM891.9 207.9h0.9v0.9h-0.9zM888.0 350.6h1.2v1.2h-1.2zM884.8 269.5h1.0v1.0h-1.0zM888.9 212.1h1.2v1.2h-1.2zM891.4 232.5h1.2v1.2h-1.2zM884.4 210.7h0.7v0.7h-0.7zM888.1 282.7h0.8v0.8h-0.8zM887.6 249.0h1.2v1.2h-1.2zM885.0 213.9h0.7v0.7h-0.7zM889.1 350.8h1.3v1.3h-1.3zM885.0 322.8h1.2v1.2h-1.2zM892.0 292.1h0.8v0.8h-0.8zM885.0 293.9h1.1v1.1h-1.1zM884.1 198.6h1.3v1.3h-1.3zM886.1 334.6h0.8v0.8h-0.8zM888.9 294.5h1.2v1.2h-1.2zM884.9 236.8h1.2v1.2h-1.2zM886.9 350.1h1.0v1.0h-1.0zM888.5 332.8h0.9v0.9h-0.9zM888.6 353.8h1.1v1.1h-1.1zM888.7 248.0h1.0v1.0h-1.0zM884.2 277.6h0.9v0.9h-0.9zM890.6 271.2h1.1v1.1h-1.1zM886.0 278.0h1.0v1.0h-1.0zM890.1 276.3h0.9v0.9h-0.9zM890.7 340.2h1.3v1.3h-1.3zM884.6 297.3h0.7v0.7h-0.7zM889.4 250.5h1.0v1.0h-1.0zM885.3 255.0h1.2v1.2h-1.2zM888.7 213.4h0.8v0.8h-0.8zM884.3 298.6h1.0v1.0h-1.0zM888.4 342.8h1.0v1.0h-1.0zM886.3 270.7h1.3v1.3h-1.3zM884.0 253.2h0.8v0.8h-0.8zM888.1 272.5h1.3v1.3h-1.3zM884.7 201.9h1.1v1.1h-1.1zM889.2 276.5h0.7v0.7h-0.7zM891.2 283.5h0.8v0.8h-0.8zM891.4 334.4h1.1v1.1h-1.1zM884.7 270.6h1.2v1.2h-1.2zM884.5 285.5h1.3v1.3h-1.3zM891.0 213.7h1.0v1.0h-1.0zM889.3 299.6h1.2v1.2h-1.2zM884.6 335.0h1.0v1.0h-1.0zM887.9 209.9h1.1v1.1h-1.1zM891.9 282.6h1.2v1.2h-1.2zM886.6 302.2h1.1v1.1h-1.1zM886.2 263.8h1.1v1.1h-1.1zM886.2 351.3h0.9v0.9h-0.9zM886.4 210.6h1.0v1.0h-1.0zM890.2 204.6h1.1v1.1h-1.1zM887.9 302.6h1.0v1.0h-1.0zM889.6 217.5h0.9v0.9h-0.9zM888.5 278.2h1.1v1.1h-1.1zM887.1 284.7h0.7v0.7h-0.7zM884.3 355.1h1.2v1.2h-1.2zM885.3 332.8h0.9v0.9h-0.9zM889.2 293.1h1.1v1.1h-1.1zM890.7 283.2h1.2v1.2h-1.2zM891.0 305.9h1.0v1.0h-1.0zM891.0 208.1h0.9v0.9h-0.9zM888.3 276.0h0.9v0.9h-0.9zM889.4 251.1h1.3v1.3h-1.3zM886.9 208.8h1.0v1.0h-1.0zM890.1 254.8h0.9v0.9h-0.9zM891.6 299.6h0.9v0.9h-0.9zM888.9 280.7h1.2v1.2h-1.2zM886.6 198.4h1.2v1.2h-1.2zM889.2 208.8h0.7v0.7h-0.7zM886.9 272.1h1.3v1.3h-1.3zM889.1 206.8h1.0v1.0h-1.0zM885.3 317.7h1.3v1.3h-1.3zM890.3 347.4h1.1v1.1h-1.1zM890.6 325.0h1.1v1.1h-1.1zM885.4 250.7h0.9v0.9h-0.9zM884.5 249.0h0.7v0.7h-0.7zM886.9 258.7h1.2v1.2h-1.2zM889.0 266.9h1.0v1.0h-1.0zM886.2 280.4h1.0v1.0h-1.0zM885.2 277.5h1.2v1.2h-1.2zM884.5 345.5h0.8v0.8h-0.8zM884.4 300.2h0.8v0.8h-0.8zM887.4 317.0h1.0v1.0h-1.0zM887.2 279.7h0.9v0.9h-0.9zM885.5 218.1h1.0v1.0h-1.0zM889.8 203.3h1.1v1.1h-1.1zM891.4 244.7h1.0v1.0h-1.0zM888.3 241.6h1.1v1.1h-1.1zM889.7 243.3h1.0v1.0h-1.0zM884.9 220.3h0.8v0.8h-0.8zM889.3 251.1h1.2v1.2h-1.2zM886.0 226.0h0.8v0.8h-0.8zM888.6 236.9h1.2v1.2h-1.2zM887.4 293.5h1.1v1.1h-1.1zM884.7 254.9h1.3v1.3h-1.3zM889.1 211.0h1.2v1.2h-1.2zM887.0 256.1h1.0v1.0h-1.0zM885.7 217.4h1.1v1.1h-1.1zM891.6 349.8h1.2v1.2h-1.2zM890.7 200.9h0.8v0.8h-0.8zM891.0 294.8h1.1v1.1h-1.1zM887.4 220.1h1.0v1.0h-1.0zM885.0 335.2h1.0v1.0h-1.0zM886.4 288.6h0.9v0.9h-0.9zM885.7 299.9h1.0v1.0h-1.0zM884.6 274.3h1.0v1.0h-1.0zM885.6 226.4h0.9v0.9h-0.9zM889.7 275.9h0.8v0.8h-0.8zM891.5 259.1h1.0v1.0h-1.0zM888.0 203.9h1.2v1.2h-1.2zM886.8 242.2h0.8v0.8h-0.8zM890.7 257.1h1.1v1.1h-1.1zM885.6 202.3h1.1v1.1h-1.1zM888.5 199.7h0.7v0.7h-0.7zM889.2 294.3h1.3v1.3h-1.3zM888.2 199.1h1.3v1.3h-1.3zM890.9 203.7h1.2v1.2h-1.2zM885.7 261.5h0.7v0.7h-0.7zM885.8 308.4h0.8v0.8h-0.8zM888.9 310.0h1.3v1.3h-1.3zM889.5 260.1h1.2v1.2h-1.2zM890.1 292.3h0.9v0.9h-0.9zM891.8 347.8h0.9v0.9h-0.9zM889.4 330.4h1.2v1.2h-1.2zM887.2 323.3h1.1v1.1h-1.1zM891.0 202.1h0.7v0.7h-0.7zM884.8 330.7h0.8v0.8h-0.8zM885.8 218.3h1.2v1.2h-1.2zM887.3 291.7h1.0v1.0h-1.0zM888.1 282.7h1.0v1.0h-1.0zM889.5 214.7h1.1v1.1h-1.1zM884.7 282.6h1.2v1.2h-1.2zM885.5 316.0h1.2v1.2h-1.2zM890.9 226.6h0.9v0.9h-0.9zM889.8 268.3h0.9v0.9h-0.9zM887.1 263.6h0.8v0.8h-0.8zM889.6 254.4h1.1v1.1h-1.1zM884.1 349.8h0.9v0.9h-0.9zM891.7 229.8h0.7v0.7h-0.7zM886.2 278.2h0.8v0.8h-0.8zM891.2 267.6h0.8v0.8h-0.8zM888.4 246.1h1.1v1.1h-1.1zM891.3 293.4h0.8v0.8h-0.8zM889.6 325.7h0.7v0.7h-0.7zM886.3 271.2h1.2v1.2h-1.2zM890.0 318.5h0.9v0.9h-0.9zM887.0 272.3h1.0v1.0h-1.0zM885.3 330.1h0.8v0.8h-0.8zM890.8 353.5h0.9v0.9h-0.9zM885.0 253.8h0.8v0.8h-0.8zM886.8 314.3h1.0v1.0h-1.0zM890.7 224.2h1.3v1.3h-1.3zM888.5 280.7h0.8v0.8h-0.8zM885.8 228.1h1.1v1.1h-1.1zM890.8 277.6h1.1v1.1h-1.1zM889.6 261.5h1.1v1.1h-1.1zM889.1 283.6h1.1v1.1h-1.1zM888.1 238.2h1.1v1.1h-1.1zM885.6 233.8h1.2v1.2h-1.2zM891.0 313.8h0.9v0.9h-0.9zM888.2 275.6h1.1v1.1h-1.1zM891.3 295.9h0.7v0.7h-0.7zM891.1 245.3h1.1v1.1h-1.1zM891.1 208.2h1.2v1.2h-1.2zM890.4 306.0h1.0v1.0h-1.0zM890.4 354.9h1.3v1.3h-1.3zM889.9 303.5h0.9v0.9h-0.9zM888.1 231.3h0.9v0.9h-0.9zM890.8 307.7h1.1v1.1h-1.1zM888.6 302.8h0.7v0.7h-0.7zM886.0 327.9h0.7v0.7h-0.7zM890.4 334.9h0.9v0.9h-0.9zM887.0 268.5h1.3v1.3h-1.3zM889.4 214.5h0.7v0.7h-0.7zM884.8 327.8h0.8v0.8h-0.8zM889.4 227.5h1.1v1.1h-1.1zM888.2 209.1h1.2v1.2h-1.2zM890.0 323.2h0.9v0.9h-0.9zM891.9 295.0h0.9v0.9h-0.9zM886.1 348.7h0.9v0.9h-0.9zM886.5 300.5h1.2v1.2h-1.2zM885.5 354.3h1.1v1.1h-1.1zM890.8 214.0h1.1v1.1h-1.1zM890.2 303.9h0.7v0.7h-0.7zM886.2 293.5h0.9v0.9h-0.9zM888.3 290.4h1.2v1.2h-1.2zM886.2 226.3h0.8v0.8h-0.8zM891.4 217.0h0.9v0.9h-0.9zM890.9 352.4h1.3v1.3h-1.3zM886.0 272.1h1.1v1.1h-1.1zM890.4 331.0h1.1v1.1h-1.1zM890.6 209.9h0.7v0.7h-0.7zM884.8 299.6h0.8v0.8h-0.8zM889.4 233.8h1.0v1.0h-1.0zM891.0 297.1h1.1v1.1h-1.1zM884.5 337.7h1.2v1.2h-1.2zM888.7 275.2h1.2v1.2h-1.2zM888.2 335.2h1.1v1.1h-1.1zM888.1 289.6h1.0v1.0h-1.0zM888.1 306.3h1.2v1.2h-1.2zM890.3 305.0h0.8v0.8h-0.8zM886.5 253.2h1.0v1.0h-1.0zM892.0 313.6h0.9v0.9h-0.9zM891.4 222.3h1.1v1.1h-1.1zM887.0 336.3h1.2v1.2h-1.2zM885.2 325.1h0.9v0.9h-0.9zM887.7 312.6h1.2v1.2h-1.2zM885.6 251.0h0.8v0.8h-0.8zM885.1 300.7h0.9v0.9h-0.9zM889.5 249.1h0.7v0.7h-0.7zM890.0 336.5h0.9v0.9h-0.9zM889.6 220.2h1.3v1.3h-1.3zM888.4 205.2h0.9v0.9h-0.9zM891.8 315.7h1.2v1.2h-1.2zM885.4 235.3h0.7v0.7h-0.7zM884.6 226.9h0.8v0.8h-0.8zM890.3 242.4h1.3v1.3h-1.3zM890.3 283.4h1.2v1.2h-1.2zM884.3 212.7h1.1v1.1h-1.1zM890.1 228.6h0.9v0.9h-0.9zM890.8 308.7h0.8v0.8h-0.8zM884.3 271.1h0.9v0.9h-0.9zM889.1 307.3h0.7v0.7h-0.7zM891.2 254.4h1.0v1.0h-1.0zM891.4 300.2h1.0v1.0h-1.0zM887.9 202.2h1.0v1.0h-1.0zM886.7 259.6h0.8v0.8h-0.8zM890.0 337.6h1.0v1.0h-1.0zM885.0 278.9h1.1v1.1h-1.1zM887.1 223.7h1.3v1.3h-1.3zM889.2 251.9h0.8v0.8h-0.8zM887.2 338.3h1.1v1.1h-1.1zM888.6 316.6h0.8v0.8h-0.8zM889.6 312.3h1.1v1.1h-1.1zM887.9 319.0h1.1v1.1h-1.1zM884.7 320.1h0.7v0.7h-0.7zM888.3 208.8h1.0v1.0h-1.0zM890.9 209.2h1.0v1.0h-1.0zM884.9 338.7h1.3v1.3h-1.3zM885.7 220.1h0.8v0.8h-0.8zM889.7 345.8h1.0v1.0h-1.0zM887.4 301.4h0.7v0.7h-0.7z"/>
<path fill="#30c0c0" d="M887.1 316.9h0.9v0.9h-0.9zM885.9 286.1h0.9v0.9h-0.9zM889.7 207.0h1.3v1.3h-1.3zM886.0 235.3h1.2v1.2h-1.2zM888.8 334.1h0.8v0.8h-0.8zM886.4 239.5h0.9v0.9h-0.9zM889.5 338.7h0.8v0.8h-0.8zM892.0 229.2h0.9v0.9h-0.9zM891.0 353.7h1.2v1.2h-1.2zM891.3 286.9h1.3v1.3h-1.3zM891.0 206.5h1.2v1.2h-1.2zM887.2 284.0h1.3v1.3h-1.3zM884.0 334.7h1.2v1.2h-1.2zM891.4 272.9h1.3v1.3h-1.3zM891.6 297.6h0.9v0.9h-0.9zM888.3 281.6h0.7v0.7h-0.7zM891.9 257.1h1.3v1.3h-1.3zM888.4 317.0h1.0v1.0h-1.0zM890.2 231.6h1.0v1.0h-1.0zM884.9 316.3h0.8v0.8h-0.8zM885.7 215.5h0.9v0.9h-0.9zM890.2 316.0h1.1v1.1h-1.1zM888.8 326.4h0.9v0.9h-0.9zM891.4 240.0h0.7v0.7h-0.7zM891.2 302.6h1.0v1.0h-1.0zM886.5 216.7h1.0v1.0h-1.0zM891.8 215.8h0.8v0.8h-0.8zM887.4 256.0h1.3v1.3h-1.3zM888.7 255.3h0.8v0.8h-0.8zM886.0 344.5h1.1v1.1h-1.1zM889.1 251.4h0.7v0.7h-0.7zM889.6 337.5h1.1v1.1h-1.1zM891.9 316.6h0.9v0.9h-0.9zM891.9 237.7h1.2v1.2h-1.2zM888.1 225.5h1.2v1.2h-1.2zM885.1 292.6h1.2v1.2h-1.2zM886.4 332.2h1.1v1.1h-1.1zM888.4 261.1h1.2v1.2h-1.2zM886.6 261.7h1.0v1.0h-1.0zM884.7 343.1h0.8v0.8h-0.8zM892.0 300.0h0.7v0.7h-0.7zM891.7 232.2h0.8v0.8h-0.8zM886.2 314.1h1.3v1.3h-1.3zM889.9 353.2h1.3v1.3h-1.3zM889.2 212.1h1.3v1.3h-1.3zM889.6 252.3h0.8v0.8h-0.8zM884.0 211.7h1.1v1.1h-1.1zM888.7 352.7h0.8v0.8h-0.8zM885.6 251.9h1.3v1.3h-1.3zM891.4 303.3h0.7v0.7h-0.7zM886.6 337.1h1.0v1.0h-1.0zM886.4 293.8h1.2v1.2h-1.2zM889.9 308.2h0.8v0.8h-0.8zM886.1 343.2h1.0v1.0h-1.0zM890.3 216.2h0.7v0.7h-0.7zM890.9 216.1h0.9v0.9h-0.9zM886.6 251.2h1.3v1.3h-1.3zM887.3 287.0h0.7v0.7h-0.7zM888.7 321.7h0.9v0.9h-0.9zM891.8 322.8h0.8v0.8h-0.8zM885.8 301.5h0.8v0.8h-0.8zM885.6 327.2h1.2v1.2h-1.2zM891.5 268.0h0.9v0.9h-0.9zM887.8 281.6h0.9v0.9h-0.9zM887.9 323.4h0.7v0.7h-0.7zM886.1 220.9h1.0v1.0h-1.0zM885.2 273.3h1.0v1.0h-1.0zM886.1 315.1h1.2v1.2h-1.2zM885.5 241.4h1.3v1.3h-1.3zM891.8 253.3h1.1v1.1h-1.1zM891.2 286.3h1.1v1.1h-1.1zM884.9 232.3h1.1v1.1h-1.1zM890.7 292.6h0.7v0.7h-0.7zM885.2 334.5h1.1v1.1h-1.1zM886.7 220.7h1.0v1.0h-1.0zM885.3 273.9h1.1v1.1h-1.1zM886.0 262.2h0.9v0.9h-0.9zM891.8 240.9h1.0v1.0h-1.0zM884.4 331.2h1.2v1.2h-1.2zM890.3 243.2h1.3v1.3h-1.3zM889.7 300.6h1.0v1.0h-1.0zM885.9 297.7h0.7v0.7h-0.7zM890.1 283.2h0.9v0.9h-0.9zM885.2 332.2h1.0v1.0h-1.0zM884.9 279.6h1.1v1.1h-1.1zM884.3 348.7h0.8v0.8h-0.8zM890.1 222.6h1.2v1.2h-1.2zM890.1 288.0h1.2v1.2h-1.2zM885.1 244.7h1.2v1.2h-1.2zM887.8 272.7h1.1v1.1h-1.1zM884.1 345.1h1.1v1.1h-1.1zM891.8 229.7h1.0v1.0h-1.0zM888.6 306.7h0.9v0.9h-0.9zM886.6 314.5h1.0v1.0h-1.0zM885.9 272.4h0.7v0.7h-0.7zM887.6 218.3h1.2v1.2h-1.2zM884.5 236.6h1.0v1.0h-1.0zM885.0 249.4h0.8v0.8h-0.8zM884.8 324.0h1.2v1.2h-1.2zM885.8 342.3h1.2v1.2h-1.2zM886.2 279.0h0.8v0.8h-0.8zM890.1 224.9h0.9v0.9h-0.9zM891.8 220.0h1.1v1.1h-1.1zM885.1 257.5h1.2v1.2h-1.2zM889.7 305.6h0.8v0.8h-0.8zM888.6 291.9h0.8v0.8h-0.8zM884.2 218.0h1.2v1.2h-1.2zM886.4 280.5h1.0v1.0h-1.0zM884.9 304.5h0.9v0.9h-0.9z"/>
<rect x="1003.8" y="197.0" width="10.2" height="160.0" fill="#f4f4f4"/>
<rect x="1003.8" y="197.0" width="1.1" height="160.0" fill="#20c8c8"/>
<rect x="1012.9" y="197.0" width="1.1" height="160.0" fill="#20c8c8"/>
<path fill="#000" d="M1006.1 208.9h1.0v1.0h-1.0zM1010.6 214.8h1.0v1.0h-1.0zM1012.0 309.3h1.1v1.1h-1.1zM1008.0 280.6h0.9v0.9h-0.9zM1005.5 263.8h1.3v1.3h-1.3zM1008.5 316.7h1.2v1.2h-1.2zM1007.6 310.0h0.8v0.8h-0.8zM1004.9 227.6h0.8v0.8h-0.8zM1011.8 347.7h1.1v1.1h-1.1zM1010.6 299.9h1.2v1.2h-1.2zM1005.4 280.1h1.1v1.1h-1.1zM1006.1 287.2h1.3v1.3h-1.3zM1010.9 349.6h1.1v1.1h-1.1zM1006.9 224.6h1.2v1.2h-1.2zM1011.3 286.4h1.2v1.2h-1.2zM1010.1 268.2h0.8v0.8h-0.8zM1007.1 328.6h0.7v0.7h-0.7zM1007.3 263.7h1.0v1.0h-1.0zM1012.2 253.7h1.3v1.3h-1.3zM1008.7 286.5h0.8v0.8h-0.8zM1008.4 318.0h1.3v1.3h-1.3zM1009.9 284.2h0.8v0.8h-0.8zM1005.3 225.7h1.3v1.3h-1.3zM1005.8 266.1h0.7v0.7h-0.7zM1006.5 231.5h1.1v1.1h-1.1zM1004.9 310.5h1.0v1.0h-1.0zM1007.9 198.8h0.9v0.9h-0.9zM1007.3 354.9h0.9v0.9h-0.9zM1010.8 323.2h1.0v1.0h-1.0zM1008.4 269.0h1.3v1.3h-1.3zM1007.8 275.8h0.8v0.8h-0.8zM1006.8 322.6h0.9v0.9h-0.9zM1004.9 234.8h0.9v0.9h-0.9zM1005.6 304.0h1.2v1.2h-1.2zM1010.8 205.0h1.0v1.0h-1.0zM1005.7 235.6h1.1v1.1h-1.1zM1005.8 242.4h0.7v0.7h-0.7zM1010.4 272.0h1.3v1.3h-1.3zM1006.3 237.4h0.8v0.8h-0.8zM1009.2 279.3h1.2v1.2h-1.2zM1008.4 219.2h1.1v1.1h-1.1zM1011.0 303.3h1.3v1.3h-1.3zM1009.2 351.7h1.2v1.2h-1.2zM1005.6 343.3h0.7v0.7h-0.7zM1011.7 302.1h1.3v1.3h-1.3zM1010.3 268.7h0.8v0.8h-0.8zM1006.8 238.7h1.2v1.2h-1.2zM1010.3 326.7h1.0v1.0h-1.0zM1008.0 253.8h1.2v1.2h-1.2zM1009.9 320.3h0.9v0.9h-0.9zM1010.1 248.0h1.2v1.2h-1.2zM1005.8 341.8h1.0v1.0h-1.0zM1007.6 280.9h1.0v1.0h-1.0zM1005.2 297.2h1.1v1.1h-1.1zM1004.9 285.0h1.0v1.0h-1.0zM1008.7 197.6h0.7v0.7h-0.7zM1011.4 208.0h1.1v1.1h-1.1zM1008.8 330.5h1.1v1.1h-1.1zM1009.8 342.3h0.8v0.8h-0.8zM1007.2 343.2h1.2v1.2h-1.2zM1010.4 259.1h1.0v1.0h-1.0zM1005.2 282.6h1.0v1.0h-1.0zM1007.3 293.3h1.1v1.1h-1.1zM1009.8 340.5h0.9v0.9h-0.9zM1008.4 330.2h0.9v0.9h-0.9zM1007.7 300.6h0.8v0.8h-0.8zM1007.7 287.8h0.8v0.8h-0.8zM1009.1 269.9h0.7v0.7h-0.7zM1007.3 300.2h0.8v0.8h-0.8zM1006.8 286.7h1.1v1.1h-1.1zM1010.4 295.9h0.8v0.8h-0.8zM1008.4 317.5h1.3v1.3h-1.3zM1010.9 267.8h1.0v1.0h-1.0zM1007.6 233.5h1.1v1.1h-1.1zM1005.2 240.0h1.3v1.3h-1.3zM1007.0 288.8h0.9v0.9h-0.9zM1012.1 217.5h0.8v0.8h-0.8zM1008.1 242.1h1.1v1.1h-1.1zM1005.3 201.2h0.8v0.8h-0.8zM1005.8 265.6h0.9v0.9h-0.9zM1012.0 352.2h1.0v1.0h-1.0zM1005.8 293.9h1.2v1.2h-1.2zM1005.8 223.4h1.2v1.2h-1.2zM1010.2 355.5h1.1v1.1h-1.1zM1007.2 325.9h1.3v1.3h-1.3zM1006.4 355.2h1.0v1.0h-1.0zM1007.1 312.1h1.3v1.3h-1.3zM1011.1 260.6h1.0v1.0h-1.0zM1012.0 316.9h1.1v1.1h-1.1zM1011.6 348.4h1.0v1.0h-1.0zM1007.5 321.5h1.1v1.1h-1.1zM1008.4 211.5h1.2v1.2h-1.2zM1008.3 286.2h1.2v1.2h-1.2zM1008.3 273.9h1.1v1.1h-1.1zM1007.3 320.3h0.9v0.9h-0.9zM1007.6 339.8h1.3v1.3h-1.3zM1007.6 252.8h1.0v1.0h-1.0zM1011.4 287.9h1.3v1.3h-1.3zM1011.1 336.3h1.1v1.1h-1.1zM1008.5 278.7h0.9v0.9h-0.9zM1008.2 352.7h1.1v1.1h-1.1zM1011.5 225.2h1.2v1.2h-1.2zM1009.2 286.4h1.1v1.1h-1.1zM1009.8 255.7h1.2v1.2h-1.2zM1011.4 280.4h1.1v1.1h-1.1zM1011.4 258.3h1.3v1.3h-1.3zM1010.2 329.1h0.9v0.9h-0.9zM1007.5 251.3h0.9v0.9h-0.9zM1005.2 354.1h1.2v1.2h-1.2zM1009.6 244.6h1.2v1.2h-1.2zM1007.6 276.3h0.8v0.8h-0.8zM1011.1 299.0h1.0v1.0h-1.0zM1006.2 197.6h0.9v0.9h-0.9zM1006.2 283.0h0.9v0.9h-0.9zM1010.3 254.3h1.1v1.1h-1.1zM1007.6 202.0h1.2v1.2h-1.2zM1009.1 305.9h1.0v1.0h-1.0zM1004.9 350.8h1.1v1.1h-1.1zM1009.4 262.5h1.0v1.0h-1.0zM1005.8 331.1h0.9v0.9h-0.9zM1005.1 213.9h0.9v0.9h-0.9zM1011.8 224.3h0.9v0.9h-0.9zM1009.5 253.2h1.1v1.1h-1.1zM1005.2 303.2h0.7v0.7h-0.7zM1005.4 252.9h1.2v1.2h-1.2zM1010.4 298.2h1.1v1.1h-1.1zM1009.7 275.9h0.9v0.9h-0.9zM1007.0 261.4h1.1v1.1h-1.1zM1007.3 265.8h0.9v0.9h-0.9zM1007.4 322.4h0.8v0.8h-0.8zM1008.4 226.8h1.1v1.1h-1.1zM1006.4 233.6h0.9v0.9h-0.9zM1011.4 335.8h1.2v1.2h-1.2zM1008.2 229.0h1.0v1.0h-1.0zM1005.5 259.6h0.8v0.8h-0.8zM1007.0 274.4h0.7v0.7h-0.7zM1008.6 324.2h1.1v1.1h-1.1zM1011.7 311.4h1.0v1.0h-1.0zM1005.5 305.9h1.0v1.0h-1.0zM1007.8 353.0h1.2v1.2h-1.2zM1008.8 290.2h1.0v1.0h-1.0zM1010.0 327.0h0.9v0.9h-0.9zM1008.8 289.7h0.7v0.7h-0.7zM1008.1 222.2h1.2v1.2h-1.2zM1010.3 314.5h1.1v1.1h-1.1zM1005.2 249.9h0.8v0.8h-0.8zM1006.4 201.5h0.8v0.8h-0.8zM1005.9 260.7h0.8v0.8h-0.8zM1006.0 313.7h1.2v1.2h-1.2zM1005.3 350.3h0.8v0.8h-0.8zM1010.4 273.7h1.2v1.2h-1.2zM1010.1 341.0h1.2v1.2h-1.2zM1008.0 278.3h1.2v1.2h-1.2zM1006.7 202.0h0.8v0.8h-0.8zM1011.7 246.1h0.9v0.9h-0.9zM1009.9 265.9h0.8v0.8h-0.8zM1007.0 347.6h1.0v1.0h-1.0zM1010.6 291.5h0.9v0.9h-0.9zM1008.0 353.2h1.0v1.0h-1.0zM1011.7 256.7h1.1v1.1h-1.1zM1009.6 200.7h1.1v1.1h-1.1zM1006.2 212.1h0.7v0.7h-0.7zM1005.6 331.6h0.9v0.9h-0.9zM1010.2 265.0h0.8v0.8h-0.8zM1009.3 333.8h1.2v1.2h-1.2zM1005.0 302.6h1.1v1.1h-1.1zM1010.7 326.0h1.1v1.1h-1.1zM1006.0 298.8h0.9v0.9h-0.9zM1006.9 274.2h1.0v1.0h-1.0zM1007.0 338.7h1.1v1.1h-1.1zM1011.8 337.3h1.1v1.1h-1.1zM1009.6 252.1h0.9v0.9h-0.9zM1011.0 315.7h1.0v1.0h-1.0zM1011.5 204.2h0.8v0.8h-0.8zM1006.3 316.7h1.1v1.1h-1.1zM1011.5 355.5h1.1v1.1h-1.1zM1010.7 272.1h1.2v1.2h-1.2zM1010.0 210.3h0.9v0.9h-0.9zM1007.5 223.5h1.0v1.0h-1.0zM1008.3 212.7h1.1v1.1h-1.1zM1011.7 214.0h1.1v1.1h-1.1zM1006.3 296.6h1.0v1.0h-1.0zM1006.2 272.7h1.2v1.2h-1.2zM1005.6 330.7h1.0v1.0h-1.0zM1008.1 205.3h0.7v0.7h-0.7zM1007.2 279.7h1.2v1.2h-1.2zM1005.8 303.8h0.8v0.8h-0.8zM1005.2 205.8h1.3v1.3h-1.3zM1008.9 291.7h0.8v0.8h-0.8zM1007.5 314.2h1.2v1.2h-1.2zM1006.1 270.3h1.2v1.2h-1.2zM1009.9 270.3h1.0v1.0h-1.0zM1005.5 292.0h0.9v0.9h-0.9zM1010.1 263.0h0.8v0.8h-0.8zM1010.0 286.5h1.1v1.1h-1.1zM1006.6 306.5h1.2v1.2h-1.2zM1011.5 246.8h1.3v1.3h-1.3zM1012.0 337.4h1.2v1.2h-1.2zM1008.2 290.2h1.2v1.2h-1.2zM1011.5 231.4h1.0v1.0h-1.0zM1006.1 243.2h0.7v0.7h-0.7zM1009.4 259.8h1.2v1.2h-1.2zM1006.0 332.0h0.8v0.8h-0.8zM1007.6 303.8h1.2v1.2h-1.2zM1011.9 350.4h0.9v0.9h-0.9zM1010.4 241.1h0.9v0.9h-0.9zM1011.1 212.7h1.2v1.2h-1.2zM1009.2 261.6h0.9v0.9h-0.9zM1010.1 267.3h1.1v1.1h-1.1zM1005.4 200.0h1.3v1.3h-1.3zM1006.9 336.9h1.2v1.2h-1.2zM1007.8 263.1h1.1v1.1h-1.1zM1007.4 277.0h0.8v0.8h-0.8zM1010.3 277.1h0.7v0.7h-0.7zM1009.0 233.8h0.9v0.9h-0.9zM1011.5 212.1h1.0v1.0h-1.0zM1007.8 296.4h1.2v1.2h-1.2zM1005.2 228.7h1.2v1.2h-1.2zM1010.4 258.8h0.9v0.9h-0.9zM1009.0 342.0h0.8v0.8h-0.8zM1009.9 341.0h1.0v1.0h-1.0zM1005.6 298.6h0.9v0.9h-0.9zM1007.0 226.7h0.9v0.9h-0.9zM1010.8 237.7h1.1v1.1h-1.1zM1008.1 201.9h0.8v0.8h-0.8zM1008.2 337.0h1.2v1.2h-1.2zM1012.1 197.4h0.9v0.9h-0.9zM1005.2 335.3h0.8v0.8h-0.8zM1006.8 257.6h1.0v1.0h-1.0zM1012.0 213.9h0.8v0.8h-0.8zM1009.0 296.1h0.9v0.9h-0.9zM1008.1 337.9h1.2v1.2h-1.2zM1005.3 253.8h1.2v1.2h-1.2zM1007.7 298.4h0.7v0.7h-0.7zM1009.9 214.9h1.0v1.0h-1.0zM1006.7 281.2h0.9v0.9h-0.9zM1007.7 251.7h1.3v1.3h-1.3zM1012.2 250.2h1.0v1.0h-1.0zM1011.2 255.3h1.1v1.1h-1.1zM1008.8 239.8h1.2v1.2h-1.2zM1011.9 287.0h0.9v0.9h-0.9zM1011.7 307.1h1.2v1.2h-1.2zM1009.4 219.2h1.2v1.2h-1.2zM1009.6 245.3h1.2v1.2h-1.2zM1007.2 354.5h1.2v1.2h-1.2zM1011.0 307.5h0.9v0.9h-0.9zM1011.5 303.6h1.0v1.0h-1.0zM1005.1 338.2h1.2v1.2h-1.2zM1008.2 324.6h0.7v0.7h-0.7zM1006.7 293.5h0.9v0.9h-0.9zM1007.2 272.1h1.0v1.0h-1.0zM1007.0 213.3h0.9v0.9h-0.9zM1005.0 325.2h0.9v0.9h-0.9zM1010.8 323.4h0.7v0.7h-0.7zM1011.1 297.4h1.1v1.1h-1.1zM1010.9 281.7h0.9v0.9h-0.9zM1008.3 226.7h1.1v1.1h-1.1zM1009.6 198.6h0.9v0.9h-0.9zM1005.8 277.3h1.1v1.1h-1.1zM1007.2 199.7h1.1v1.1h-1.1zM1012.0 315.8h1.2v1.2h-1.2zM1010.1 257.1h1.1v1.1h-1.1zM1007.8 347.5h1.0v1.0h-1.0zM1010.1 221.0h1.2v1.2h-1.2zM1011.4 220.0h0.8v0.8h-0.8zM1006.6 266.9h0.8v0.8h-0.8zM1009.1 209.9h1.1v1.1h-1.1zM1011.7 326.9h1.1v1.1h-1.1zM1008.6 243.2h0.7v0.7h-0.7zM1009.7 297.4h1.0v1.0h-1.0zM1011.6 256.8h0.8v0.8h-0.8zM1010.4 339.3h1.3v1.3h-1.3zM1006.0 275.2h1.0v1.0h-1.0zM1010.6 236.7h1.3v1.3h-1.3zM1006.9 328.8h0.8v0.8h-0.8zM1006.8 262.0h1.0v1.0h-1.0zM1010.9 346.4h1.3v1.3h-1.3zM1005.0 266.9h1.1v1.1h-1.1zM1011.9 353.8h1.1v1.1h-1.1zM1007.8 207.4h0.9v0.9h-0.9zM1007.1 226.4h1.0v1.0h-1.0zM1009.6 214.5h1.0v1.0h-1.0zM1010.8 263.4h1.0v1.0h-1.0zM1007.0 268.3h1.3v1.3h-1.3zM1008.8 300.0h0.9v0.9h-0.9zM1007.9 329.0h1.0v1.0h-1.0zM1009.0 307.7h0.9v0.9h-0.9zM1007.5 248.7h0.7v0.7h-0.7zM1005.7 310.9h0.7v0.7h-0.7zM1008.6 350.6h1.2v1.2h-1.2zM1007.3 265.9h1.2v1.2h-1.2zM1010.1 354.4h1.1v1.1h-1.1zM1010.3 275.4h1.0v1.0h-1.0zM1011.7 353.8h1.0v1.0h-1.0zM1005.6 286.8h1.3v1.3h-1.3zM1010.5 237.4h1.1v1.1h-1.1zM1009.2 320.1h0.7v0.7h-0.7zM1008.7 235.8h0.9v0.9h-0.9zM1010.3 225.3h0.7v0.7h-0.7zM1009.5 261.0h1.2v1.2h-1.2zM1007.5 290.6h0.8v0.8h-0.8zM1012.0 284.0h1.3v1.3h-1.3zM1006.4 313.3h1.1v1.1h-1.1zM1009.9 317.7h1.1v1.1h-1.1zM1011.9 341.4h1.0v1.0h-1.0zM1012.2 251.7h0.8v0.8h-0.8zM1008.4 219.9h0.8v0.8h-0.8zM1004.9 294.2h0.9v0.9h-0.9zM1011.2 255.2h0.9v0.9h-0.9zM1007.5 282.9h0.8v0.8h-0.8zM1011.3 327.9h1.2v1.2h-1.2zM1006.5 205.3h0.8v0.8h-0.8zM1008.8 255.6h1.1v1.1h-1.1zM1009.3 263.3h0.8v0.8h-0.8zM1006.2 324.1h1.2v1.2h-1.2zM1008.2 229.6h0.8v0.8h-0.8zM1007.5 286.4h0.9v0.9h-0.9zM1006.0 318.1h1.0v1.0h-1.0zM1011.3 221.5h0.8v0.8h-0.8zM1008.9 320.5h0.7v0.7h-0.7zM1010.0 329.0h1.0v1.0h-1.0zM1005.5 238.7h1.2v1.2h-1.2zM1011.5 329.4h1.3v1.3h-1.3zM1007.9 329.4h0.9v0.9h-0.9zM1005.0 281.7h1.0v1.0h-1.0zM1006.7 297.5h0.8v0.8h-0.8zM1011.3 263.7h0.8v0.8h-0.8zM1007.0 213.7h1.1v1.1h-1.1zM1006.8 236.3h1.1v1.1h-1.1zM1007.4 290.0h0.8v0.8h-0.8zM1009.1 245.5h1.1v1.1h-1.1zM1005.1 215.8h0.9v0.9h-0.9zM1008.8 291.2h1.1v1.1h-1.1zM1009.3 319.5h0.8v0.8h-0.8zM1011.7 290.9h1.2v1.2h-1.2zM1008.0 222.5h1.0v1.0h-1.0zM1010.7 338.9h1.0v1.0h-1.0zM1007.6 200.0h1.0v1.0h-1.0zM1010.5 234.1h0.7v0.7h-0.7zM1008.7 319.6h0.8v0.8h-0.8zM1005.2 220.6h1.1v1.1h-1.1zM1008.8 252.8h0.9v0.9h-0.9zM1011.3 242.3h1.1v1.1h-1.1zM1006.9 341.8h0.9v0.9h-0.9zM1006.2 308.3h1.1v1.1h-1.1zM1005.7 291.6h0.9v0.9h-0.9zM1009.7 197.2h0.7v0.7h-0.7zM1011.2 210.9h0.8v0.8h-0.8zM1011.5 206.0h1.1v1.1h-1.1zM1010.1 342.1h0.9v0.9h-0.9zM1011.5 240.6h1.2v1.2h-1.2zM1006.4 259.2h1.2v1.2h-1.2zM1011.6 265.8h1.0v1.0h-1.0zM1006.8 335.9h0.9v0.9h-0.9zM1005.7 328.5h1.3v1.3h-1.3zM1006.9 345.7h1.0v1.0h-1.0zM1011.5 327.1h1.1v1.1h-1.1zM1005.6 226.0h0.9v0.9h-0.9zM1009.0 247.0h0.8v0.8h-0.8zM1007.5 197.5h0.7v0.7h-0.7zM1005.0 285.5h0.7v0.7h-0.7zM1009.4 282.7h0.8v0.8h-0.8zM1012.0 326.2h1.3v1.3h-1.3zM1007.5 283.3h0.9v0.9h-0.9zM1006.0 233.0h1.0v1.0h-1.0zM1012.1 250.3h0.7v0.7h-0.7zM1011.3 212.2h1.0v1.0h-1.0zM1011.0 249.0h1.1v1.1h-1.1zM1012.0 286.7h0.9v0.9h-0.9zM1010.2 305.0h1.1v1.1h-1.1zM1008.9 224.0h0.9v0.9h-0.9zM1007.6 263.1h1.3v1.3h-1.3zM1008.9 260.6h1.0v1.0h-1.0zM1008.7 278.4h0.9v0.9h-0.9zM1007.9 288.0h0.8v0.8h-0.8zM1008.1 296.0h1.0v1.0h-1.0zM1009.8 216.2h1.0v1.0h-1.0zM1012.1 215.9h0.9v0.9h-0.9zM1005.2 262.2h1.0v1.0h-1.0zM1006.4 197.8h0.9v0.9h-0.9zM1011.4 212.8h0.9v0.9h-0.9zM1006.4 294.9h0.7v0.7h-0.7zM1010.9 197.4h0.9v0.9h-0.9zM1009.3 313.8h1.1v1.1h-1.1zM1007.3 296.5h1.0v1.0h-1.0zM1008.7 290.0h1.1v1.1h-1.1zM1008.4 302.4h1.1v1.1h-1.1zM1007.1 275.5h1.3v1.3h-1.3zM1008.9 245.3h0.8v0.8h-0.8zM1008.0 265.7h0.9v0.9h-0.9zM1009.0 213.2h1.1v1.1h-1.1zM1006.2 236.5h0.7v0.7h-0.7zM1009.8 262.4h1.1v1.1h-1.1zM1005.1 205.5h1.0v1.0h-1.0zM1006.9 309.3h1.2v1.2h-1.2zM1011.4 258.9h0.7v0.7h-0.7zM1011.4 309.1h0.8v0.8h-0.8zM1007.7 273.4h0.7v0.7h-0.7zM1008.7 238.9h0.7v0.7h-0.7zM1011.7 311.1h1.2v1.2h-1.2zM1009.7 206.1h0.9v0.9h-0.9zM1007.9 231.5h0.7v0.7h-0.7zM1009.7 244.5h1.0v1.0h-1.0zM1005.9 296.9h0.8v0.8h-0.8zM1010.7 347.6h0.9v0.9h-0.9zM1007.2 252.8h1.3v1.3h-1.3zM1012.2 341.2h1.0v1.0h-1.0zM1011.5 265.4h1.3v1.3h-1.3zM1006.9 254.1h1.1v1.1h-1.1zM1006.7 227.8h0.8v0.8h-0.8zM1012.2 327.3h1.0v1.0h-1.0zM1006.6 251.6h0.9v0.9h-0.9zM1006.6 234.7h1.2v1.2h-1.2zM1011.7 320.7h0.8v0.8h-0.8zM1011.0 325.0h0.8v0.8h-0.8zM1009.2 198.8h0.8v0.8h-0.8zM1009.7 268.0h1.0v1.0h-1.0zM1007.4 210.5h1.1v1.1h-1.1zM1008.0 319.2h1.2v1.2h-1.2zM1010.8 350.5h0.7v0.7h-0.7zM1009.1 211.2h1.1v1.1h-1.1zM1007.6 240.3h1.2v1.2h-1.2zM1007.0 314.7h0.8v0.8h-0.8zM1009.3 318.6h1.1v1.1h-1.1zM1009.9 270.7h1.1v1.1h-1.1zM1006.9 245.6h1.2v1.2h-1.2zM1011.9 306.0h1.0v1.0h-1.0zM1010.0 300.1h1.3v1.3h-1.3zM1007.6 241.2h0.7v0.7h-0.7zM1008.0 259.6h0.7v0.7h-0.7zM1011.4 241.0h1.1v1.1h-1.1zM1009.7 291.6h0.8v0.8h-0.8zM1009.1 350.5h1.0v1.0h-1.0zM1011.5 296.2h0.9v0.9h-0.9zM1005.9 227.0h1.2v1.2h-1.2zM1010.7 231.1h1.0v1.0h-1.0zM1010.7 291.8h0.9v0.9h-0.9zM1006.4 230.4h1.1v1.1h-1.1zM1005.6 258.3h1.0v1.0h-1.0zM1007.7 261.0h1.3v1.3h-1.3zM1008.2 260.2h0.8v0.8h-0.8zM1008.3 298.7h0.8v0.8h-0.8zM1006.1 292.6h0.9v0.9h-0.9zM1012.0 342.2h0.9v0.9h-0.9zM1009.8 249.3h0.9v0.9h-0.9zM1008.3 243.8h0.8v0.8h-0.8zM1010.0 280.5h1.0v1.0h-1.0zM1009.0 307.4h0.9v0.9h-0.9zM1007.3 235.6h1.2v1.2h-1.2zM1010.2 281.5h1.3v1.3h-1.3zM1011.5 238.6h0.8v0.8h-0.8zM1005.6 306.1h0.8v0.8h-0.8zM1005.2 210.9h1.2v1.2h-1.2zM1008.1 351.4h1.2v1.2h-1.2zM1010.0 258.2h1.0v1.0h-1.0zM1006.5 245.1h0.9v0.9h-0.9zM1011.3 257.2h1.0v1.0h-1.0zM1009.8 221.9h1.3v1.3h-1.3zM1011.0 249.3h1.2v1.2h-1.2zM1005.0 257.0h1.1v1.1h-1.1zM1011.8 322.6h1.2v1.2h-1.2zM1007.3 341.2h0.7v0.7h-0.7zM1009.5 322.1h0.8v0.8h-0.8zM1010.5 280.9h0.7v0.7h-0.7zM1011.8 240.8h0.9v0.9h-0.9zM1011.4 325.5h0.9v0.9h-0.9zM1005.0 207.3h0.9v0.9h-0.9zM1005.8 203.8h1.2v1.2h-1.2zM1005.2 210.6h0.7v0.7h-0.7zM1009.1 301.2h0.9v0.9h-0.9zM1007.3 289.1h0.8v0.8h-0.8zM1004.8 343.5h0.8v0.8h-0.8zM1006.2 267.6h0.9v0.9h-0.9zM1010.6 331.1h1.3v1.3h-1.3zM1008.9 252.8h0.9v0.9h-0.9zM1012.0 205.8h1.1v1.1h-1.1zM1009.2 239.2h1.1v1.1h-1.1zM1011.5 210.1h0.9v0.9h-0.9zM1005.1 344.9h0.8v0.8h-0.8zM1008.5 316.0h1.2v1.2h-1.2zM1009.8 217.3h0.9v0.9h-0.9zM1005.1 318.6h0.8v0.8h-0.8zM1006.8 222.9h1.3v1.3h-1.3zM1010.2 293.3h1.0v1.0h-1.0zM1005.3 257.1h0.8v0.8h-0.8zM1007.7 343.2h0.8v0.8h-0.8zM1011.6 311.5h1.0v1.0h-1.0zM1010.2 220.6h1.1v1.1h-1.1zM1010.8 208.7h1.2v1.2h-1.2zM1005.0 222.4h1.2v1.2h-1.2zM1007.0 324.2h1.0v1.0h-1.0zM1009.9 262.9h0.8v0.8h-0.8zM1010.1 235.7h1.0v1.0h-1.0zM1007.5 237.9h1.0v1.0h-1.0zM1005.5 237.0h1.0v1.0h-1.0zM1006.3 218.5h1.0v1.0h-1.0zM1011.9 255.3h1.2v1.2h-1.2zM1005.3 340.1h0.9v0.9h-0.9zM1005.8 339.9h1.0v1.0h-1.0zM1006.2 274.5h1.2v1.2h-1.2zM1010.3 292.2h1.2v1.2h-1.2zM1008.2 326.1h0.9v0.9h-0.9zM1010.5 262.9h0.8v0.8h-0.8zM1005.8 330.5h1.2v1.2h-1.2zM1009.8 222.6h1.0v1.0h-1.0zM1004.8 251.3h0.8v0.8h-0.8zM1006.8 295.3h0.7v0.7h-0.7zM1008.0 224.5h0.8v0.8h-0.8zM1007.4 276.6h0.8v0.8h-0.8zM1008.5 210.4h1.0v1.0h-1.0zM1005.9 198.5h1.0v1.0h-1.0zM1006.9 216.1h1.2v1.2h-1.2zM1009.8 325.0h1.0v1.0h-1.0zM1010.0 219.3h1.0v1.0h-1.0zM1008.4 301.0h1.1v1.1h-1.1zM1005.2 268.5h1.2v1.2h-1.2zM1009.4 318.6h1.1v1.1h-1.1zM1011.9 314.3h1.2v1.2h-1.2zM1006.8 309.9h1.0v1.0h-1.0zM1010.5 249.6h0.8v0.8h-0.8zM1005.6 275.6h0.9v0.9h-0.9zM1011.4 308.9h1.2v1.2h-1.2zM1009.6 338.1h1.1v1.1h-1.1zM1005.1 200.8h1.1v1.1h-1.1zM1007.7 230.4h1.0v1.0h-1.0zM1010.4 217.7h0.8v0.8h-0.8zM1010.3 236.8h1.2v1.2h-1.2zM1006.2 263.0h0.8v0.8h-0.8zM1006.4 354.1h1.2v1.2h-1.2zM1011.3 341.2h1.2v1.2h-1.2zM1009.0 278.2h1.1v1.1h-1.1zM1012.0 225.6h1.2v1.2h-1.2zM1008.1 331.7h0.9v0.9h-0.9zM1009.1 351.0h0.8v0.8h-0.8zM1009.7 343.1h0.9v0.9h-0.9zM1011.4 337.4h1.1v1.1h-1.1zM1009.5 284.7h0.8v0.8h-0.8zM1012.0 347.2h0.7v0.7h-0.7zM1006.6 330.7h0.8v0.8h-0.8zM1009.8 237.9h1.3v1.3h-1.3zM1009.8 201.6h1.3v1.3h-1.3zM1011.6 315.1h0.7v0.7h-0.7zM1007.6 228.9h1.2v1.2h-1.2zM1006.6 204.7h0.8v0.8h-0.8zM1006.8 353.6h0.9v0.9h-0.9zM1010.9 343.5h1.0v1.0h-1.0zM1005.4 237.6h1.3v1.3h-1.3zM1006.9 280.4h0.7v0.7h-0.7zM1010.6 245.8h0.7v0.7h-0.7zM1010.8 318.3h0.8v0.8h-0.8zM1009.5 202.0h1.3v1.3h-1.3zM1006.2 338.4h1.1v1.1h-1.1zM1010.6 268.7h1.2v1.2h-1.2zM1012.0 227.4h0.9v0.9h-0.9zM1007.3 346.0h0.9v0.9h-0.9zM1006.7 311.8h0.9v0.9h-0.9zM1010.2 328.5h0.8v0.8h-0.8zM1006.4 318.8h1.1v1.1h-1.1zM1007.4 292.4h0.9v0.9h-0.9zM1006.4 267.2h1.1v1.1h-1.1zM1009.6 327.6h1.1v1.1h-1.1zM1009.7 320.6h1.2v1.2h-1.2zM1005.6 259.2h0.9v0.9h-0.9zM1010.9 239.7h1.2v1.2h-1.2zM1005.0 333.2h0.9v0.9h-0.9zM1010.0 281.3h0.9v0.9h-0.9zM1006.5 280.3h0.9v0.9h-0.9zM1008.5 238.9h0.8v0.8h-0.8zM1010.8 219.0h1.0v1.0h-1.0zM1009.0 252.1h1.3v1.3h-1.3zM1012.2 244.6h1.0v1.0h-1.0zM1011.0 295.4h1.0v1.0h-1.0zM1011.4 253.1h0.8v0.8h-0.8zM1006.6 212.2h1.3v1.3h-1.3zM1010.7 269.1h1.0v1.0h-1.0zM1011.4 263.8h0.9v0.9h-0.9zM1011.2 355.4h1.0v1.0h-1.0zM1010.9 264.5h0.8v0.8h-0.8zM1007.1 237.9h1.2v1.2h-1.2zM1009.4 245.1h0.8v0.8h-0.8zM1010.5 308.9h1.1v1.1h-1.1zM1008.5 329.3h1.2v1.2h-1.2zM1009.5 224.1h0.7v0.7h-0.7zM1004.9 237.3h0.9v0.9h-0.9zM1010.0 334.6h1.3v1.3h-1.3zM1011.5 235.9h1.2v1.2h-1.2zM1006.8 218.8h1.0v1.0h-1.0zM1008.6 260.5h1.0v1.0h-1.0z"/>
<path fill="#30c0c0" d="M1008.3 256.1h1.3v1.3h-1.3zM1010.3 200.3h1.2v1.2h-1.2zM1011.8 268.1h1.2v1.2h-1.2zM1007.9 271.2h0.8v0.8h-0.8zM1011.0 215.7h0.8v0.8h-0.8zM1008.6 223.6h1.2v1.2h-1.2zM1006.2 272.8h1.3v1.3h-1.3zM1007.1 303.2h1.3v1.3h-1.3zM1010.3 291.6h0.8v0.8h-0.8zM1007.0 310.0h0.8v0.8h-0.8zM1007.7 333.2h0.7v0.7h-0.7zM1008.5 313.0h0.9v0.9h-0.9zM1011.1 233.5h1.1v1.1h-1.1zM1010.4 207.7h1.1v1.1h-1.1zM1010.3 323.2h0.9v0.9h-0.9zM1004.9 280.7h0.9v0.9h-0.9zM1012.1 245.8h1.3v1.3h-1.3zM1005.0 283.6h1.3v1.3h-1.3zM1010.1 316.6h1.0v1.0h-1.0zM1009.6 355.2h0.9v0.9h-0.9zM1011.5 339.2h1.1v1.1h-1.1zM1005.1 289.1h1.1v1.1h-1.1zM1009.9 222.5h0.9v0.9h-0.9zM1006.9 288.8h1.2v1.2h-1.2zM1006.7 236.8h1.1v1.1h-1.1zM1005.4 285.0h1.2v1.2h-1.2zM1008.8 269.3h1.0v1.0h-1.0zM1008.7 237.3h0.8v0.8h-0.8zM1006.8 204.5h1.2v1.2h-1.2zM1005.7 347.2h1.1v1.1h-1.1zM1005.1 232.0h1.1v1.1h-1.1zM1012.1 344.0h1.1v1.1h-1.1zM1006.6 250.1h1.2v1.2h-1.2zM1008.3 278.5h1.0v1.0h-1.0zM1010.4 228.3h0.9v0.9h-0.9zM1011.1 355.5h1.0v1.0h-1.0zM1007.4 294.8h1.3v1.3h-1.3zM1009.9 210.6h0.9v0.9h-0.9zM1010.8 261.3h0.8v0.8h-0.8zM1008.0 292.3h0.7v0.7h-0.7zM1007.5 226.0h1.2v1.2h-1.2zM1010.1 342.0h0.9v0.9h-0.9zM1006.1 302.9h1.1v1.1h-1.1zM1007.5 274.9h1.2v1.2h-1.2zM1011.4 262.2h0.8v0.8h-0.8zM1011.0 271.4h1.0v1.0h-1.0zM1005.6 197.1h1.2v1.2h-1.2zM1009.6 298.5h1.3v1.3h-1.3zM1009.2 280.3h1.1v1.1h-1.1zM1010.3 306.0h0.8v0.8h-0.8zM1008.7 273.2h1.1v1.1h-1.1zM1009.6 234.5h1.1v1.1h-1.1zM1006.7 273.0h0.8v0.8h-0.8zM1006.2 332.3h1.0v1.0h-1.0zM1009.3 343.6h0.8v0.8h-0.8zM1011.0 246.1h1.3v1.3h-1.3zM1010.7 287.6h0.9v0.9h-0.9zM1010.1 252.8h0.8v0.8h-0.8zM1006.4 211.2h0.9v0.9h-0.9zM1010.3 255.8h0.8v0.8h-0.8zM1010.6 351.7h0.9v0.9h-0.9zM1009.1 260.4h0.7v0.7h-0.7zM1010.0 267.8h0.9v0.9h-0.9zM1009.6 318.4h0.9v0.9h-0.9zM1009.9 267.1h1.0v1.0h-1.0zM1008.1 320.5h1.1v1.1h-1.1zM1010.6 261.2h0.9v0.9h-0.9zM1006.4 295.7h1.2v1.2h-1.2zM1008.4 266.4h1.0v1.0h-1.0zM1007.9 352.9h0.8v0.8h-0.8zM1006.9 286.7h1.0v1.0h-1.0zM1005.5 276.3h1.0v1.0h-1.0zM1007.1 268.1h0.7v0.7h-0.7zM1008.0 290.1h1.1v1.1h-1.1zM1012.1 198.3h1.1v1.1h-1.1zM1012.1 281.9h1.2v1.2h-1.2zM1011.1 300.0h1.0v1.0h-1.0zM1009.2 217.5h1.1v1.1h-1.1zM1007.3 327.0h1.1v1.1h-1.1zM1009.6 297.6h1.1v1.1h-1.1zM1005.0 263.2h0.9v0.9h-0.9zM1006.3 251.0h1.3v1.3h-1.3zM1009.1 240.6h1.2v1.2h-1.2zM1007.4 208.4h1.1v1.1h-1.1zM1010.2 299.2h1.1v1.1h-1.1zM1005.0 230.9h1.2v1.2h-1.2zM1006.2 208.1h1.0v1.0h-1.0zM1010.8 234.1h1.0v1.0h-1.0zM1009.7 260.6h0.7v0.7h-0.7zM1008.7 222.6h0.8v0.8h-0.8zM1006.2 290.7h0.8v0.8h-0.8zM1006.4 229.4h0.7v0.7h-0.7zM1010.8 334.4h1.2v1.2h-1.2zM1005.7 310.1h1.2v1.2h-1.2zM1006.6 216.4h0.9v0.9h-0.9zM1011.9 288.3h1.0v1.0h-1.0zM1009.0 310.5h0.8v0.8h-0.8z"/>
<polyline points="899.8,358.0 899.8,263.8 997.5,263.8 997.5,358.0 899.8,358.0" stroke="#c8c800" stroke-width="1.1" fill="none"/>
<path d="M909.5 300 V278 Q909.5 275 912.5 275 H984 Q987 275 987 278 V342.5 Q987 345.5 984 345.5 H912.5 Q909.5 345.5 909.5 342.5 Z" stroke="#c8c800" stroke-width="1.0" fill="none"/>
<line x1="909.5" y1="278.0" x2="909.5" y2="432.0" stroke="#9a9a9a" stroke-width="0.9" stroke-dasharray="10 1.5 2 1.5"/>
<line x1="987.0" y1="278.0" x2="987.0" y2="432.0" stroke="#9a9a9a" stroke-width="0.9" stroke-dasharray="10 1.5 2 1.5"/>
<line x1="899.5" y1="357.5" x2="998.0" y2="357.5" stroke="#e8e8e8" stroke-width="0.8"/>
<line x1="940.8" y1="187.0" x2="940.8" y2="362.0" stroke="#e8e8e8" stroke-width="0.9"/>
<line x1="939.2" y1="188.6" x2="942.4" y2="185.4" stroke="#e8e8e8" stroke-width="0.7"/>
<line x1="939.2" y1="251.1" x2="942.4" y2="247.9" stroke="#e8e8e8" stroke-width="0.7"/>
<line x1="939.2" y1="307.1" x2="942.4" y2="303.9" stroke="#e8e8e8" stroke-width="0.7"/>
<line x1="939.2" y1="347.1" x2="942.4" y2="343.9" stroke="#e8e8e8" stroke-width="0.7"/>
<line x1="939.2" y1="359.1" x2="942.4" y2="355.9" stroke="#e8e8e8" stroke-width="0.7"/>
<line x1="930.0" y1="187.0" x2="950.0" y2="187.0" stroke="#e8e8e8" stroke-width="0.7"/>
<text transform="translate(939.0 217.0) rotate(-90) scale(0.85 1)" x="0" y="0" font-size="5.2" fill="#e8e8e8" stroke="#e8e8e8" stroke-width="0.2" text-anchor="middle">5160</text>
<text transform="translate(939.0 280.0) rotate(-90) scale(0.85 1)" x="0" y="0" font-size="5.2" fill="#e8e8e8" stroke="#e8e8e8" stroke-width="0.2" text-anchor="middle">4800</text>
<text transform="translate(939.0 325.0) rotate(-90) scale(0.85 1)" x="0" y="0" font-size="5.2" fill="#e8e8e8" stroke="#e8e8e8" stroke-width="0.2" text-anchor="middle">7940</text>
<text transform="translate(939.0 351.0) rotate(-90) scale(0.85 1)" x="0" y="0" font-size="5.2" fill="#e8e8e8" stroke="#e8e8e8" stroke-width="0.2" text-anchor="middle">150 200</text>
<line x1="1034.5" y1="169.0" x2="1034.5" y2="358.0" stroke="#e8e8e8" stroke-width="0.9"/>
<line x1="1022.0" y1="187.0" x2="1040.0" y2="187.0" stroke="#e8e8e8" stroke-width="0.7"/>
<line x1="1032.9" y1="188.6" x2="1036.1" y2="185.4" stroke="#e8e8e8" stroke-width="0.7"/>
<line x1="1022.0" y1="249.5" x2="1040.0" y2="249.5" stroke="#e8e8e8" stroke-width="0.7"/>
<line x1="1032.9" y1="251.1" x2="1036.1" y2="247.9" stroke="#e8e8e8" stroke-width="0.7"/>
<line x1="1022.0" y1="305.5" x2="1040.0" y2="305.5" stroke="#e8e8e8" stroke-width="0.7"/>
<line x1="1032.9" y1="307.1" x2="1036.1" y2="303.9" stroke="#e8e8e8" stroke-width="0.7"/>
<line x1="1022.0" y1="358.0" x2="1040.0" y2="358.0" stroke="#e8e8e8" stroke-width="0.7"/>
<line x1="1032.9" y1="359.6" x2="1036.1" y2="356.4" stroke="#e8e8e8" stroke-width="0.7"/>
<line x1="1002.0" y1="358.0" x2="1040.0" y2="358.0" stroke="#e8e8e8" stroke-width="0.7"/>
<text transform="translate(1033.0 177.0) rotate(-90) scale(0.85 1)" x="0" y="0" font-size="5.2" fill="#e8e8e8" stroke="#e8e8e8" stroke-width="0.2" text-anchor="middle">181</text>
<text transform="translate(1033.0 217.0) rotate(-90) scale(0.85 1)" x="0" y="0" font-size="5.2" fill="#e8e8e8" stroke="#e8e8e8" stroke-width="0.2" text-anchor="middle">5160</text>
<text transform="translate(1033.0 280.0) rotate(-90) scale(0.85 1)" x="0" y="0" font-size="5.2" fill="#e8e8e8" stroke="#e8e8e8" stroke-width="0.2" text-anchor="middle">4800</text>
<text transform="translate(1033.0 330.0) rotate(-90) scale(0.85 1)" x="0" y="0" font-size="5.2" fill="#e8e8e8" stroke="#e8e8e8" stroke-width="0.2" text-anchor="middle">4310</text>
<rect x="909.5" y="182.5" width="78.5" height="8.8" stroke="#e020e0" stroke-width="1.0" fill="none"/>
<line x1="910.3" y1="182.5" x2="910.3" y2="191.3" stroke="#e020e0" stroke-width="0.7"/>
<line x1="987.2" y1="182.5" x2="987.2" y2="191.3" stroke="#e020e0" stroke-width="0.7"/>
<line x1="899.5" y1="181.5" x2="899.5" y2="192.3" stroke="#e020e0" stroke-width="1.4"/>
<line x1="899.5" y1="186.9" x2="909.5" y2="186.9" stroke="#e020e0" stroke-width="1.3"/>
<path d="M899.5 182.0 H904.5 L906.5 183.5 H909.5 V190.3 H906.5 L904.5 191.8 H899.5" stroke="#e020e0" stroke-width="1.0" fill="none"/>
<line x1="998.0" y1="181.5" x2="998.0" y2="192.3" stroke="#e020e0" stroke-width="1.4"/>
<line x1="998.0" y1="186.9" x2="988.0" y2="186.9" stroke="#e020e0" stroke-width="1.3"/>
<path d="M998.0 182.0 H993.0 L991.0 183.5 H988.0 V190.3 H991.0 L993.0 191.8 H998.0" stroke="#e020e0" stroke-width="1.0" fill="none"/>
<rect x="909.5" y="246.3" width="78.5" height="7.5" stroke="#e020e0" stroke-width="1.0" fill="none"/>
<line x1="910.3" y1="246.3" x2="910.3" y2="253.8" stroke="#e020e0" stroke-width="0.7"/>
<line x1="987.2" y1="246.3" x2="987.2" y2="253.8" stroke="#e020e0" stroke-width="0.7"/>
<line x1="899.5" y1="245.3" x2="899.5" y2="254.8" stroke="#e020e0" stroke-width="1.4"/>
<line x1="899.5" y1="250.1" x2="909.5" y2="250.1" stroke="#e020e0" stroke-width="1.3"/>
<path d="M899.5 245.8 H904.5 L906.5 247.3 H909.5 V252.8 H906.5 L904.5 254.3 H899.5" stroke="#e020e0" stroke-width="1.0" fill="none"/>
<line x1="998.0" y1="245.3" x2="998.0" y2="254.8" stroke="#e020e0" stroke-width="1.4"/>
<line x1="998.0" y1="250.1" x2="988.0" y2="250.1" stroke="#e020e0" stroke-width="1.3"/>
<path d="M998.0 245.8 H993.0 L991.0 247.3 H988.0 V252.8 H991.0 L993.0 254.3 H998.0" stroke="#e020e0" stroke-width="1.0" fill="none"/>
<rect x="909.5" y="302.0" width="78.5" height="8.0" stroke="#e020e0" stroke-width="1.0" fill="none"/>
<line x1="910.3" y1="302.0" x2="910.3" y2="310.0" stroke="#e020e0" stroke-width="0.7"/>
<line x1="987.2" y1="302.0" x2="987.2" y2="310.0" stroke="#e020e0" stroke-width="0.7"/>
<line x1="899.5" y1="301.0" x2="899.5" y2="311.0" stroke="#e020e0" stroke-width="1.4"/>
<line x1="899.5" y1="306.0" x2="909.5" y2="306.0" stroke="#e020e0" stroke-width="1.3"/>
<path d="M899.5 301.5 H904.5 L906.5 303.0 H909.5 V309.0 H906.5 L904.5 310.5 H899.5" stroke="#e020e0" stroke-width="1.0" fill="none"/>
<line x1="998.0" y1="301.0" x2="998.0" y2="311.0" stroke="#e020e0" stroke-width="1.4"/>
<line x1="998.0" y1="306.0" x2="988.0" y2="306.0" stroke="#e020e0" stroke-width="1.3"/>
<path d="M998.0 301.5 H993.0 L991.0 303.0 H988.0 V309.0 H991.0 L993.0 310.5 H998.0" stroke="#e020e0" stroke-width="1.0" fill="none"/>
<line x1="872.5" y1="187.0" x2="1022.5" y2="187.0" stroke="#d01010" stroke-width="1.1" stroke-dasharray="9 3 2 3"/>
<line x1="872.5" y1="249.5" x2="1022.5" y2="249.5" stroke="#d01010" stroke-width="1.1" stroke-dasharray="9 3 2 3"/>
<line x1="872.5" y1="305.5" x2="1022.5" y2="305.5" stroke="#d01010" stroke-width="1.1" stroke-dasharray="9 3 2 3"/>
<line x1="899.5" y1="376.3" x2="998.0" y2="376.3" stroke="#e8e8e8" stroke-width="0.8"/>
<line x1="899.5" y1="382.5" x2="998.0" y2="382.5" stroke="#e8e8e8" stroke-width="0.8"/>
<line x1="899.5" y1="366.0" x2="899.5" y2="385.0" stroke="#e8e8e8" stroke-width="0.6"/>
<line x1="998.0" y1="366.0" x2="998.0" y2="385.0" stroke="#e8e8e8" stroke-width="0.6"/>
<line x1="897.9" y1="377.9" x2="901.1" y2="374.7" stroke="#e8e8e8" stroke-width="0.7"/>
<line x1="907.9" y1="377.9" x2="911.1" y2="374.7" stroke="#e8e8e8" stroke-width="0.7"/>
<line x1="985.4" y1="377.9" x2="988.6" y2="374.7" stroke="#e8e8e8" stroke-width="0.7"/>
<line x1="996.4" y1="377.9" x2="999.6" y2="374.7" stroke="#e8e8e8" stroke-width="0.7"/>
<text transform="translate(948.0 374.0) scale(0.85 1)" x="0" y="0" font-size="5.2" fill="#e8e8e8" text-anchor="middle" stroke="#e8e8e8" stroke-width="0.22">6000</text>
<text transform="translate(948.0 380.5) scale(0.85 1)" x="0" y="0" font-size="5.2" fill="#e8e8e8" text-anchor="middle" stroke="#e8e8e8" stroke-width="0.22">7800</text>
<text transform="translate(900.5 374.0) scale(0.8 1)" x="0" y="0" font-size="4.6" fill="#e8e8e8" text-anchor="middle" stroke="#e8e8e8" stroke-width="0.22">181 800</text>
<text transform="translate(996.0 374.0) scale(0.8 1)" x="0" y="0" font-size="4.6" fill="#e8e8e8" text-anchor="middle" stroke="#e8e8e8" stroke-width="0.22">800 181</text>
<circle cx="910.5" cy="438.0" r="4.5" stroke="#10c010" stroke-width="1.0" fill="none"/>
<text x="910.5" y="440.1" font-size="5.6" fill="#e8e8e8" text-anchor="middle" stroke="#e8e8e8" stroke-width="0.22">B</text>
<circle cx="987.0" cy="438.0" r="4.5" stroke="#10c010" stroke-width="1.0" fill="none"/>
<text x="987.0" y="440.1" font-size="5.6" fill="#e8e8e8" text-anchor="middle" stroke="#e8e8e8" stroke-width="0.22">C</text>
<line x1="1002.5" y1="409.0" x2="1048.8" y2="409.0" stroke="#e8e8e8" stroke-width="0.8"/>
<text x="1015.0" y="406.0" font-size="5" fill="#e8e8e8" text-anchor="start" font-weight="bold" stroke="#e8e8e8" stroke-width="0.22">C30钻孔灌注桩</text>
<text transform="translate(1017.0 415.5) scale(0.85 1)" x="0" y="0" font-size="5" fill="#e8e8e8" text-anchor="start" stroke="#e8e8e8" stroke-width="0.22">φ1000@1300</text>
<text x="1020.0" y="421.5" font-size="5" fill="#e8e8e8" text-anchor="start" font-weight="bold" stroke="#e8e8e8" stroke-width="0.22">桩长19.53m</text>
<text x="923.8" y="465.0" font-size="6.2" fill="#e8e8e8" text-anchor="start" font-weight="bold" stroke="#e8e8e8" stroke-width="0.22">基坑C—C剖面图布置</text>
<line x1="920.0" y1="469.5" x2="987.0" y2="469.5" stroke="#10c010" stroke-width="1.4"/>
<line x1="920.0" y1="472.5" x2="987.0" y2="472.5" stroke="#10c010" stroke-width="1.0"/>
<text x="940.0" y="481.0" font-size="7.2" fill="#d8d8d8" text-anchor="start" stroke="#d8d8d8" stroke-width="0.22">1:100</text>
<text x="765" y="490.5" font-size="7" fill="#f0f0f0" stroke="#f0f0f0" stroke-width="0.22" font-weight="bold" textLength="55.6" lengthAdjust="spacingAndGlyphs">②~③ 支撑轴力表</text>
<line x1="756.3" y1="494.7" x2="828.5" y2="494.7" stroke="#10c010" stroke-width="2.6"/>
<rect x="740.6" y="507.5" width="102.9" height="50.4" stroke="#e8e8e8" stroke-width="0.9" fill="none"/>
<line x1="740.6" y1="517.8" x2="843.5" y2="517.8" stroke="#e8e8e8" stroke-width="0.8"/>
<line x1="740.6" y1="527.8" x2="843.5" y2="527.8" stroke="#e8e8e8" stroke-width="0.8"/>
<line x1="740.6" y1="537.3" x2="843.5" y2="537.3" stroke="#e8e8e8" stroke-width="0.8"/>
<line x1="740.6" y1="547.3" x2="843.5" y2="547.3" stroke="#e8e8e8" stroke-width="0.8"/>
<line x1="765.9" y1="507.5" x2="765.9" y2="557.9" stroke="#e8e8e8" stroke-width="0.8"/>
<line x1="804.3" y1="507.5" x2="804.3" y2="557.9" stroke="#e8e8e8" stroke-width="0.8"/>
<line x1="804.3" y1="557.9" x2="843.5" y2="547.3" stroke="#e8e8e8" stroke-width="0.8"/>
<text x="785.0" y="515.0" font-size="5.3" fill="#e8e8e8" text-anchor="middle" font-weight="bold" stroke="#e8e8e8" stroke-width="0.22">标准值(kN/m)</text>
<text x="824.0" y="515.0" font-size="5.3" fill="#e8e8e8" text-anchor="middle" font-weight="bold" stroke="#e8e8e8" stroke-width="0.22">设计值(kN/m)</text>
<text x="753.0" y="525.0" font-size="5.2" fill="#e8e8e8" text-anchor="middle" font-weight="bold" stroke="#e8e8e8" stroke-width="0.22">第一道支撑</text>
<text transform="translate(785.0 525.0) scale(0.85 1)" x="0" y="0" font-size="5.3" fill="#e8e8e8" text-anchor="middle" stroke="#e8e8e8" stroke-width="0.22">123.5</text>
<text transform="translate(824.0 525.0) scale(0.85 1)" x="0" y="0" font-size="5.3" fill="#e8e8e8" text-anchor="middle" stroke="#e8e8e8" stroke-width="0.22">60</text>
<text x="753.0" y="535.0" font-size="5.2" fill="#e8e8e8" text-anchor="middle" font-weight="bold" stroke="#e8e8e8" stroke-width="0.22">第二道支撑</text>
<text transform="translate(785.0 535.0) scale(0.85 1)" x="0" y="0" font-size="5.3" fill="#e8e8e8" text-anchor="middle" stroke="#e8e8e8" stroke-width="0.22">843.1</text>
<text transform="translate(824.0 535.0) scale(0.85 1)" x="0" y="0" font-size="5.3" fill="#e8e8e8" text-anchor="middle" stroke="#e8e8e8" stroke-width="0.22">400</text>
<text x="753.0" y="545.0" font-size="5.2" fill="#e8e8e8" text-anchor="middle" font-weight="bold" stroke="#e8e8e8" stroke-width="0.22">第三道支撑</text>
<text transform="translate(785.0 545.0) scale(0.85 1)" x="0" y="0" font-size="5.3" fill="#e8e8e8" text-anchor="middle" stroke="#e8e8e8" stroke-width="0.22">679</text>
<text transform="translate(824.0 545.0) scale(0.85 1)" x="0" y="0" font-size="5.3" fill="#e8e8e8" text-anchor="middle" stroke="#e8e8e8" stroke-width="0.22">350</text>
<line x1="639.4" y1="581.2" x2="1087.0" y2="581.2" stroke="#f0f0f0" stroke-width="1.2"/>
<line x1="639.4" y1="581.2" x2="639.4" y2="598.0" stroke="#f0f0f0" stroke-width="1.0"/>
<line x1="748.5" y1="591.5" x2="1001.0" y2="591.5" stroke="#e8e8e8" stroke-width="0.8"/>
<line x1="748.5" y1="581.2" x2="748.5" y2="598.0" stroke="#e8e8e8" stroke-width="0.8"/>
<line x1="774.4" y1="581.2" x2="774.4" y2="598.0" stroke="#e8e8e8" stroke-width="0.8"/>
<line x1="863.4" y1="581.2" x2="863.4" y2="598.0" stroke="#e8e8e8" stroke-width="0.8"/>
<line x1="886.0" y1="581.2" x2="886.0" y2="598.0" stroke="#e8e8e8" stroke-width="0.8"/>
<line x1="910.0" y1="581.2" x2="910.0" y2="598.0" stroke="#e8e8e8" stroke-width="0.8"/>
<line x1="931.9" y1="581.2" x2="931.9" y2="598.0" stroke="#e8e8e8" stroke-width="0.8"/>
<line x1="955.2" y1="581.2" x2="955.2" y2="598.0" stroke="#e8e8e8" stroke-width="0.8"/>
<line x1="978.6" y1="581.2" x2="978.6" y2="598.0" stroke="#e8e8e8" stroke-width="0.8"/>
<line x1="1001.0" y1="581.2" x2="1001.0" y2="598.0" stroke="#e8e8e8" stroke-width="0.8"/>
<line x1="817.5" y1="591.5" x2="817.5" y2="598.0" stroke="#e8e8e8" stroke-width="0.8"/>
<line x1="841.0" y1="591.5" x2="841.0" y2="598.0" stroke="#e8e8e8" stroke-width="0.8"/>
<line x1="1084.6" y1="581.2" x2="1084.6" y2="598.0" stroke="#909090" stroke-width="1.4"/>
<text x="650" y="594.5" font-size="6" fill="#f0f0f0" stroke="#f0f0f0" stroke-width="0.22" font-weight="bold" textLength="88" lengthAdjust="spacingAndGlyphs">北京城建勘测设计研究院有限责任公司</text>
<text x="752.0" y="589.0" font-size="4.5" fill="#e8e8e8" text-anchor="start" font-weight="bold" stroke="#e8e8e8" stroke-width="0.22">工程名称</text>
<text x="752.0" y="597.0" font-size="4.5" fill="#e8e8e8" text-anchor="start" font-weight="bold" stroke="#e8e8e8" stroke-width="0.22">工程编号</text>
<text x="777" y="589" font-size="4.8" fill="#f0f0f0" stroke="#f0f0f0" stroke-width="0.22" font-weight="bold" textLength="84" lengthAdjust="spacingAndGlyphs">某地铁车站基坑围护结构(主体结构)-车站横剖面(二期)</text>
<text x="790.0" y="597.0" font-size="4.5" fill="#e8e8e8" text-anchor="start" font-weight="bold" stroke="#e8e8e8" stroke-width="0.22">KTD-0042W</text>
<text x="864.0" y="589.0" font-size="4.5" fill="#e8e8e8" text-anchor="start" font-weight="bold" stroke="#e8e8e8" stroke-width="0.22">审</text>
<text x="880.0" y="589.0" font-size="4.5" fill="#e8e8e8" text-anchor="start" font-weight="bold" stroke="#e8e8e8" stroke-width="0.22">定</text>
<text x="912.0" y="589.0" font-size="4.5" fill="#e8e8e8" text-anchor="start" font-weight="bold" stroke="#e8e8e8" stroke-width="0.22">项目负责</text>
<text x="957.0" y="589.0" font-size="4.5" fill="#e8e8e8" text-anchor="start" font-weight="bold" stroke="#e8e8e8" stroke-width="0.22">设</text>
<text x="972.0" y="589.0" font-size="4.5" fill="#e8e8e8" text-anchor="start" font-weight="bold" stroke="#e8e8e8" stroke-width="0.22">计</text>
<text x="864.0" y="597.5" font-size="4.5" fill="#e8e8e8" text-anchor="start" font-weight="bold" stroke="#e8e8e8" stroke-width="0.22">审</text>
<text x="880.0" y="597.5" font-size="4.5" fill="#e8e8e8" text-anchor="start" font-weight="bold" stroke="#e8e8e8" stroke-width="0.22">核</text>
<text x="912.0" y="597.5" font-size="4.5" fill="#e8e8e8" text-anchor="start" font-weight="bold" stroke="#e8e8e8" stroke-width="0.22">复</text>
<text x="926.0" y="597.5" font-size="4.5" fill="#e8e8e8" text-anchor="start" font-weight="bold" stroke="#e8e8e8" stroke-width="0.22">核</text>
<text x="957.0" y="597.5" font-size="4.5" fill="#e8e8e8" text-anchor="start" font-weight="bold" stroke="#e8e8e8" stroke-width="0.22">制图校对</text>
<text x="819.0" y="597.5" font-size="4.5" fill="#e8e8e8" text-anchor="start" font-weight="bold" stroke="#e8e8e8" stroke-width="0.22">1</text>
<text x="836.0" y="597.5" font-size="4.5" fill="#e8e8e8" text-anchor="start" font-weight="bold" stroke="#e8e8e8" stroke-width="0.22">6</text>
<text x="845.0" y="597.5" font-size="4.5" fill="#e8e8e8" text-anchor="start" font-weight="bold" stroke="#e8e8e8" stroke-width="0.22">2016</text>
<text x="1011" y="595" font-size="6" fill="#f0f0f0" stroke="#f0f0f0" stroke-width="0.22" font-weight="bold" textLength="65" lengthAdjust="spacingAndGlyphs">基坑横向B—B、C—C剖面图</text>
</g>
</svg>
<svg id="logo" style="position:absolute;left:1170px;top:5px" width="110" height="60" viewBox="0 0 110 60">
 <g transform="scale(0.08594)">
  <path fill="#e8650f" d="M76,380 C135,140 400,5 548,300 C440,175 225,180 76,380 Z"/>
  <path fill="#e8650f" d="M350,90 C460,30 610,110 575,262 C545,150 470,95 350,90 Z"/>
  <path fill="#e8650f" d="M564,84 C645,98 680,190 604,250 C636,180 622,122 564,84 Z"/>
  <path fill="#e8650f" d="M652,176 C705,198 705,248 636,267 C668,240 672,210 652,176 Z"/>
  <path fill="#0b47a6" d="M498,375 C470,250 280,225 170,340 C60,450 90,640 240,655 C300,660 350,640 392,600 C280,620 200,570 205,480 C215,360 380,270 498,375 Z"/>
 </g>
 <g transform="translate(20,30) scale(0.07032)">
  <path fill="#0b47a6" fill-rule="evenodd" d="M80,270 L165,75 L400,75 C460,75 460,120 440,160 L400,230 C380,262 360,270 320,270 Z M190,222 L300,222 C320,222 330,215 340,195 L358,150 C366,130 360,122 340,122 L240,122 Z"/>
  <path fill="#0b47a6" d="M445,270 L555,75 L652,75 L612,148 L735,148 L772,75 L868,75 L760,270 L662,270 L708,195 L585,195 L540,270 Z"/>
  <path fill="#0b47a6" fill-rule="evenodd" d="M800,270 L1060,75 L1172,75 L1180,270 L1078,270 L1078,238 L950,238 L905,270 Z M1010,195 L1078,195 L1076,122 Z"/>
 </g>
</svg>
<div class="cap">基坑横向剖面图</div>
<div class="bar"></div>
</body></html>
